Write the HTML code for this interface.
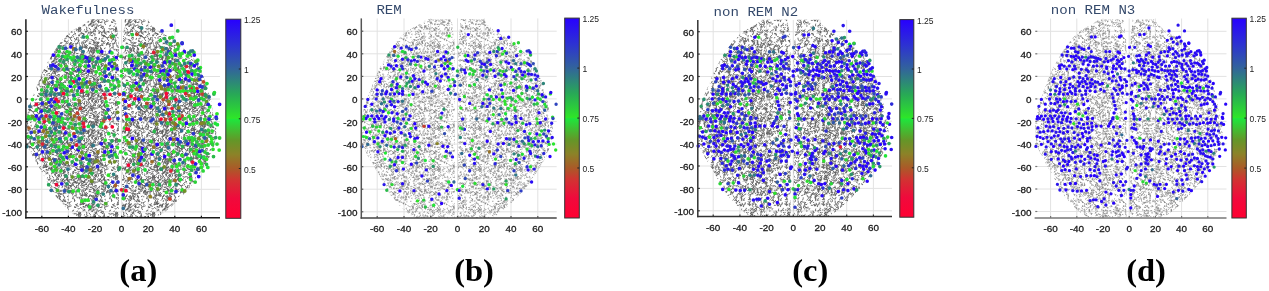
<!DOCTYPE html><html><head><meta charset="utf-8"><style>html,body{margin:0;padding:0;background:#fff;width:1269px;height:291px;overflow:hidden}svg{display:block;will-change:transform;filter:blur(0.35px)}</style></head><body>
<svg width="1269" height="291" viewBox="0 0 1269 291">
<defs>
<linearGradient id="cba" x1="0" y1="0" x2="0" y2="1"><stop offset="0" stop-color="#2800ff"/><stop offset="0.13" stop-color="#2d32d2"/><stop offset="0.25" stop-color="#32649b"/><stop offset="0.38" stop-color="#28aa55"/><stop offset="0.498" stop-color="#2ee628"/><stop offset="0.502" stop-color="#1ee63c"/><stop offset="0.61" stop-color="#649628"/><stop offset="0.68" stop-color="#8c8228"/><stop offset="0.75" stop-color="#aa5a28"/><stop offset="0.81" stop-color="#d23232"/><stop offset="0.9" stop-color="#f00a3c"/><stop offset="1" stop-color="#ff0032"/></linearGradient>
<linearGradient id="cbb" x1="0" y1="0" x2="0" y2="1"><stop offset="0" stop-color="#2800ff"/><stop offset="0.13" stop-color="#2d32d2"/><stop offset="0.25" stop-color="#32649b"/><stop offset="0.38" stop-color="#28aa55"/><stop offset="0.498" stop-color="#2ee628"/><stop offset="0.502" stop-color="#1ee63c"/><stop offset="0.61" stop-color="#649628"/><stop offset="0.68" stop-color="#8c8228"/><stop offset="0.75" stop-color="#aa5a28"/><stop offset="0.81" stop-color="#d23232"/><stop offset="0.9" stop-color="#f00a3c"/><stop offset="1" stop-color="#ff0032"/></linearGradient>
<linearGradient id="cbc" x1="0" y1="0" x2="0" y2="1"><stop offset="0" stop-color="#2800ff"/><stop offset="0.13" stop-color="#2d32d2"/><stop offset="0.25" stop-color="#32649b"/><stop offset="0.38" stop-color="#28aa55"/><stop offset="0.498" stop-color="#2ee628"/><stop offset="0.502" stop-color="#1ee63c"/><stop offset="0.61" stop-color="#649628"/><stop offset="0.68" stop-color="#8c8228"/><stop offset="0.75" stop-color="#aa5a28"/><stop offset="0.81" stop-color="#d23232"/><stop offset="0.9" stop-color="#f00a3c"/><stop offset="1" stop-color="#ff0032"/></linearGradient>
<linearGradient id="cbd" x1="0" y1="0" x2="0" y2="1"><stop offset="0" stop-color="#2800ff"/><stop offset="0.13" stop-color="#2d32d2"/><stop offset="0.25" stop-color="#32649b"/><stop offset="0.38" stop-color="#28aa55"/><stop offset="0.498" stop-color="#2ee628"/><stop offset="0.502" stop-color="#1ee63c"/><stop offset="0.61" stop-color="#649628"/><stop offset="0.68" stop-color="#8c8228"/><stop offset="0.75" stop-color="#aa5a28"/><stop offset="0.81" stop-color="#d23232"/><stop offset="0.9" stop-color="#f00a3c"/><stop offset="1" stop-color="#ff0032"/></linearGradient>
<pattern id="gpa" patternUnits="userSpaceOnUse" width="37" height="37"><path d="M7.2 29.8q-0.3 1.0 -1.6 1.7M20.6 1.5q0.6 -1.5 1.8 -1.5M16.2 24.9q-0.0 -1.1 0.6 -1.2M15.2 6.9q0.5 -1.3 0.9 -1.0M27.7 4.0q1.6 0.6 1.7 0.7M27.5 16.8q-0.2 0.1 1.4 -0.2M18.7 7.3q0.4 -0.2 1.7 0.9M36.2 36.1q0.7 0.4 0.6 0.8M36.2 -0.9q0.7 0.4 0.6 0.8M-0.8 36.1q0.7 0.4 0.6 0.8M-0.8 -0.9q0.7 0.4 0.6 0.8M27.6 1.8q1.7 -1.3 1.9 -1.0M19.6 31.0q1.1 0.4 2.0 0.6M20.3 15.1q0.4 -0.3 0.3 -1.7M22.3 10.4q0.5 -1.4 2.0 -1.7M10.9 18.6q-0.9 0.1 -2.6 -0.1M7.8 17.9q-0.2 -1.0 1.4 -1.3M1.5 19.9q0.2 0.1 2.1 -1.1M10.0 34.0q-0.7 0.2 -1.5 1.6M10.0 -3.0q-0.7 0.2 -1.5 1.6M18.6 32.1q-1.0 1.1 -1.7 0.7M7.1 17.5q0.0 -1.5 0.5 -2.3M32.6 6.9q0.1 -1.1 2.1 -1.3M7.1 9.3q-0.9 -1.4 -1.6 -1.5M2.2 10.1q-0.9 0.7 -0.5 1.1M16.1 24.0q-0.4 -1.0 0.6 -1.1M29.5 31.3q0.2 -0.3 0.7 1.1M14.4 20.8q-0.9 0.6 -2.5 -0.3M14.5 22.4q0.6 -0.5 -0.1 -2.5M10.5 14.2q-0.4 -0.3 -1.9 -0.4M34.9 36.3q0.8 -1.0 1.7 -1.8M34.9 -0.7q0.8 -1.0 1.7 -1.8M-2.1 36.3q0.8 -1.0 1.7 -1.8M-2.1 -0.7q0.8 -1.0 1.7 -1.8M7.9 7.7q0.1 -0.1 1.2 -0.6M25.0 2.8q0.7 -0.5 0.5 -1.5M37.0 6.3q-0.1 0.9 -1.7 0.8M-0.0 6.3q-0.1 0.9 -1.7 0.8M16.9 33.9q1.5 -0.7 1.2 -2.1M24.1 9.3q1.2 -0.1 2.5 -0.4M9.9 21.6q-1.1 -0.8 -1.3 -0.1M14.6 20.0q-1.1 0.1 -1.0 1.9M10.2 5.7q-0.8 0.9 -0.6 0.9M9.6 21.3q0.9 1.3 0.3 1.3M8.7 19.2q0.8 -2.0 1.1 -2.2M23.6 8.8q-1.8 -0.3 -2.5 -0.5M20.1 22.6q-1.3 0.2 -2.3 -0.6M15.4 11.6q0.4 -1.6 0.5 -1.8M7.3 10.3q1.4 0.7 1.5 0.5M28.9 6.8q0.6 0.4 2.2 -0.8M20.9 27.7q0.7 -0.1 0.8 1.0M4.4 28.0q0.5 0.0 2.3 -0.2M22.7 1.1q-0.6 -0.5 -1.7 -0.5M4.0 0.2q-0.2 0.9 0.1 1.2M6.3 33.7q-0.3 0.5 -0.9 2.2M18.5 3.1q0.5 0.1 1.5 0.5M33.5 2.2q-0.0 -0.0 1.3 1.6M26.8 27.3q1.2 -0.6 0.9 -1.4M8.0 19.3q-1.9 1.0 -2.3 0.3M1.1 2.1q0.4 0.3 -0.9 -0.9M7.7 1.2q-1.2 -0.3 -1.7 -1.8M29.2 31.8q-0.6 0.0 -1.6 0.6M23.0 11.8q-0.3 1.8 -0.2 2.3M32.9 6.2q-0.4 0.5 -0.5 1.9M31.8 36.8q-1.3 -0.3 -2.4 -0.3M31.8 -0.2q-1.3 -0.3 -2.4 -0.3M20.5 24.1q-0.4 0.4 -1.5 1.5M33.8 1.7q-0.3 -0.4 -1.6 -1.3M1.3 28.6q-0.8 -0.4 -1.4 0.1M27.9 3.0q-0.4 0.5 0.4 1.5M19.4 15.6q0.7 -1.1 0.4 -2.3M22.0 7.3q-0.2 -0.9 0.8 -0.9M25.7 15.1q0.0 -0.4 1.6 -1.6M31.3 33.3q-0.3 -0.1 -0.6 -2.0M15.1 16.5q-0.2 -1.3 0.6 -1.2M6.4 31.7q0.1 -0.5 -0.5 -1.3M1.7 33.5q-0.8 -0.9 -2.1 -0.7M12.3 9.2q0.7 1.3 0.6 2.2M9.1 4.6q-0.4 1.0 -1.3 0.7M36.0 8.6q0.2 1.6 -0.6 1.7M-1.0 8.6q0.2 1.6 -0.6 1.7M20.9 35.3q0.6 -1.7 0.2 -1.8M20.9 -1.7q0.6 -1.7 0.2 -1.8M2.8 26.5q0.6 -1.0 0.9 -0.7M27.9 35.2q1.8 0.9 2.5 0.5M27.9 -1.8q1.8 0.9 2.5 0.5M12.7 29.7q0.3 -1.7 0.0 -2.5M25.6 32.7q-0.2 -1.7 -1.0 -2.0M34.9 28.7q1.3 0.3 2.1 0.6M-2.1 28.7q1.3 0.3 2.1 0.6M19.2 32.8q0.8 -0.1 0.9 1.3M3.5 12.9q0.3 -1.2 -0.8 -1.0M22.6 5.5q0.4 1.0 2.5 0.2M9.1 33.7q1.3 0.1 1.3 0.6M19.4 31.9q0.3 -1.4 0.9 -1.8M6.5 22.5q1.6 0.6 1.8 1.5M5.9 9.2q0.5 0.1 1.6 1.6M24.8 21.5q-0.9 -0.1 -1.3 0.0M30.0 31.6q-0.7 -0.4 -0.1 -1.5M30.6 35.9q0.8 -0.3 1.0 0.9M30.6 -1.1q0.8 -0.3 1.0 0.9M30.5 21.2q0.4 1.2 1.8 0.6M18.7 26.5q-0.8 0.3 -1.1 0.1M0.1 31.5q-0.1 -0.0 -1.4 1.4M32.3 32.9q-0.7 0.6 -1.9 0.3M7.4 6.3q1.1 -0.1 2.1 -0.8M29.8 35.3q-1.9 -0.6 -2.0 0.5M29.8 -1.7q-1.9 -0.6 -2.0 0.5M20.6 12.2q0.1 0.8 -1.4 1.1M36.2 7.9q0.2 0.7 -0.1 1.0M-0.8 7.9q0.2 0.7 -0.1 1.0M2.9 29.4q-1.0 0.3 -1.0 -0.8M18.4 13.2q0.3 -0.4 -0.2 -1.8M15.9 33.6q1.2 -0.7 1.6 -1.2M31.0 32.7q0.7 0.5 1.2 1.7M30.5 18.3q0.3 -0.5 -0.1 -1.1M14.1 19.7q-1.0 0.6 -1.2 0.6M5.3 7.0q-0.6 0.0 -0.2 -1.3M7.5 19.1q0.4 0.3 1.5 -0.4M21.3 11.4q-1.3 0.6 -0.9 1.0M19.9 19.4q-1.2 1.2 -1.9 1.1M31.2 10.8q-0.6 -0.2 -0.8 0.9M21.6 24.0q0.8 -0.6 1.9 0.6M0.0 21.5q0.6 1.0 1.9 0.8M10.1 24.9q-0.1 1.2 -1.1 1.1M10.9 36.7q1.1 -0.1 1.8 -0.3M10.9 -0.3q1.1 -0.1 1.8 -0.3M22.7 11.2q-0.5 -0.1 -1.4 -0.5M22.3 26.0q1.0 -0.5 2.1 -0.1M19.4 10.7q-1.3 1.1 -1.6 1.0M29.0 8.0q-0.4 -0.5 -2.5 0.5M19.0 23.6q0.1 0.8 1.1 2.2M21.5 21.0q-1.2 0.6 -1.3 0.6M0.1 15.9q0.9 -0.7 0.2 -2.0M10.8 24.9q-0.5 1.3 0.1 1.2M17.9 35.7q-1.7 -1.3 -2.2 -0.8M17.9 -1.3q-1.7 -1.3 -2.2 -0.8M6.3 20.0q0.8 -0.9 0.4 -2.5M27.5 12.8q0.7 -0.2 -0.4 -1.0M0.2 22.1q1.0 -0.6 1.6 0.5M25.8 19.0q0.8 -0.3 1.5 -0.1M12.6 4.0q1.6 0.1 1.7 -0.3M2.4 7.2q1.2 -0.0 1.5 -1.0M11.4 20.5q-0.1 -0.8 1.0 -1.2M33.5 6.6q1.3 0.8 2.2 1.2M4.7 4.4q-0.8 1.3 -1.2 1.4M4.4 3.3q0.6 1.3 -0.1 1.5M16.0 13.3q0.6 1.1 1.7 1.8M14.3 0.5q0.3 0.2 0.7 1.4M4.9 34.3q-0.6 0.1 -0.3 1.5M4.9 -2.7q-0.6 0.1 -0.3 1.5M6.0 27.0q1.2 0.4 0.7 1.7M2.4 20.0q0.2 1.0 0.5 1.2M22.7 20.6q0.1 -1.6 1.4 -2.0M20.6 18.6q0.4 0.4 -0.5 1.0M17.7 18.8q0.2 1.1 2.1 0.6M25.9 16.5q-1.6 -1.2 -2.1 -0.7M17.8 36.4q-0.1 0.1 0.8 -1.3M17.8 -0.6q-0.1 0.1 0.8 -1.3M0.7 34.1q-0.0 0.3 0.8 1.0M0.7 -2.9q-0.0 0.3 0.8 1.0M2.6 1.8q0.5 -0.5 0.2 -2.2M1.0 15.8q-0.8 1.3 -0.6 1.0M18.3 18.1q0.2 -2.1 -0.2 -2.5M18.2 20.4q-1.3 -0.0 -1.0 1.2M31.4 15.0q-1.1 -0.4 -0.4 -0.9M22.0 9.2q-1.2 0.6 -1.1 0.3M35.4 26.1q1.6 0.0 1.4 -1.0M-1.6 26.1q1.6 0.0 1.4 -1.0M7.6 32.6q1.1 0.0 0.4 1.4M15.6 33.0q1.3 -1.4 0.9 -1.8M17.0 23.2q-1.1 0.3 -1.7 1.9M8.0 14.4q-0.9 -1.3 -0.6 -1.8M11.8 20.7q-0.7 0.7 0.1 1.0M11.2 8.2q-0.3 -1.6 -1.5 -1.8M12.1 31.2q1.1 -0.5 1.8 -0.4M30.7 35.4q-0.3 -0.7 -1.9 0.2M30.7 -1.6q-0.3 -0.7 -1.9 0.2M18.4 21.4q-0.7 1.7 -1.1 1.8M2.5 6.7q0.4 -0.9 -0.9 -0.4M14.0 2.7q-1.0 -1.5 -1.8 -1.3M27.6 12.4q-0.3 -0.9 -1.4 -2.1M20.9 11.6q-0.8 1.0 -1.1 0.2M27.7 34.7q0.1 -1.9 0.2 -2.3M27.7 -2.3q0.1 -1.9 0.2 -2.3M2.5 30.4q1.2 -1.3 1.7 -1.0M14.6 11.9q-0.3 1.1 -0.3 1.8M4.3 31.9q0.0 -1.8 0.1 -2.2M14.5 32.3q0.2 0.9 -0.8 2.2M1.3 3.9q-0.6 0.8 -1.3 0.4M33.0 31.7q0.7 0.7 2.0 -0.3M28.0 21.1q-0.4 0.4 -0.3 1.6M7.2 13.0q-0.7 0.2 -2.2 -0.6M15.2 24.4q0.2 1.6 -0.7 1.6M3.9 2.5q0.2 -0.3 1.4 0.6M26.8 14.5q-0.3 1.2 0.3 1.0M2.9 2.7q-0.9 -0.0 -1.9 -0.5M35.0 0.4q-1.5 0.6 -2.3 -0.1M-2.0 0.4q-1.5 0.6 -2.3 -0.1M32.4 17.9q1.0 -0.1 1.8 -1.4M18.9 19.2q0.7 1.0 0.2 2.1M9.4 19.7q1.5 -1.4 1.5 -1.7M20.0 13.0q-0.5 -1.5 -0.8 -2.3M4.8 27.2q-0.1 1.0 0.7 1.8M12.3 3.4q-0.0 1.6 -0.9 2.0M11.8 32.4q0.6 -0.9 1.2 -1.3M16.3 10.2q-1.6 1.1 -1.8 1.4M27.0 16.9q0.8 -0.8 1.1 -1.9M26.8 22.6q-1.7 -0.5 -2.3 -0.7M15.0 6.0q0.5 -0.2 2.1 0.9M24.6 20.5q0.3 0.5 -0.2 2.4M25.0 19.3q0.5 0.2 -0.4 1.8M25.4 33.5q-0.0 -0.8 -0.9 -0.6M27.0 32.0q-1.5 -0.6 -1.6 -1.0M0.3 16.4q0.0 -0.0 0.1 -1.5M9.0 33.6q-1.1 0.1 -2.0 -0.9M4.9 13.0q1.0 1.2 1.2 1.4M21.0 2.4q0.8 0.9 1.1 0.5M9.6 15.7q0.6 1.5 -0.5 1.4M36.3 11.6q-0.2 1.8 -0.5 2.2M-0.7 11.6q-0.2 1.8 -0.5 2.2M3.7 23.8q0.1 0.4 1.6 -0.1M33.8 5.4q0.5 1.6 -0.4 1.5M23.7 14.9q-1.1 -0.2 -1.7 -1.8M27.7 4.0q-1.2 0.3 -1.1 0.2M19.8 29.2q1.5 -0.2 1.8 1.2M30.5 30.7q0.3 -0.9 -0.3 -2.2M19.7 15.8q-0.6 -1.1 -1.3 -1.1M24.2 6.6q-0.1 -1.1 -0.9 -1.0M30.5 20.4q-1.2 -1.1 -2.2 -1.0M14.5 13.6q-0.4 1.0 -1.4 1.8M29.1 26.3q-0.6 -0.2 -1.5 1.1M21.7 27.7q1.2 0.3 0.8 -0.7M17.0 2.4q0.9 0.2 2.3 1.2M34.0 31.8q-0.1 0.8 1.1 0.6M6.3 29.9q0.1 -0.8 -0.4 -1.6M33.7 6.4q-0.4 0.1 0.1 1.3M28.8 26.1q0.8 0.7 0.5 1.9M24.5 26.1q1.1 -0.8 2.3 -1.2M29.1 5.5q1.3 -1.1 2.0 -1.6M9.5 19.1q-0.4 -1.1 -1.0 -1.9M9.6 34.5q-0.2 -1.4 -0.7 -1.3M9.6 -2.5q-0.2 -1.4 -0.7 -1.3M11.1 31.4q1.0 0.1 1.2 0.4M22.1 14.0q0.4 -1.7 1.2 -2.3M36.3 13.7q-1.3 -0.8 -1.1 -0.6M-0.7 13.7q-1.3 -0.8 -1.1 -0.6M22.3 11.1q-0.1 0.5 1.2 0.3M8.5 8.5q1.1 0.1 0.5 1.1M8.9 11.0q0.8 -0.8 1.2 -1.2M9.9 3.6q0.7 -0.3 1.3 0.4M13.8 21.2q0.0 -0.5 0.9 -2.3M16.9 24.9q0.2 -0.8 0.5 -1.4M14.6 19.9q0.1 -1.0 0.9 -1.2M17.9 25.4q0.3 -0.9 1.0 -0.4M9.9 1.5q-0.5 -1.2 0.9 -2.1M10.6 25.4q-0.0 0.2 -0.5 -1.3M15.1 28.1q0.5 1.2 1.6 1.9M22.4 27.5q-0.2 0.3 0.7 1.8M28.2 16.7q-0.7 -0.8 -0.2 -1.2M11.9 11.2q0.3 -0.8 0.0 -2.5M4.9 29.9q-0.1 -0.3 -0.2 -1.4M11.1 29.3q0.4 -0.3 -0.9 0.8M4.5 30.6q1.2 -0.9 0.9 -1.9M11.9 22.0q-0.1 0.6 -1.9 -0.0M21.4 7.2q-1.1 -0.5 -0.3 -1.9M17.0 19.2q1.1 0.1 1.0 -0.4M30.6 22.3q-0.2 1.5 0.8 2.4M1.2 10.7q-1.1 -0.1 -2.1 0.4M27.3 15.2q-0.4 0.5 -1.8 1.5M11.2 8.7q0.4 -0.0 2.1 1.4M2.2 10.2q0.1 -1.5 -0.4 -2.5M21.0 5.2q-0.1 -0.1 -1.6 -0.3M34.2 21.0q-1.4 0.8 -1.9 0.1M-2.8 21.0q-1.4 0.8 -1.9 0.1M27.2 27.5q1.2 0.2 1.8 1.4M31.9 17.6q0.3 1.2 1.1 2.0M2.8 20.6q0.5 -0.3 1.6 0.6M22.7 27.0q-0.6 0.9 -1.0 1.5" fill="none" stroke="#5c5c5c" stroke-width="0.92" stroke-linecap="round"/></pattern><pattern id="gqa" patternUnits="userSpaceOnUse" width="37" height="37"><path d="M20.0 4.9q-0.0 0.2 1.3 0.2M16.9 34.6q1.7 -0.0 2.3 -0.7M16.9 -2.4q1.7 -0.0 2.3 -0.7M6.3 21.6q-0.8 0.2 -1.8 0.1M17.8 26.5q0.6 0.9 0.1 1.4M7.1 29.8q-1.6 0.3 -2.4 -0.4M36.0 25.2q0.2 -1.5 0.9 -2.2M-1.0 25.2q0.2 -1.5 0.9 -2.2M25.5 13.9q-0.2 0.9 -0.6 1.5M33.4 35.4q-0.2 -1.5 -1.2 -1.9M33.4 -1.6q-0.2 -1.5 -1.2 -1.9M31.6 32.0q0.4 -0.3 1.3 -0.4M26.0 16.1q1.1 0.4 0.8 -0.8M11.6 5.5q0.2 -0.4 0.9 -2.4M28.5 23.3q0.3 0.9 -0.8 0.6M36.3 7.8q1.1 -1.2 1.7 -1.8M-0.7 7.8q1.1 -1.2 1.7 -1.8M8.9 35.5q0.1 0.6 0.2 1.9M8.9 -1.5q0.1 0.6 0.2 1.9M6.4 0.0q0.2 -1.9 0.2 -1.9M34.1 8.3q0.0 0.9 0.7 1.5M-2.9 8.3q0.0 0.9 0.7 1.5M20.0 5.7q0.3 -1.2 -0.2 -1.8M26.7 10.7q0.5 1.5 0.8 1.8M22.6 5.2q-0.4 -0.1 0.7 -1.8M7.1 21.8q0.6 0.4 2.0 1.3M35.9 18.5q1.7 -1.0 1.9 -0.7M-1.1 18.5q1.7 -1.0 1.9 -0.7M32.7 12.1q-0.3 -1.3 0.1 -1.1M1.2 30.8q0.0 0.3 1.3 -0.1M12.1 34.6q0.2 0.5 0.3 1.8M12.1 -2.4q0.2 0.5 0.3 1.8M22.9 3.7q0.5 -0.5 1.4 0.5M35.6 34.7q1.0 0.8 0.2 2.3M35.6 -2.3q1.0 0.8 0.2 2.3M-1.4 34.7q1.0 0.8 0.2 2.3M-1.4 -2.3q1.0 0.8 0.2 2.3M31.0 5.6q0.1 -1.2 0.5 -2.3M15.6 20.0q0.7 1.0 -0.2 1.3M36.7 33.0q-0.7 -1.3 0.3 -1.6M-0.3 33.0q-0.7 -1.3 0.3 -1.6M18.0 19.4q0.2 0.6 0.7 0.9M27.8 21.1q-0.2 0.6 -0.8 0.8M26.1 23.5q0.2 -0.8 0.3 -1.2M8.8 10.0q-0.2 0.9 -0.6 0.8M28.9 1.0q-1.3 -0.5 -1.9 -0.3M5.7 32.5q1.1 -0.8 1.5 -0.7M27.6 24.8q-0.1 0.2 -0.7 -1.4M5.9 21.2q-1.2 0.4 -2.3 0.2M19.4 15.0q-0.1 0.6 -0.0 1.5M21.6 26.2q-0.8 0.0 -0.8 1.5M34.3 6.9q-0.1 -0.6 0.6 -2.1M-2.7 6.9q-0.1 -0.6 0.6 -2.1M16.8 12.7q-0.2 1.5 0.3 2.5M34.3 1.4q-1.4 -1.7 -1.8 -1.8M-2.7 1.4q-1.4 -1.7 -1.8 -1.8M25.8 13.3q1.0 -0.5 1.3 -2.0M14.8 21.6q-1.0 1.1 -2.3 1.1M12.5 10.7q-0.2 -0.4 -2.2 -0.2M33.5 5.6q0.5 0.8 -0.3 1.5M19.6 14.9q0.1 0.3 0.9 0.7M34.2 15.7q0.5 -1.0 1.6 -2.0M-2.8 15.7q0.5 -1.0 1.6 -2.0M16.4 2.7q0.6 -0.7 0.7 -1.0M34.6 18.0q0.7 0.2 1.8 -0.1M-2.4 18.0q0.7 0.2 1.8 -0.1M34.3 1.7q-0.0 -0.8 -1.1 -1.0M-2.7 1.7q-0.0 -0.8 -1.1 -1.0M7.0 11.7q-0.4 0.8 -0.7 1.0M15.4 35.6q0.2 -0.2 1.0 0.8M15.4 -1.4q0.2 -0.2 1.0 0.8M13.6 1.1q1.1 -0.0 0.9 -0.8M17.2 10.6q-0.0 1.6 0.1 2.4M24.8 3.2q-1.1 -0.7 -0.3 -1.1M26.2 25.9q-0.1 -0.9 0.8 -2.4M31.7 0.3q0.5 -0.4 2.3 -0.8M8.0 27.3q1.0 -0.7 0.3 -1.1M11.0 32.6q0.7 0.4 -0.2 1.0M8.0 33.3q1.6 -0.6 1.5 0.1M9.3 20.0q-0.4 1.7 -0.2 2.6M33.2 8.9q0.5 0.2 1.5 0.4M18.5 13.2q-1.0 1.0 -1.0 1.7M0.7 29.7q0.8 -0.1 0.5 1.4M4.1 16.5q-1.4 0.6 -1.8 -0.0M19.2 17.1q0.0 -0.2 -0.2 -1.2M27.0 30.2q-1.0 0.7 -1.3 1.9M23.4 7.7q0.2 -0.8 1.0 -1.5M9.3 0.1q0.1 -0.4 -1.2 0.6M27.8 16.8q1.7 -0.3 1.7 1.1M35.1 35.4q0.5 0.2 0.1 1.0M35.1 -1.6q0.5 0.2 0.1 1.0M-1.9 35.4q0.5 0.2 0.1 1.0M-1.9 -1.6q0.5 0.2 0.1 1.0M10.8 33.7q0.2 -1.1 -0.4 -1.5M24.2 11.4q0.4 -1.2 -0.9 -2.3M15.2 36.7q-0.8 0.5 -0.9 -0.5M15.2 -0.3q-0.8 0.5 -0.9 -0.5M7.6 15.9q1.1 -0.5 0.6 -1.0M8.6 9.6q-1.3 0.8 -1.4 1.4M25.2 32.2q0.2 -0.7 1.5 -0.8M14.4 22.1q0.2 1.6 0.7 2.4M6.8 10.9q-0.1 0.3 -0.9 0.8M24.1 34.0q-0.5 0.3 -2.3 0.1M24.1 -3.0q-0.5 0.3 -2.3 0.1M29.8 3.7q0.3 -0.3 2.0 -1.6M29.8 30.4q-0.5 0.2 0.6 1.9M3.8 34.9q-1.9 0.5 -2.5 -0.3M3.8 -2.1q-1.9 0.5 -2.5 -0.3M4.2 37.0q0.9 -1.4 1.4 -1.8M4.2 -0.0q0.9 -1.4 1.4 -1.8M15.7 25.4q-0.5 1.0 -1.5 0.6M35.3 30.4q1.4 0.6 1.9 1.7M-1.7 30.4q1.4 0.6 1.9 1.7M4.2 32.1q-1.2 -0.3 -0.9 1.0M5.1 26.3q0.2 -1.5 -0.7 -1.4M21.4 12.8q0.9 0.6 0.9 1.7M24.9 12.3q0.5 0.5 1.4 1.7M31.3 1.7q-0.5 1.5 -0.4 1.4M26.9 17.5q0.5 -0.2 1.7 -0.2M29.7 2.5q0.2 -0.4 0.2 -2.4M22.0 11.7q-0.5 -1.2 0.1 -1.9M31.3 18.3q0.4 -1.3 0.3 -2.1M12.4 7.5q0.8 1.3 1.3 1.4M16.2 31.4q0.7 -0.5 1.0 -0.6M18.4 24.6q0.4 0.6 0.9 0.7M10.3 8.7q-0.0 1.3 1.6 1.5M16.0 17.3q0.5 1.8 1.2 1.9M35.5 24.3q0.8 0.2 1.1 -1.0M-1.5 24.3q0.8 0.2 1.1 -1.0M13.8 25.9q1.6 1.1 1.4 1.6M17.2 11.8q0.1 -0.8 0.5 -1.1M10.3 22.0q-1.5 0.2 -1.4 2.0M8.1 11.9q-0.6 0.3 -0.9 0.4M9.7 3.0q-0.4 -1.2 -2.4 -0.9M7.1 34.3q0.6 0.9 0.4 2.2M7.1 -2.7q0.6 0.9 0.4 2.2M36.9 0.5q-0.6 0.8 -1.3 -0.1M-0.1 0.5q-0.6 0.8 -1.3 -0.1M32.7 3.6q-0.7 -0.6 -0.7 -1.2M18.3 0.6q1.2 0.5 1.5 1.3M16.8 14.7q-0.3 -0.2 -1.2 -0.1M24.6 5.9q0.2 -0.8 -1.3 -0.6M14.9 30.2q0.1 -1.1 -1.3 -2.1M15.8 10.6q0.9 0.6 2.1 0.2M10.8 27.3q-0.5 0.9 -0.4 2.2M23.5 30.9q-0.1 -0.2 0.2 1.3M17.2 4.6q-0.8 0.1 -1.9 0.1M24.2 28.6q0.5 -0.3 0.4 -1.2M25.4 32.4q0.6 1.4 1.8 1.8M30.9 29.4q-0.0 1.6 -1.4 2.1M28.7 29.0q-1.0 0.8 -1.6 -0.0M28.3 24.1q-0.9 -0.0 -1.8 0.4M33.7 27.6q0.4 -1.5 0.1 -1.8M36.5 16.5q-1.0 -0.1 -1.1 -1.2M-0.5 16.5q-1.0 -0.1 -1.1 -1.2M28.8 8.7q-1.4 -0.9 -1.2 -1.8M19.7 35.2q-1.1 -1.8 -1.2 -2.2M19.7 -1.8q-1.1 -1.8 -1.2 -2.2M18.7 36.4q-1.0 0.1 -1.6 0.2M18.7 -0.6q-1.0 0.1 -1.6 0.2M23.8 22.7q0.2 0.8 -0.1 1.0M6.2 4.5q-0.9 -0.9 -0.8 -1.0M2.8 34.8q-1.1 -0.2 -2.5 -0.1M2.8 -2.2q-1.1 -0.2 -2.5 -0.1M2.5 5.2q1.0 0.5 0.9 0.9M18.5 27.5q0.3 0.8 0.8 1.3M2.8 20.7q0.2 0.6 -0.9 -0.6M7.7 17.3q-0.5 0.5 -2.0 1.3M20.9 10.4q1.2 0.9 1.9 0.9M11.8 36.0q-1.2 0.2 -1.8 1.4M11.8 -1.0q-1.2 0.2 -1.8 1.4M0.3 24.1q-0.0 -0.3 -1.1 -1.2M20.1 4.5q-0.0 1.8 -0.1 2.6M8.9 19.2q0.0 0.4 0.4 1.3M8.4 28.7q-1.0 1.3 -1.6 1.1M18.1 34.6q-1.6 0.0 -2.1 -0.5M18.1 -2.4q-1.6 0.0 -2.1 -0.5M10.8 34.4q-2.0 0.2 -2.4 -0.6M10.8 -2.6q-2.0 0.2 -2.4 -0.6M3.6 25.3q-1.1 -1.1 -2.2 -0.6M20.1 18.6q1.4 0.8 1.2 1.7M27.7 27.3q0.4 1.6 0.0 2.3M3.1 33.6q0.6 0.5 -0.4 1.6M31.4 26.4q-0.7 -0.5 -0.4 -1.8M10.2 30.7q-0.3 0.1 -1.0 -1.4M36.8 34.1q0.9 -0.1 2.0 -0.7M36.8 -2.9q0.9 -0.1 2.0 -0.7M-0.2 34.1q0.9 -0.1 2.0 -0.7M-0.2 -2.9q0.9 -0.1 2.0 -0.7" fill="none" stroke="#5c5c5c" stroke-width="0.92" stroke-linecap="round"/></pattern><pattern id="gpb" patternUnits="userSpaceOnUse" width="41" height="41"><path d="M14.6 34.1q-0.2 0.6 -0.3 0.5M27.8 2.7q-1.2 0.9 -0.7 0.0M28.9 14.8q-0.8 -0.9 0.2 -1.4M12.5 1.9q-0.0 -0.1 -0.0 -1.5M22.2 16.5q-1.0 -0.3 -1.3 -0.6M5.1 22.2q-0.9 0.2 -0.3 -0.9M31.6 33.9q0.4 0.1 0.9 1.3M12.1 3.2q1.0 -0.3 0.5 -1.4M21.7 15.3q-0.9 -0.2 -0.3 -0.4M13.4 40.6q0.1 -1.1 -0.2 -0.5M13.4 -0.4q0.1 -1.1 -0.2 -0.5M39.3 28.5q-0.8 -0.0 0.2 -0.9M-1.7 28.5q-0.8 -0.0 0.2 -0.9M28.0 13.8q-0.1 1.0 0.4 1.4M36.4 27.3q1.4 1.2 1.0 1.0M27.8 4.0q-0.1 1.0 1.1 0.7M9.1 18.7q0.4 0.2 0.2 1.2M19.9 19.7q-0.6 -1.4 -0.9 -1.2M37.7 29.2q-0.5 1.4 0.6 1.1M10.5 30.5q-0.3 1.3 -0.7 0.9M19.5 33.7q0.1 -0.7 -0.9 -0.0M7.3 12.9q-1.1 -0.9 -1.1 -0.1M19.1 2.8q-0.2 -0.9 -1.5 -0.4M25.5 13.7q-0.0 -0.9 0.3 -1.1M6.2 26.0q0.9 0.3 0.1 1.2M27.2 28.9q-1.6 -0.3 -1.6 -0.3M6.3 33.9q-0.1 -1.5 -0.4 -1.3M2.9 17.3q-0.3 0.7 0.6 -0.2M18.7 27.2q0.3 -0.0 -0.5 -1.4M14.6 40.7q-0.2 -1.0 0.7 -0.7M14.6 -0.3q-0.2 -1.0 0.7 -0.7M6.1 12.7q0.0 0.8 0.4 0.9M29.1 4.4q0.8 0.9 1.1 0.5M25.3 34.7q1.4 -0.5 1.2 0.8M10.1 38.5q-0.6 -0.0 0.4 1.1M10.1 -2.5q-0.6 -0.0 0.4 1.1M12.5 36.2q1.0 0.4 0.3 1.0M4.5 39.5q-1.1 -0.8 -0.6 0.1M4.5 -1.5q-1.1 -0.8 -0.6 0.1M21.6 4.3q-0.2 0.8 -1.0 0.5M6.9 16.6q-0.3 0.1 -0.5 0.5M34.7 21.1q0.6 0.8 0.4 1.4M38.0 31.8q-1.0 0.0 -0.7 1.3M24.8 29.9q-0.0 -0.7 -0.7 -1.3M39.1 30.4q-0.7 0.2 -0.4 -0.9M-1.9 30.4q-0.7 0.2 -0.4 -0.9M24.6 29.6q0.9 -0.1 1.1 0.3M21.6 35.5q-1.0 0.1 -1.1 -0.9M1.8 34.0q-0.5 1.0 0.1 0.9M39.4 32.7q-0.2 0.6 0.6 0.7M-1.6 32.7q-0.2 0.6 0.6 0.7M10.0 26.2q0.3 1.1 0.3 1.3M20.1 0.3q0.4 0.5 -0.1 0.8M13.3 14.9q0.6 0.7 -0.5 0.3M34.9 4.3q0.2 0.2 -0.1 0.6M21.2 22.5q-0.4 -0.3 0.6 0.1M33.2 33.3q-0.0 0.1 0.6 0.1M8.0 33.1q0.1 -0.2 0.4 -0.8M5.8 5.7q0.9 -0.4 1.2 0.4M37.4 4.4q-0.8 -0.4 0.0 -1.4M1.9 0.6q0.1 0.3 0.8 1.2M19.1 21.8q-0.5 -0.3 0.2 -1.2M1.3 10.6q-0.3 -0.6 -1.2 -0.0M4.3 15.0q1.1 -0.3 1.3 0.5M30.6 4.9q-1.2 -0.1 -0.8 0.0M20.0 36.5q-0.7 1.0 -0.1 0.9M22.3 11.3q0.9 -0.4 0.7 -1.0M7.9 31.3q-0.6 -0.4 0.2 0.6M3.4 13.2q-1.3 0.6 -1.5 0.2M33.4 3.8q-0.4 0.5 0.5 0.5M9.7 18.7q1.3 1.1 1.3 0.5M22.7 10.0q1.2 0.5 1.4 0.0M9.0 29.8q-0.2 -0.1 -0.7 0.0M6.4 37.3q-1.0 -0.3 -0.8 -0.2M12.5 10.4q0.3 0.9 0.8 0.2M14.8 11.0q0.6 0.4 0.9 0.0M12.2 20.2q1.2 1.0 1.3 0.3M26.2 20.6q-1.6 0.3 -1.4 0.8M39.3 21.5q-0.3 -0.8 1.0 -0.4M-1.7 21.5q-0.3 -0.8 1.0 -0.4M8.0 24.9q0.4 0.2 1.2 0.6M8.5 39.7q-1.3 0.0 -1.4 0.1M8.5 -1.3q-1.3 0.0 -1.4 0.1M29.0 33.7q-0.6 -1.2 -0.1 -1.4M7.3 12.2q-0.1 0.8 1.3 -0.1M15.8 11.0q-1.0 -1.5 -0.2 -1.5M17.9 7.6q0.0 -0.4 -0.8 0.2M20.9 36.4q0.5 -0.0 0.8 -1.2M25.8 14.7q0.6 0.6 -0.3 1.2M31.0 33.2q-0.4 -0.4 -0.3 -0.4M16.0 29.1q1.4 0.1 1.4 -0.8M21.0 27.8q0.3 0.6 0.9 0.1M38.4 5.4q0.6 0.5 1.2 0.8M-2.6 5.4q0.6 0.5 1.2 0.8M28.0 6.5q-0.6 -0.2 -0.6 -1.1M17.5 5.0q0.5 0.1 0.4 -0.5M12.5 18.9q-0.8 0.4 0.1 1.0M34.3 33.8q-0.5 0.7 -0.0 0.7M6.0 37.4q0.2 1.2 0.2 0.7M13.6 29.6q1.4 -0.7 1.2 -0.8M14.2 12.0q0.7 0.5 0.5 0.7M21.9 7.1q0.0 0.8 1.1 0.1M30.8 22.4q1.6 1.3 1.3 0.8M39.9 20.3q-0.8 -0.3 -1.1 0.1M-1.1 20.3q-0.8 -0.3 -1.1 0.1M19.6 38.5q-0.8 0.5 -1.1 -0.2M19.6 -2.5q-0.8 0.5 -1.1 -0.2M5.7 39.9q-0.1 0.9 1.0 0.7M5.7 -1.1q-0.1 0.9 1.0 0.7M7.4 0.9q0.8 -0.9 0.7 -0.5M37.2 33.6q-0.3 1.4 -0.2 1.5M17.5 21.9q-0.0 -0.8 0.6 -0.5M31.0 36.8q-0.3 0.6 0.1 0.5M34.9 16.9q0.2 0.6 1.0 0.3M25.2 23.1q-0.9 0.3 -0.2 1.6M27.6 3.6q0.1 -0.0 1.2 0.7M11.0 26.7q1.0 -0.1 0.5 1.2M31.7 24.4q1.1 0.4 0.7 -0.3M13.0 9.2q-1.0 -0.6 -0.6 -0.2M2.8 7.3q-0.5 0.3 -0.2 -0.6M29.4 25.2q-0.5 0.3 0.6 -1.1M33.0 7.4q0.8 -0.7 0.8 -0.2M29.8 28.8q-0.6 0.7 -1.3 0.8M13.6 37.1q1.3 0.3 0.9 -0.3M15.7 26.2q-0.4 -0.1 -1.3 -0.4M10.0 24.7q-0.9 -0.5 -0.7 -0.9M19.4 5.8q-0.5 0.7 -0.3 0.5M17.8 15.3q-0.5 -1.2 -0.4 -1.0M19.4 27.7q-0.7 0.7 -0.2 1.1M34.4 12.5q-1.2 -0.7 -0.6 -1.2M37.3 13.5q-0.5 -0.1 0.7 -0.2M13.0 38.7q-0.6 -1.1 -0.6 -0.5M13.0 -2.3q-0.6 -1.1 -0.6 -0.5M22.4 40.7q-0.3 1.0 -1.4 0.5M22.4 -0.3q-0.3 1.0 -1.4 0.5M24.2 40.5q-0.6 -0.2 -0.3 -1.0M24.2 -0.5q-0.6 -0.2 -0.3 -1.0M22.4 13.8q-1.0 -0.8 -1.0 -0.6M27.3 20.2q-1.1 0.5 -1.6 0.0M32.3 32.2q0.9 0.6 0.6 0.2M35.1 28.3q-0.2 0.9 -0.3 1.5M18.9 18.9q-0.7 0.8 -0.1 1.1M11.4 39.9q-0.3 -0.1 0.8 0.4M11.4 -1.1q-0.3 -0.1 0.8 0.4M37.3 18.0q-1.3 -0.7 -1.0 -0.4M16.9 28.2q-0.9 0.2 -1.1 -0.7M20.8 2.8q-0.9 0.9 -0.7 0.7M2.3 28.4q0.1 -0.4 1.1 -0.4M32.7 22.4q0.9 -0.5 0.7 -0.9M26.2 22.0q-0.6 0.5 -0.6 -0.3M26.6 15.3q-0.2 0.7 -1.2 -0.3M6.5 5.2q-0.3 0.4 -0.7 1.3M14.9 1.6q-0.2 -0.3 0.6 0.5M23.8 36.8q-0.8 0.9 -0.5 0.6M5.3 15.7q0.5 -0.3 -0.6 0.3M38.9 21.1q0.2 -0.9 0.2 -1.2M-2.1 21.1q0.2 -0.9 0.2 -1.2M5.1 4.2q0.6 -0.6 1.4 -0.6M1.1 4.6q-0.7 0.7 -0.1 0.6M40.6 1.7q1.0 0.5 1.1 0.3M-0.4 1.7q1.0 0.5 1.1 0.3M12.7 36.3q0.1 0.2 0.1 0.8M23.9 15.1q-0.8 -0.8 -0.7 -0.3M15.8 26.1q0.1 0.6 -1.0 0.7M12.2 29.0q0.6 0.3 -0.6 -1.1M31.0 23.5q-0.4 0.8 -0.8 0.4M33.3 5.4q0.2 0.9 -1.1 0.9M11.1 25.0q0.5 0.6 0.1 1.0M9.6 11.0q0.8 -0.3 -0.1 1.0M0.7 24.4q-0.6 -0.4 0.5 0.3M21.9 6.3q-0.7 -1.0 -0.6 -0.6M23.1 16.8q0.1 -0.4 0.3 0.5M21.6 31.2q1.6 0.0 1.6 0.3M36.1 16.3q-0.2 1.0 -0.5 0.4M16.0 15.2q-0.1 -0.2 0.0 0.6M14.4 15.8q0.2 0.7 -0.7 -0.3M18.3 11.6q-0.1 0.6 -1.4 0.3M13.5 33.3q1.1 0.8 0.9 -0.2M14.5 0.3q0.4 -1.3 -0.6 -1.3M23.5 1.7q-0.0 0.9 -1.3 0.3M15.1 2.9q-0.2 -0.9 0.6 -0.5M3.1 8.3q-0.0 -1.1 0.6 -1.4M2.8 2.7q-0.8 -0.7 -1.0 -0.9M25.2 12.9q0.3 1.1 -0.0 0.7M38.2 24.6q0.1 0.1 -0.1 -1.0M-2.8 24.6q0.1 0.1 -0.1 -1.0M11.5 13.0q-0.5 -0.4 0.1 -1.0M10.3 11.1q0.7 0.1 0.1 -1.3M30.2 30.7q-0.9 0.5 -0.1 1.2M29.2 36.1q-0.4 0.6 -0.8 0.3M33.7 11.0q-0.6 0.7 -1.1 0.8M36.6 20.0q-0.2 -0.3 0.4 -1.0M32.7 21.6q-0.0 -0.7 0.2 -1.5M5.1 29.2q0.0 -1.3 -0.2 -1.0M14.0 39.2q0.2 -0.9 0.4 -1.1M14.0 -1.8q0.2 -0.9 0.4 -1.1M24.4 2.7q0.5 -1.1 0.4 -1.1M21.4 15.7q-1.1 -0.2 -0.3 1.2M8.1 24.2q0.3 0.2 1.5 -0.3M1.7 24.5q0.9 0.9 0.7 0.6M40.1 32.9q-0.8 0.9 -0.2 1.2M-0.9 32.9q-0.8 0.9 -0.2 1.2M33.1 34.0q-0.1 -0.2 -0.7 -0.5M23.4 36.8q0.2 -0.2 0.5 0.3M3.1 1.6q0.5 0.3 0.8 -0.8M23.0 5.5q-0.1 -0.0 -0.6 -0.0M14.0 7.7q0.9 -1.4 0.4 -1.5M1.6 31.2q0.5 -0.1 -0.6 0.8M39.9 14.1q0.9 -1.3 1.0 -1.1M-1.1 14.1q0.9 -1.3 1.0 -1.1M37.3 17.2q-1.0 -0.2 -1.1 0.8M22.8 6.3q0.1 -0.3 -0.2 0.9M18.3 4.2q1.2 -0.3 0.7 -0.2M39.1 19.4q0.4 0.5 -0.2 1.5M-1.9 19.4q0.4 0.5 -0.2 1.5M4.2 21.5q-0.5 -1.2 -0.3 -1.0M4.8 34.8q-0.1 0.4 0.8 -0.0M33.1 10.3q1.3 -0.9 1.3 -0.4M12.1 19.3q0.3 -0.3 0.2 0.9M31.7 23.1q1.5 0.3 1.4 -0.2M36.3 27.7q0.2 0.5 -0.8 -0.2M34.4 25.9q0.5 -0.1 0.5 -0.9M2.8 5.0q-0.4 -0.8 0.5 -1.1M19.9 5.1q-0.2 0.3 -0.6 -0.5M7.6 2.9q-0.0 -0.6 0.4 -1.1M28.3 0.9q1.3 -0.6 0.8 0.4M14.2 23.0q-0.0 1.1 0.5 0.6M25.1 13.3q-0.1 0.6 0.7 -0.4M32.0 20.4q0.2 -0.6 -0.8 -0.7M16.5 14.8q0.1 0.1 0.5 -0.2M18.5 24.7q0.9 0.8 0.5 0.1M11.6 38.1q-0.8 -0.1 0.1 -1.4M11.6 -2.9q-0.8 -0.1 0.1 -1.4M39.1 8.8q-0.7 -0.1 -0.6 0.0M-1.9 8.8q-0.7 -0.1 -0.6 0.0M8.6 7.9q0.0 -0.1 1.6 0.0M19.1 17.1q-0.6 0.5 -0.1 -0.8M11.3 0.5q-0.5 1.2 0.3 0.8M19.9 22.6q0.4 -1.2 1.4 -0.7M26.1 28.8q-0.1 -1.2 0.8 -0.9M3.5 13.4q1.3 0.0 0.8 -0.3M27.0 15.0q-0.5 -0.7 -0.0 -0.8M28.9 10.8q0.4 0.2 0.2 0.6M11.0 2.8q0.2 -0.7 -0.2 -0.5M39.2 23.5q0.1 -1.3 -1.2 -0.9M-1.8 23.5q0.1 -1.3 -1.2 -0.9M21.3 23.2q0.3 1.0 1.3 0.9M23.6 1.0q1.2 -0.7 0.9 0.0M36.3 40.7q1.1 -0.6 1.0 -0.3M36.3 -0.3q1.1 -0.6 1.0 -0.3M9.2 0.6q-0.6 0.2 0.0 -1.2M37.1 16.0q-0.5 -0.1 -0.4 1.0M5.1 27.0q1.0 1.6 0.2 1.4M2.3 3.8q-0.5 0.9 -1.2 0.6M18.8 8.5q-1.2 0.1 -0.9 -0.4M10.8 39.9q-0.3 -1.5 0.3 -1.4M10.8 -1.1q-0.3 -1.5 0.3 -1.4M3.4 2.2q0.6 0.8 -0.2 1.5M24.9 23.9q-0.8 -0.2 -0.3 1.0M28.6 24.2q-1.1 -0.5 -1.3 0.1M21.8 37.2q-0.9 0.5 -0.6 -0.6M17.5 29.3q0.6 -0.9 -0.4 -1.5M24.5 31.2q0.4 0.3 -0.6 -1.0M24.7 29.3q-0.8 -0.6 -0.3 0.5M29.3 12.1q-1.1 0.1 -0.6 -0.4M25.0 27.9q-0.2 -0.5 0.8 -0.6M38.7 15.2q0.3 0.2 -0.6 -0.4M-2.3 15.2q0.3 0.2 -0.6 -0.4M8.3 14.3q-0.9 0.3 -0.4 -0.5M17.3 16.0q0.8 -0.5 1.0 -1.0M12.1 37.2q-0.9 0.0 -0.3 0.8M26.0 6.6q0.5 -0.7 1.5 -0.4M8.5 39.5q0.2 0.5 0.4 0.4M8.5 -1.5q0.2 0.5 0.4 0.4M40.5 19.3q-0.4 0.1 -0.2 -0.7M-0.5 19.3q-0.4 0.1 -0.2 -0.7M18.9 29.2q1.6 0.7 1.5 -0.3M6.4 37.4q-0.3 -0.7 0.8 -0.2M9.3 34.8q1.2 1.0 0.9 0.8M29.1 2.8q0.7 -0.8 0.5 -0.0M4.1 15.9q-0.5 0.1 0.4 1.3M26.9 4.1q-0.4 0.4 -1.3 0.5M20.6 23.7q0.8 0.1 0.5 -1.0M28.0 36.2q-0.2 -1.4 0.5 -1.1M31.2 0.4q0.1 0.4 -1.3 -0.1M4.1 40.0q0.6 1.0 0.1 1.2M4.1 -1.0q0.6 1.0 0.1 1.2M5.4 7.6q-0.5 0.1 -0.3 -1.0M28.2 7.8q0.6 -0.6 0.7 -0.5M27.4 36.0q-1.2 -0.2 -0.7 0.5M24.1 13.8q0.4 -0.0 -0.4 -0.3M15.2 18.6q0.2 -0.0 0.4 -0.8M23.0 0.9q-0.8 -0.3 -0.6 0.9M37.2 35.8q0.4 -0.4 0.9 -0.2M38.2 6.8q0.0 0.9 0.8 0.6M-2.8 6.8q0.0 0.9 0.8 0.6M26.0 18.8q0.8 -0.7 0.9 -0.1M8.7 14.3q0.4 -0.5 0.9 0.1M1.5 22.2q-0.8 -0.3 -1.0 0.5M0.5 28.0q1.3 -0.8 1.2 -0.1M5.9 24.8q0.1 0.7 -1.3 -0.0M28.5 20.9q1.1 -0.1 1.4 0.1M27.1 39.8q-0.3 1.4 0.4 1.3M27.1 -1.2q-0.3 1.4 0.4 1.3M12.9 2.6q-0.3 -0.9 -0.8 -1.3M32.5 38.0q-0.6 -0.2 -0.4 0.5M34.2 33.3q-0.6 -1.1 -0.1 -1.0M23.3 14.0q-0.1 -0.4 1.2 -0.4M9.3 2.9q-0.6 -0.9 0.1 -1.0M33.7 24.2q0.1 -0.2 0.7 1.1M36.8 36.2q-0.3 -0.5 -1.1 -0.3M2.0 7.8q-0.0 0.0 0.4 -0.4M27.6 17.4q-0.7 -0.1 -0.3 0.9M14.0 15.8q-0.0 -0.9 0.3 -0.9M17.0 10.5q-0.0 1.1 0.6 1.0M6.6 15.4q0.9 -0.6 1.1 -0.1M7.2 31.3q0.4 -0.3 0.4 0.6M28.1 5.9q0.5 -0.9 1.4 -0.7M12.5 5.0q0.3 0.6 -0.5 0.0M10.7 3.6q-0.5 -0.5 0.5 -0.4M20.5 4.6q-0.1 0.1 -0.6 0.5M1.8 39.6q-0.1 -0.1 0.3 0.4M1.8 -1.4q-0.1 -0.1 0.3 0.4M36.0 7.5q0.2 -0.7 1.3 0.4M14.8 20.0q-0.9 0.2 -0.8 -0.8M30.0 3.1q0.9 0.2 0.5 0.4M4.8 24.7q0.3 -0.6 1.2 -0.7M5.8 14.2q-0.4 -1.0 -0.7 -0.2M28.2 18.9q0.3 0.6 1.0 -0.4M37.6 38.0q-0.3 -0.5 0.3 -0.4M37.6 -3.0q-0.3 -0.5 0.3 -0.4M18.4 15.1q-0.7 -0.0 -0.3 0.5M15.0 26.3q0.3 1.4 -0.0 1.6M40.0 6.4q-0.1 -1.4 1.0 -1.2M-1.0 6.4q-0.1 -1.4 1.0 -1.2M0.5 15.3q-1.0 0.8 -0.8 0.8M35.0 19.1q-0.1 -0.2 0.3 0.4M25.0 14.3q0.3 0.2 -0.5 0.4M30.9 38.1q-1.0 -0.6 -0.9 -0.4M30.9 -2.9q-1.0 -0.6 -0.9 -0.4M36.5 34.2q-0.7 0.1 -0.7 -0.4M13.2 20.5q0.8 -0.7 1.3 0.4M23.9 19.8q-1.0 0.8 -0.9 0.4M15.5 4.3q-0.9 0.3 -0.6 -0.9M26.5 39.3q-0.4 -0.8 -0.7 -1.0M26.5 -1.7q-0.4 -0.8 -0.7 -1.0M39.2 25.4q-0.1 0.5 -0.3 -0.4M-1.8 25.4q-0.1 0.5 -0.3 -0.4M7.1 11.0q-0.3 0.4 -1.0 1.2M29.4 6.4q-0.3 -0.2 1.0 0.4M37.6 30.3q-0.3 -0.3 -1.1 0.9M23.8 8.6q-0.5 0.4 0.4 0.7M40.0 17.2q0.4 -0.6 -0.8 -0.4M-1.0 17.2q0.4 -0.6 -0.8 -0.4M39.7 1.2q-0.3 0.5 -0.8 -0.5M-1.3 1.2q-0.3 0.5 -0.8 -0.5M9.6 36.4q-0.6 -0.6 -0.9 0.4M7.1 27.5q-0.1 -0.7 -0.8 -0.4M23.4 28.7q-0.6 -0.1 -0.9 -1.0M29.0 36.5q1.0 1.3 0.6 0.8M5.7 32.3q0.2 0.1 0.4 -1.0M32.9 14.2q-0.1 0.8 -0.4 0.4M30.2 12.2q-0.1 -0.3 1.2 -0.8M13.6 36.1q0.7 0.3 0.9 -0.2M3.4 19.4q-0.4 -0.3 0.8 0.5M26.8 24.5q-0.5 -0.6 0.7 -0.0M40.7 5.0q-0.6 -0.0 -0.4 -0.5M-0.3 5.0q-0.6 -0.0 -0.4 -0.5M3.0 3.1q-0.0 -0.3 -0.1 -1.3M4.9 9.6q0.6 0.5 0.0 0.6M24.2 5.8q0.7 -0.7 -0.3 -1.2M4.5 29.0q0.2 -0.8 0.7 -1.4M16.3 26.3q-1.2 0.3 -0.6 -0.5M22.2 19.0q1.2 -0.7 0.9 -0.8M0.0 30.3q-0.4 1.0 -1.0 0.6M10.0 31.9q1.1 -1.0 1.2 -0.8M3.4 27.5q-0.0 0.9 0.1 0.6M0.8 29.1q-1.4 1.0 -1.2 0.9M36.0 35.2q-0.6 0.3 0.5 0.3M21.5 12.2q-0.7 0.1 -0.4 -1.2M37.5 12.3q-0.2 0.1 -0.8 0.8M34.5 22.0q-0.4 1.0 -1.1 0.8M14.2 27.7q-0.4 -0.6 0.7 -1.1M37.3 23.4q-0.3 0.0 -0.8 1.0M7.9 13.0q-0.0 0.3 -0.2 -1.0M34.0 25.4q0.1 0.5 -1.3 -0.8M33.5 21.6q-0.4 0.2 0.7 0.5M2.4 27.6q0.8 0.0 1.1 -0.5M35.4 9.4q-0.2 -0.5 -0.6 -0.1M29.7 0.1q0.2 -0.2 -0.2 -0.9M34.4 40.0q-0.2 -1.2 -0.3 -1.5M34.4 -1.0q-0.2 -1.2 -0.3 -1.5M6.6 5.1q-0.6 0.0 0.5 -1.3M8.8 34.0q-1.0 0.1 -0.9 0.6M37.0 25.6q0.1 -0.8 0.6 -0.2M22.1 19.9q-1.3 -0.8 -0.9 -0.2M1.1 37.4q-1.0 0.4 -0.8 -0.2M9.8 8.0q0.7 -0.1 -0.3 0.8M36.3 32.4q-0.0 0.5 0.9 1.1M20.6 11.5q-0.6 -0.7 -0.5 -0.8M12.8 27.2q-0.4 0.7 -1.3 0.6M21.0 4.1q-0.0 0.2 0.4 0.7M34.2 39.6q1.1 0.5 1.1 -0.7M34.2 -1.4q1.1 0.5 1.1 -0.7M18.9 15.6q-0.0 0.0 0.0 0.8M19.5 32.0q-0.0 -0.5 0.1 -0.8M9.6 38.7q-0.3 0.3 0.5 -0.4M9.6 -2.3q-0.3 0.3 0.5 -0.4M16.6 14.6q1.1 0.6 0.7 0.3M19.2 14.2q0.0 1.2 0.6 1.0M28.8 17.5q-0.6 0.2 0.3 0.7M34.9 13.2q-1.0 0.8 -0.8 0.6M25.8 39.6q-0.4 -1.1 -0.5 -1.2M25.8 -1.4q-0.4 -1.1 -0.5 -1.2M14.3 11.9q-1.5 -0.3 -1.4 0.5M38.1 23.4q-0.2 1.1 -0.3 0.9M-2.9 23.4q-0.2 1.1 -0.3 0.9M4.7 10.7q-0.4 0.1 -0.7 0.6M39.7 7.4q-0.3 0.8 0.8 0.0M-1.3 7.4q-0.3 0.8 0.8 0.0M2.6 9.4q-0.4 -0.5 -1.2 -0.6M25.9 30.5q0.1 0.7 0.4 1.4M24.7 8.0q0.1 0.2 -1.5 0.2M15.4 37.4q0.2 -0.2 0.3 -0.7M20.5 18.2q-0.4 -0.9 0.8 -0.1M4.4 10.2q-0.9 0.2 -0.5 -0.6M27.6 36.4q0.2 -0.1 0.3 -0.8M37.1 28.6q-0.4 -0.7 -0.4 -1.2M10.6 31.7q0.3 -0.6 -0.8 -1.3M29.6 19.9q-0.1 -0.0 0.8 0.0M8.8 20.0q-0.5 -0.1 -1.1 -0.5M30.5 11.0q-0.1 0.4 0.6 -0.5M24.3 8.1q-0.0 -0.3 0.1 -0.8M36.4 39.9q0.7 0.2 0.8 0.4M36.4 -1.1q0.7 0.2 0.8 0.4M38.2 29.7q0.7 0.5 0.1 1.2M-2.8 29.7q0.7 0.5 0.1 1.2M8.9 2.5q0.6 0.5 0.4 -0.4M24.8 34.2q0.1 0.5 1.4 -0.5M25.2 33.3q0.2 -0.5 1.2 -0.1M30.9 8.1q0.2 0.8 -1.0 1.2M32.5 19.2q-0.9 0.4 -0.7 -0.4M28.0 26.4q-0.3 0.8 1.0 -0.1M24.2 30.1q0.6 0.6 0.0 0.6M11.5 19.1q-0.4 0.2 -1.3 0.5M7.5 4.0q0.9 0.1 0.6 -0.4M5.2 40.5q-0.8 0.2 -1.1 -0.8M5.2 -0.5q-0.8 0.2 -1.1 -0.8M30.1 37.8q1.3 -0.7 0.8 0.0M11.1 33.5q1.2 0.6 0.7 1.0M6.8 1.2q0.4 -0.4 -0.9 0.9M25.4 12.5q0.2 -0.1 0.9 -0.0M35.7 13.4q-0.3 0.7 -0.3 0.6" fill="none" stroke="#787878" stroke-width="0.7" stroke-linecap="round"/></pattern><pattern id="gqb" patternUnits="userSpaceOnUse" width="41" height="41"><path d="M2.2 29.2q0.5 -0.4 1.1 0.8M11.9 17.7q-0.3 -0.4 1.2 -0.8M37.0 30.9q-0.0 -0.4 -0.5 0.7M27.8 40.5q-0.7 0.0 -0.4 -0.8M27.8 -0.5q-0.7 0.0 -0.4 -0.8M17.3 4.6q-0.4 1.0 -0.3 1.4M9.4 39.2q-0.4 1.0 0.2 0.5M9.4 -1.8q-0.4 1.0 0.2 0.5M15.3 24.9q-0.5 -0.3 -0.9 0.1M40.8 35.6q0.9 -1.2 0.8 -0.8M-0.2 35.6q0.9 -1.2 0.8 -0.8M25.7 0.5q-0.7 -0.6 -0.5 0.4M9.2 4.4q-0.1 -0.1 -0.8 -1.1M4.6 32.5q-0.7 -1.1 -0.7 -0.6M24.1 30.0q-1.1 1.4 -1.0 1.1M36.3 17.4q-0.1 0.5 -0.8 0.9M14.1 8.5q-0.6 -0.2 -0.8 0.1M9.3 14.4q-0.9 -0.2 -0.8 1.2M9.0 22.5q0.1 0.3 0.6 0.6M21.9 16.3q-1.2 0.8 -1.6 -0.0M30.7 19.8q-0.1 0.5 -0.5 -0.5M26.8 20.7q-0.9 0.7 -0.6 0.2M0.2 31.5q0.3 0.3 -0.3 0.7M18.6 10.3q0.2 0.3 -0.6 -0.3M20.6 3.9q-0.9 0.4 -1.1 0.2M34.9 28.2q-0.8 -0.4 -0.8 0.1M0.7 8.6q0.5 1.1 1.3 0.6M28.6 31.7q0.4 -0.5 0.8 0.1M18.2 7.4q-0.1 -0.4 -0.8 0.4M3.7 29.7q0.0 -0.4 1.1 0.4M36.0 19.0q-0.1 0.5 -0.6 0.1M3.6 35.0q-0.7 0.2 0.3 1.5M6.9 7.3q-0.4 0.5 -0.5 -0.4M4.0 31.2q-0.5 0.6 -0.6 -0.5M34.0 23.0q0.1 -0.1 -0.6 0.0M34.9 11.9q-1.3 -0.7 -0.9 -1.1M2.8 22.9q0.2 1.0 1.4 0.7M3.7 36.3q0.3 0.7 -0.9 0.3M35.3 12.4q0.2 1.5 0.5 1.3M4.5 1.5q-0.5 -1.3 -0.7 -0.9M4.6 19.1q-0.4 0.9 -0.8 0.1M30.2 5.5q-1.3 -0.5 -0.8 -0.0M29.0 32.4q-0.6 0.3 -0.4 0.4M22.7 22.9q-0.6 0.1 -0.6 0.1M9.6 26.4q1.3 -0.4 1.5 0.1M2.9 12.9q-0.1 -0.4 1.2 0.3M11.2 11.4q0.4 0.8 0.6 0.2M16.9 39.9q0.1 -0.4 -0.4 0.4M16.9 -1.1q0.1 -0.4 -0.4 0.4M30.4 6.8q0.3 -0.2 -1.2 0.3M14.2 15.2q-0.2 0.8 0.4 0.8M7.2 40.5q-0.8 -1.5 -0.2 -1.4M7.2 -0.5q-0.8 -1.5 -0.2 -1.4M23.9 21.9q0.5 0.3 0.0 -0.9M33.3 22.3q0.3 0.6 -0.3 0.8M28.4 3.8q-0.3 0.5 0.3 -0.6M36.3 12.2q-0.8 1.0 -0.2 0.9M20.4 28.6q1.2 -0.5 1.0 -1.1M31.6 37.4q-0.1 0.4 0.6 0.7M3.8 34.7q0.4 -0.1 -0.2 -0.7M17.4 1.4q0.1 0.8 -0.4 0.5M35.2 17.9q1.0 0.2 0.7 -0.8M32.0 18.1q-0.5 0.3 -0.4 0.7M37.2 6.4q-0.7 0.6 -0.3 0.5M13.5 31.8q-0.4 -0.2 -0.5 -0.9M6.0 11.2q-0.7 0.2 0.1 0.8M39.9 9.7q-1.1 0.6 -0.4 -0.3M-1.1 9.7q-1.1 0.6 -0.4 -0.3M7.4 24.0q0.1 -1.0 -0.2 -1.1M24.3 10.8q1.1 -0.6 0.7 -1.0M7.5 7.4q0.2 0.7 -1.3 0.3M19.0 15.2q-0.4 -1.2 0.5 -0.6M4.0 32.7q-0.1 -0.1 -0.2 1.2M35.8 0.7q0.6 -0.6 -0.0 -1.4M35.6 3.7q-0.2 0.6 0.0 0.6M39.8 24.0q0.3 0.6 -0.7 1.2M-1.2 24.0q0.3 0.6 -0.7 1.2M9.6 1.4q0.3 -0.3 -0.2 0.5M23.3 10.9q0.6 0.3 0.5 0.6M12.0 30.5q1.4 -0.3 1.1 1.1M2.5 36.0q0.1 -0.8 0.9 0.0M34.0 32.7q0.8 1.2 0.0 0.7M11.0 20.9q-1.0 0.1 -1.5 -0.1M5.7 20.8q0.1 -0.8 0.5 -0.3M37.0 38.4q-0.7 -0.7 -1.4 -0.3M37.0 -2.6q-0.7 -0.7 -1.4 -0.3M30.4 31.4q-0.2 -0.6 0.5 -0.6M6.5 2.2q1.1 -0.5 1.0 -1.0M31.6 36.9q-0.0 -0.5 0.7 -0.3M32.6 15.1q1.0 -0.0 0.6 -0.3M15.3 19.6q0.8 -1.2 1.2 -0.9M29.7 26.4q-0.5 0.6 0.7 -0.4M23.3 3.1q-0.3 0.3 -1.2 -0.8M0.9 11.8q0.3 -1.2 0.9 -0.7M7.7 4.0q0.1 0.4 0.2 -0.6M31.5 38.3q0.1 0.8 0.7 0.2M31.5 -2.7q0.1 0.8 0.7 0.2M25.5 29.0q0.2 -0.5 -0.6 0.4M29.7 34.8q-0.2 -0.6 -1.2 -1.0M9.2 28.8q0.2 0.7 0.3 0.8M14.5 4.6q0.8 -0.3 1.4 0.7M25.4 6.4q-0.6 -0.9 0.4 -1.0M24.5 34.7q0.4 1.6 0.0 1.6M28.7 6.1q0.4 0.4 0.5 1.3M36.0 20.4q0.9 1.3 0.0 1.5M24.1 3.4q-0.2 0.1 0.4 0.8M8.1 15.8q-0.7 -0.3 -0.7 -0.7M15.6 22.7q0.1 -1.0 -0.9 -1.0M24.7 3.7q0.0 -0.1 -0.2 1.5M11.8 0.6q0.8 -0.6 0.6 0.2M14.3 29.5q-0.2 -0.6 0.7 0.0M39.8 29.1q-1.0 -0.7 -0.6 -0.5M-1.2 29.1q-1.0 -0.7 -0.6 -0.5M40.4 18.6q-0.3 -0.1 -1.0 0.3M-0.6 18.6q-0.3 -0.1 -1.0 0.3M36.3 14.8q-0.1 0.1 1.2 -0.8M8.3 24.2q-0.6 -0.0 0.2 -1.0M28.5 5.9q0.5 -0.3 0.5 -0.5M22.6 22.9q-0.5 -0.1 -0.4 -0.9M0.2 26.3q0.8 -0.4 1.2 0.3M39.3 6.8q0.9 0.5 0.4 0.8M-1.7 6.8q0.9 0.5 0.4 0.8" fill="none" stroke="#787878" stroke-width="0.7" stroke-linecap="round"/></pattern><pattern id="gpc" patternUnits="userSpaceOnUse" width="37" height="37"><path d="M14.9 7.4q0.8 0.2 0.6 1.3M14.2 25.3q-1.2 -0.4 -2.4 -0.6M22.7 8.0q0.5 -0.1 1.3 -0.9M5.6 24.4q1.3 -0.6 0.9 -1.2M28.7 17.4q-1.5 -0.1 -1.2 0.8M36.6 19.8q-1.0 1.1 -2.4 0.6M-0.4 19.8q-1.0 1.1 -2.4 0.6M13.2 8.0q1.1 -0.1 1.1 -0.6M36.4 34.9q-1.1 -0.5 -0.6 -0.9M36.4 -2.1q-1.1 -0.5 -0.6 -0.9M-0.6 34.9q-1.1 -0.5 -0.6 -0.9M-0.6 -2.1q-1.1 -0.5 -0.6 -0.9M30.3 3.0q-0.8 -0.6 -1.0 0.5M12.2 19.4q-0.5 0.6 0.7 2.2M9.5 15.0q0.4 -0.0 0.1 -1.6M4.8 32.0q-0.7 -0.8 -1.8 -1.3M3.6 5.3q-0.3 0.0 0.6 1.1M20.8 28.5q-0.3 -0.5 0.7 -2.2M6.9 2.7q-1.0 0.4 -0.5 1.9M14.8 30.4q-0.9 -0.2 -1.3 1.0M32.5 34.2q-0.2 -1.1 -0.3 -1.6M32.5 -2.8q-0.2 -1.1 -0.3 -1.6M24.2 24.2q-0.0 0.6 -0.9 2.2M29.9 24.9q0.5 -0.0 0.0 1.5M16.2 35.7q0.7 1.6 -0.1 1.8M16.2 -1.3q0.7 1.6 -0.1 1.8M29.2 19.7q1.3 -0.5 1.3 -0.6M24.4 22.6q-0.0 1.9 -0.4 2.0M24.7 16.3q-1.2 1.1 -1.8 1.7M25.7 35.7q-0.2 1.2 0.7 1.9M25.7 -1.3q-0.2 1.2 0.7 1.9M24.3 27.5q1.1 -0.8 0.9 -1.0M14.8 4.2q-0.8 0.2 -1.0 -0.2M27.7 6.2q-0.3 -0.4 0.4 -1.7M27.3 17.3q-0.7 0.3 -2.0 -0.4M28.5 7.4q0.2 0.2 1.2 0.2M35.6 15.4q0.2 0.9 -1.3 1.4M-1.4 15.4q0.2 0.9 -1.3 1.4M10.9 28.0q1.0 -0.6 2.3 -0.1M17.1 4.8q1.2 1.0 1.2 1.3M15.5 35.3q-0.1 0.8 0.6 1.3M15.5 -1.7q-0.1 0.8 0.6 1.3M32.9 14.2q0.5 -0.4 1.2 -2.2M32.9 17.6q-0.2 0.4 0.5 1.0M0.6 12.2q-0.3 0.2 -1.5 0.1M19.7 23.4q-1.3 -0.3 -1.4 -0.8M1.8 1.3q0.1 -0.0 -0.8 1.1M16.2 25.7q-1.7 -0.0 -2.0 1.1M10.2 13.5q-0.5 0.1 -1.2 -0.5M24.1 30.2q1.3 1.1 1.8 1.0M5.6 3.2q-0.5 -0.3 0.1 -2.0M26.5 22.8q-0.2 -1.8 0.1 -2.0M12.7 23.1q-0.5 0.6 0.5 1.2M35.8 27.0q1.1 -0.7 1.6 0.1M-1.2 27.0q1.1 -0.7 1.6 0.1M29.4 8.7q-0.4 -0.4 -2.1 0.8M30.2 32.4q0.4 -1.3 1.2 -1.9M1.7 14.7q0.6 1.3 -0.4 1.2M30.0 10.9q-0.2 0.3 1.2 1.2M22.4 11.7q0.2 -0.2 -0.8 1.3M30.1 22.6q-1.9 0.3 -2.0 -0.6M10.7 14.8q-1.7 -0.1 -2.4 -0.2M36.7 7.9q-0.3 -0.6 -0.8 -1.0M-0.3 7.9q-0.3 -0.6 -0.8 -1.0M20.9 1.1q-0.2 0.8 0.7 2.3M36.6 9.4q-1.6 -0.1 -1.5 -0.8M-0.4 9.4q-1.6 -0.1 -1.5 -0.8M18.6 34.7q0.7 -0.4 1.1 -0.2M18.6 -2.3q0.7 -0.4 1.1 -0.2M4.9 33.9q0.3 0.6 1.5 1.0M7.7 31.6q-0.1 -0.4 -1.2 0.5M27.3 9.2q0.7 -0.3 0.8 -1.2M18.7 32.2q-0.6 0.2 -1.3 -0.4M15.6 19.4q1.1 0.0 1.3 0.6M7.0 29.4q-0.3 -0.5 1.0 0.2M1.8 10.8q-0.6 1.4 -0.3 2.5M10.9 26.9q-0.1 0.2 1.2 1.0M9.6 16.7q0.0 0.0 1.0 -0.4M30.9 14.0q-0.7 0.7 -1.0 1.2M28.9 0.8q0.5 1.1 0.6 1.2M2.6 0.0q1.0 1.4 1.3 1.1M13.7 15.7q1.5 -1.2 1.6 -1.6M26.3 29.9q0.7 0.2 -0.2 1.4M12.1 3.8q0.2 -0.8 1.4 -1.4M16.5 0.6q-0.2 -0.1 -0.0 -1.1M10.4 28.3q0.7 0.2 1.7 -1.2M11.9 36.9q-0.1 -1.3 -1.5 -1.1M11.9 -0.1q-0.1 -1.3 -1.5 -1.1M10.6 28.7q1.0 0.5 2.3 1.0M36.9 3.1q1.2 0.8 1.9 0.2M-0.1 3.1q1.2 0.8 1.9 0.2M7.1 32.7q-1.4 -0.3 -1.1 -1.6M8.1 24.7q0.4 0.8 1.0 -0.0M10.6 31.0q1.3 -0.6 0.9 -1.9M3.9 31.2q-0.7 -1.2 0.0 -1.6M19.5 9.3q0.2 -0.7 1.2 -0.1M27.7 30.7q0.7 1.0 -0.0 1.6M8.0 36.9q-0.0 -0.7 0.2 -1.5M8.0 -0.1q-0.0 -0.7 0.2 -1.5M23.5 17.0q-0.2 0.6 0.9 1.2M22.7 22.3q1.4 0.5 1.7 0.8M12.5 29.1q-1.8 -0.1 -1.8 1.3M16.9 3.1q0.9 0.8 0.8 2.3M4.2 27.1q-0.1 -0.4 -0.3 -1.2M3.3 4.1q0.8 -0.1 2.3 0.4M1.6 24.0q-0.3 0.7 -0.0 1.9M1.6 12.0q1.8 -0.0 2.1 -1.3M30.0 23.2q-0.0 -0.5 -1.7 -1.3M20.6 27.0q-0.3 -0.6 1.0 -1.5M12.7 4.7q1.7 0.4 1.8 0.5M30.9 6.4q-0.3 1.5 -1.2 2.2M10.9 24.7q-1.0 -0.0 -0.7 1.1M3.4 14.5q0.4 -0.4 1.3 -1.4M34.1 9.6q0.9 -1.4 2.2 -1.3M-2.9 9.6q0.9 -1.4 2.2 -1.3M25.2 34.0q-1.0 -0.1 -1.0 1.1M25.2 -3.0q-1.0 -0.1 -1.0 1.1M24.6 10.7q0.1 -0.0 1.5 -0.7M36.3 4.8q1.5 0.6 2.0 -0.4M-0.7 4.8q1.5 0.6 2.0 -0.4M20.3 19.8q0.6 0.2 1.0 1.3M16.1 14.2q1.1 -1.2 0.8 -1.3M24.1 18.5q0.5 0.4 -0.7 2.1M30.0 2.6q0.1 1.8 -1.6 2.0M13.1 27.4q1.1 0.3 1.1 -0.2M34.5 16.7q-0.7 -0.5 -1.4 -1.7M-2.5 16.7q-0.7 -0.5 -1.4 -1.7M8.0 1.7q0.1 2.0 0.5 2.5M35.9 33.9q-0.5 0.3 -1.4 -0.4M-1.1 33.9q-0.5 0.3 -1.4 -0.4M26.7 1.2q0.0 -0.0 1.0 0.4M13.7 28.1q-0.2 -0.0 0.1 -1.4M25.6 1.2q-0.5 0.5 -1.1 2.0M15.4 25.0q0.9 0.4 0.6 1.3M15.3 36.6q-0.2 -0.8 1.4 -0.4M15.3 -0.4q-0.2 -0.8 1.4 -0.4M36.1 26.0q0.8 1.6 0.3 2.4M-0.9 26.0q0.8 1.6 0.3 2.4M0.7 19.6q-0.1 0.5 0.2 1.4M32.7 13.9q0.2 0.1 0.6 1.1M31.1 23.3q0.0 -0.3 -0.1 -1.3M1.8 14.8q0.5 -1.1 -0.6 -1.1M4.4 25.4q1.2 -0.4 2.2 -0.2M8.0 2.4q-0.3 1.9 0.3 2.0M5.8 9.0q-1.3 0.1 -2.1 1.4M26.8 3.2q0.2 0.0 -1.3 0.2M18.7 35.4q-0.9 -0.4 -1.5 -2.1M18.7 -1.6q-0.9 -0.4 -1.5 -2.1M16.1 10.2q0.3 -0.1 1.9 -0.5M25.6 5.0q-1.4 0.4 -1.7 0.2M18.0 22.0q-0.5 -0.2 -1.9 -0.4M35.7 33.4q-0.6 -0.0 -1.1 0.3M-1.3 33.4q-0.6 -0.0 -1.1 0.3M32.9 11.6q1.3 -0.4 1.2 0.5M33.7 15.9q-0.4 -1.0 -2.1 -0.6M21.8 7.0q0.6 -0.6 2.1 -0.6M36.1 35.5q-0.4 -0.3 0.1 -1.1M36.1 -1.5q-0.4 -0.3 0.1 -1.1M-0.9 35.5q-0.4 -0.3 0.1 -1.1M-0.9 -1.5q-0.4 -0.3 0.1 -1.1M7.6 19.1q0.8 0.6 1.7 0.1M12.8 33.3q-0.1 -0.1 0.0 1.0M35.3 30.4q1.3 0.5 1.2 -0.5M-1.7 30.4q1.3 0.5 1.2 -0.5M10.4 30.2q-0.1 0.2 -0.9 1.0M11.2 23.8q-1.2 -0.3 -0.6 -0.8M3.3 4.0q1.5 0.3 2.3 -1.0M25.5 34.3q0.6 -0.3 1.6 0.0M25.5 -2.7q0.6 -0.3 1.6 0.0M10.0 11.8q0.7 -1.5 -0.1 -2.5M22.3 8.5q-0.4 0.4 -0.9 2.3M17.8 29.2q-0.4 -0.9 -0.5 -1.1M8.2 9.1q1.0 -1.0 1.0 -1.6M31.2 0.3q-0.8 1.0 -0.7 1.1M6.6 32.5q-1.9 -1.4 -2.1 -1.1M1.2 36.5q-0.9 -0.2 -1.1 0.2M1.2 -0.5q-0.9 -0.2 -1.1 0.2M9.6 11.7q-0.1 0.0 0.1 1.4M22.1 29.9q0.8 0.6 0.9 1.8M14.2 5.2q-0.5 -1.4 -1.9 -1.7M15.8 18.9q0.4 1.2 -0.5 2.5M8.4 27.8q-0.4 0.7 -2.1 -0.2M29.0 7.6q-1.6 0.5 -2.0 -0.7M10.1 31.4q-0.3 -0.7 1.1 0.1M2.8 2.9q0.3 -0.6 -0.4 -2.4M28.8 6.4q-1.0 -0.2 -0.8 0.7M17.1 34.2q-0.4 0.5 -1.3 1.7M17.1 -2.8q-0.4 0.5 -1.3 1.7M1.6 8.0q-0.1 1.1 0.6 1.7M22.7 4.1q0.0 -1.5 1.1 -1.3M17.8 4.4q-0.6 -0.8 0.0 -1.3M2.9 33.7q-0.1 0.2 0.7 -0.9M28.4 19.8q-0.2 -0.5 -0.8 -1.5M27.5 36.0q-0.1 0.8 -1.2 -0.1M27.5 -1.0q-0.1 0.8 -1.2 -0.1M19.9 34.6q0.5 -0.9 0.0 -2.2M19.9 -2.4q0.5 -0.9 0.0 -2.2M4.0 5.0q0.1 -1.2 1.4 -1.5M32.4 4.6q-1.3 -1.4 -1.9 -1.1M14.3 24.8q-0.1 -1.2 1.4 -1.4M18.8 9.3q0.9 0.2 0.8 0.9M31.5 35.4q-1.1 0.5 -1.2 1.7M31.5 -1.6q-1.1 0.5 -1.2 1.7M8.2 18.8q1.3 0.0 1.8 1.4M10.3 9.5q0.6 -0.2 2.3 -0.8M27.8 19.3q-1.1 1.9 -0.4 2.3M27.9 23.0q-0.3 0.6 -0.2 1.1M21.2 6.7q-1.3 0.5 -0.9 0.9M17.8 22.4q-0.1 0.2 -1.9 0.8M21.6 19.2q-1.2 0.2 -1.0 0.1M21.7 13.6q-0.0 0.7 -0.7 1.0M4.4 6.0q0.1 1.3 0.1 1.5M21.0 29.2q0.0 1.4 -0.6 1.5M33.8 26.7q-0.3 0.3 0.9 1.7M16.2 23.1q-0.2 0.1 0.4 1.6M32.9 30.6q0.7 0.2 0.3 -1.2M2.6 9.1q-0.1 1.1 -0.3 1.3M21.7 33.2q-1.0 -0.2 -1.7 -1.3M5.2 17.2q-0.2 0.0 -0.0 1.6M19.0 7.9q-1.0 0.6 -1.8 -0.2M19.7 25.0q1.4 -0.5 1.6 -0.7M0.7 8.3q-0.6 1.3 0.0 2.0M11.6 24.1q1.2 -0.4 1.7 -1.1M21.2 17.7q-0.1 -0.3 0.0 -1.7M27.6 0.4q-0.7 0.0 -0.6 1.4M17.5 17.0q-0.1 -0.1 -1.2 -1.1M34.5 1.0q0.6 -1.1 1.1 -2.3M-2.5 1.0q0.6 -1.1 1.1 -2.3M33.6 11.7q1.0 -0.4 0.7 -1.6M17.5 5.8q-0.5 0.4 -0.5 2.0M10.0 17.7q-1.8 -0.3 -1.9 -1.0M3.2 19.6q0.2 0.4 0.4 2.1M18.5 16.7q0.6 -0.3 -0.6 -2.4M2.2 19.5q-1.3 1.5 -1.8 1.4M5.0 5.3q0.5 0.6 -0.1 1.6M21.0 31.6q1.0 0.9 1.5 1.0M1.9 13.7q-1.2 0.1 -0.7 -1.0M4.9 19.0q0.2 1.2 -0.9 1.4M26.6 31.2q-0.0 -0.7 1.5 -1.6M6.1 33.4q0.2 -1.3 0.2 -2.3M12.1 34.7q-0.3 -0.1 0.9 -0.8M12.1 -2.3q-0.3 -0.1 0.9 -0.8M10.6 19.7q-1.3 -0.6 -1.3 -1.1M33.4 17.1q1.2 0.8 0.7 1.0M12.1 18.8q0.1 0.0 1.3 -1.1M21.8 18.2q0.5 0.5 0.8 1.9M37.0 17.9q-1.3 -1.5 -1.3 -1.4M-0.0 17.9q-1.3 -1.5 -1.3 -1.4M32.4 12.7q-0.5 0.7 -1.3 0.4M14.2 16.5q-0.0 1.4 0.6 1.9M32.1 0.0q-1.1 -0.9 -1.3 -0.8M11.3 3.4q0.1 1.2 0.7 0.8M12.6 31.3q1.3 0.5 0.9 1.9M21.6 26.9q0.4 -0.4 1.0 0.0M13.7 19.8q0.7 -1.1 0.2 -1.4M24.7 32.9q0.1 0.0 2.0 1.6M22.5 22.4q0.3 -0.4 1.8 -1.0M35.8 30.4q-0.3 -0.5 -0.3 -1.4M-1.2 30.4q-0.3 -0.5 -0.3 -1.4M4.6 14.9q-0.3 -0.2 -1.5 0.5M18.2 35.0q-0.3 -0.2 -1.5 -1.1M18.2 -2.0q-0.3 -0.2 -1.5 -1.1M20.4 13.8q-1.2 -0.3 -2.2 -1.2M9.8 19.3q-0.8 0.1 -0.5 1.4M3.6 1.9q0.4 -0.4 2.0 -0.6M31.1 4.5q0.2 0.4 0.5 1.0M2.0 20.8q-0.7 -1.4 -1.8 -1.1M2.2 18.2q0.4 1.1 0.2 1.5M12.3 30.5q-0.2 1.1 0.9 0.8M20.5 24.3q1.6 0.0 1.9 0.1M26.4 12.8q0.1 0.3 -0.7 2.2M12.5 4.3q-0.1 1.5 0.5 1.5M32.9 23.1q0.3 -0.0 -0.7 1.4M14.9 3.5q-0.6 -1.3 -1.3 -1.2M13.1 6.8q0.0 -0.9 1.6 -0.7" fill="none" stroke="#606060" stroke-width="0.9" stroke-linecap="round"/></pattern><pattern id="gqc" patternUnits="userSpaceOnUse" width="37" height="37"><path d="M12.7 14.5q-1.1 1.4 -0.4 2.1M12.9 8.8q-1.2 -0.5 -2.0 -1.0M29.1 25.8q-0.7 0.2 -1.4 0.1M31.5 11.6q-0.9 1.3 -1.6 1.5M14.1 7.0q0.8 0.2 0.6 -1.4M23.8 20.3q0.6 -0.2 0.0 -1.9M15.8 21.2q0.9 1.3 1.5 1.1M28.3 0.5q0.5 0.3 0.1 -1.3M28.2 21.2q0.4 -0.2 2.2 0.9M31.8 22.5q-0.1 -0.9 -0.3 -1.4M17.9 16.4q0.5 0.1 1.1 -1.3M35.5 8.0q0.5 0.8 -0.6 0.9M-1.5 8.0q0.5 0.8 -0.6 0.9M21.2 15.6q-0.8 0.3 -0.6 2.4M4.5 4.9q-0.9 0.4 -0.7 1.3M16.3 19.2q1.2 0.7 2.1 0.5M1.4 13.3q-0.3 -0.1 0.5 -1.4M7.1 36.8q0.7 0.1 1.3 -0.8M7.1 -0.2q0.7 0.1 1.3 -0.8M5.3 32.7q-0.1 -0.6 -1.5 -1.2M25.1 35.6q1.6 -0.9 1.9 -1.0M25.1 -1.4q1.6 -0.9 1.9 -1.0M34.2 5.2q1.2 0.1 2.6 0.1M-2.8 5.2q1.2 0.1 2.6 0.1M3.7 11.9q-0.0 -0.8 1.5 -0.0M5.1 4.9q-0.7 -0.2 -1.6 -0.4M13.5 17.3q-0.9 0.8 -1.5 2.0M19.2 28.6q-0.1 1.2 -0.0 2.2M24.1 7.7q0.2 -0.9 1.3 -2.0M7.3 31.8q-0.2 -0.8 0.3 -1.7M19.1 12.6q-2.1 0.9 -2.6 0.1M33.3 7.3q-1.7 -0.6 -1.7 0.5M2.6 26.8q0.3 -0.9 -0.1 -2.5M27.8 23.1q0.8 -0.2 2.4 0.2M24.5 13.4q0.6 0.7 -0.5 1.1M31.6 24.9q0.3 -0.2 1.5 -1.9M30.3 10.8q-1.5 -0.5 -1.4 -0.3M10.6 11.1q-0.0 1.1 -0.1 1.2M16.2 12.9q0.2 -0.1 1.3 0.5M6.2 0.1q-0.4 0.3 -1.2 1.6M30.0 4.9q0.6 -0.4 0.8 -2.1M0.9 2.3q-0.8 -1.2 -0.6 -1.1M29.6 28.0q-0.1 1.5 1.5 2.0M22.9 8.7q-1.5 0.6 -2.5 -0.2M16.7 21.7q0.1 -0.3 -1.3 -0.2M30.2 4.8q1.5 0.1 1.9 -1.3M21.8 25.8q-0.4 -1.2 0.1 -2.3M14.7 20.6q-2.1 0.2 -2.6 -0.5M35.6 33.9q1.0 -0.1 1.6 1.2M-1.4 33.9q1.0 -0.1 1.6 1.2M36.2 1.2q0.3 0.2 -1.0 0.6M-0.8 1.2q0.3 0.2 -1.0 0.6M9.0 13.5q1.3 0.3 1.8 0.6M24.1 33.1q-0.3 0.5 -0.1 2.1M6.1 29.9q1.2 -0.7 1.8 -1.7M30.6 17.7q-0.3 0.9 -0.5 2.2M17.2 5.8q0.3 1.3 1.5 2.1M14.6 17.3q-1.5 0.3 -2.0 -0.7M25.7 29.6q1.5 -0.0 1.8 0.7M25.6 11.4q0.3 0.3 -1.0 0.5M35.0 21.6q0.8 1.4 0.7 1.4M-2.0 21.6q0.8 1.4 0.7 1.4M19.8 23.7q0.4 1.3 1.5 1.6M21.0 10.4q0.4 0.6 1.5 -0.1M21.7 24.2q-1.1 1.1 -0.4 1.0M18.1 20.3q0.9 -0.1 1.9 -0.6M12.8 0.2q-1.3 0.6 -1.0 1.4M21.2 2.4q-1.6 -0.3 -2.3 0.6M10.2 17.6q-0.9 -0.0 -1.5 -1.4M10.2 29.6q-0.6 1.6 -0.1 1.9M19.2 35.1q0.8 0.5 -0.2 1.0M19.2 -1.9q0.8 0.5 -0.2 1.0M13.2 34.4q0.1 -1.0 0.1 -2.1M13.2 -2.6q0.1 -1.0 0.1 -2.1M9.9 3.1q0.0 0.8 -1.1 1.1M15.7 17.8q-0.3 -0.7 0.4 -1.8M20.2 13.7q0.4 -0.9 1.2 -0.1M31.2 7.8q-1.5 0.1 -2.0 0.4M10.1 10.3q-0.4 0.5 -1.1 1.5M34.2 10.5q0.7 -1.4 1.6 -1.7M-2.8 10.5q0.7 -1.4 1.6 -1.7M4.6 28.3q1.1 -0.3 0.9 -0.6M11.0 5.3q-1.0 -0.1 -1.1 -0.3M22.0 35.4q0.8 0.3 1.8 -1.0M22.0 -1.6q0.8 0.3 1.8 -1.0M14.5 29.9q-1.2 -1.4 -1.2 -1.1M29.9 32.6q0.7 0.8 0.5 1.6M16.2 2.6q-1.8 -1.2 -1.8 -1.3M2.7 7.8q1.1 0.5 1.3 1.3M31.0 18.4q-0.6 1.4 0.1 2.1M26.1 17.4q-1.1 -1.0 -0.9 -1.4M36.5 17.1q0.6 -0.1 1.6 0.8M-0.5 17.1q0.6 -0.1 1.6 0.8M26.5 36.2q-0.0 -1.8 -1.4 -1.7M26.5 -0.8q-0.0 -1.8 -1.4 -1.7M17.5 9.2q0.5 0.7 0.5 2.3M21.3 5.2q0.2 0.8 -0.0 1.7M24.3 7.9q0.4 -0.1 -0.8 -1.4M26.3 22.7q1.2 1.0 1.5 0.2M15.6 32.3q-0.0 1.1 1.2 1.9M25.6 8.0q-1.0 0.5 -0.3 1.5M20.7 16.1q-0.5 -0.6 -2.1 -1.4M10.2 24.0q-0.9 0.0 -1.8 -1.3M11.0 33.5q1.3 0.7 1.6 1.9M13.1 3.0q-0.0 -1.2 0.7 -2.5M7.3 23.3q1.3 0.0 2.2 1.1M1.9 9.9q0.4 0.5 -0.3 2.6M27.6 22.7q0.2 -0.9 0.3 -1.5M12.1 7.1q-0.2 -0.1 -1.1 -0.5M14.0 22.0q-0.4 -0.0 -1.3 -1.0M11.2 31.6q0.7 -0.4 1.2 -0.3M20.2 9.9q0.7 0.2 0.9 0.9M9.0 12.1q0.2 -1.9 -0.6 -2.1M19.4 24.0q-1.0 0.6 -0.9 1.4M21.2 5.1q-0.2 -0.4 -1.2 -0.7M11.9 24.4q-1.2 0.3 -1.4 1.0M19.3 28.0q1.5 -0.5 1.5 -0.6M18.2 13.9q-1.7 0.0 -1.6 -0.4M0.7 22.4q0.6 -0.0 0.9 -1.5M4.0 16.2q-1.4 -0.6 -1.4 0.1M33.0 22.6q0.1 1.0 -0.9 2.1M11.6 27.5q0.5 -0.1 1.5 1.7M1.1 16.8q-0.9 -1.5 -0.4 -2.4M9.2 18.4q-1.3 0.7 -1.5 1.2M34.5 12.6q0.7 -0.1 2.1 0.2M-2.5 12.6q0.7 -0.1 2.1 0.2M21.6 9.5q-0.4 0.4 -0.5 1.2M11.6 17.3q1.5 0.5 1.9 -0.1M14.9 1.2q0.1 0.5 -0.9 -0.5M32.7 32.3q-0.5 -0.3 -0.1 -2.1M1.4 26.0q0.5 -0.6 -0.2 -1.5M12.2 35.0q0.4 0.9 1.3 1.6M12.2 -2.0q0.4 0.9 1.3 1.6M32.0 21.2q0.2 0.2 1.7 -0.6M27.5 21.2q0.8 -1.3 2.3 -1.0M22.2 23.0q0.5 -0.8 0.2 -1.3M16.3 12.9q-0.5 0.1 -0.1 -1.1M2.8 28.8q1.0 -0.4 1.1 -0.3M7.4 5.5q1.8 -0.5 1.9 0.8M32.6 32.4q-1.7 -0.8 -2.2 -0.1M15.2 3.9q0.4 0.4 1.0 1.0M26.5 0.2q-0.6 -0.0 -1.1 -0.4M5.2 3.2q-0.1 0.4 -0.3 2.0M14.8 28.1q0.8 -1.4 1.7 -1.4M35.3 27.0q1.8 0.6 2.2 0.6M-1.7 27.0q1.8 0.6 2.2 0.6M36.8 14.8q0.0 -0.2 0.2 1.2M-0.2 14.8q0.0 -0.2 0.2 1.2M5.3 17.1q-0.9 0.5 -1.1 -0.7M33.3 0.1q0.1 0.8 -0.3 1.8M11.2 23.1q1.1 0.4 1.6 1.1M33.5 12.8q0.8 -0.4 0.7 0.7" fill="none" stroke="#606060" stroke-width="0.9" stroke-linecap="round"/></pattern><pattern id="gpd" patternUnits="userSpaceOnUse" width="41" height="41"><path d="M6.0 18.7q0.5 -0.8 0.2 -1.3M32.8 21.8q-0.4 1.0 0.9 0.5M38.8 13.7q-0.8 0.0 -0.5 1.3M-2.2 13.7q-0.8 0.0 -0.5 1.3M7.7 14.2q-1.1 0.3 -1.1 -1.1M22.8 36.9q0.4 -1.0 0.3 -0.6M0.2 16.2q-0.5 0.1 0.2 -1.1M37.5 9.7q0.2 -0.5 -1.1 0.4M22.7 39.7q-0.0 -0.4 -1.0 -0.8M22.7 -1.3q-0.0 -0.4 -1.0 -0.8M11.9 24.2q0.2 -0.3 -0.9 -0.2M19.8 31.2q0.6 -1.1 0.6 -1.4M34.7 37.3q-0.1 -0.7 -0.3 -1.3M23.9 6.0q-0.9 -0.2 -0.6 -1.3M29.0 5.0q0.0 -0.2 1.1 0.4M25.5 26.7q-0.3 -1.4 -0.0 -1.1M4.7 7.9q-1.2 -0.3 -1.3 -0.2M38.4 16.4q0.2 -0.6 -0.3 -1.1M-2.6 16.4q0.2 -0.6 -0.3 -1.1M22.3 28.7q1.0 -0.2 0.7 1.2M8.1 10.2q0.5 -0.5 0.5 0.4M2.7 38.8q-0.5 0.0 -0.9 0.6M2.7 -2.2q-0.5 0.0 -0.9 0.6M18.6 8.0q-1.0 -0.7 -0.7 -0.4M16.9 38.1q-0.8 -0.9 -1.3 -0.9M16.9 -2.9q-0.8 -0.9 -1.3 -0.9M29.1 7.8q0.1 -0.4 0.9 -0.0M12.5 38.4q0.1 -0.9 1.1 -0.1M12.5 -2.6q0.1 -0.9 1.1 -0.1M3.3 12.2q0.3 0.1 -0.7 -0.9M14.5 27.6q-1.2 1.1 -1.2 0.4M0.9 25.3q-1.1 1.3 -0.8 1.1M0.1 30.1q-0.7 -0.7 -0.3 -1.0M18.3 8.7q0.5 0.2 0.8 1.2M25.6 26.0q0.5 -0.3 0.8 0.9M12.3 35.4q-0.5 -0.3 -0.7 -0.4M29.0 35.3q0.1 -0.7 0.5 0.3M6.3 4.4q-0.2 0.4 1.0 0.6M39.6 5.8q-0.6 0.2 0.1 -1.1M-1.4 5.8q-0.6 0.2 0.1 -1.1M30.2 15.6q0.8 0.4 0.5 -0.4M4.8 37.5q-0.2 -0.3 0.3 -1.5M32.0 14.3q0.3 0.1 0.5 0.1M5.1 25.9q0.5 -0.4 1.0 0.3M1.9 37.0q-0.5 -0.4 0.7 -0.9M39.5 31.4q0.0 -0.7 -0.2 -0.5M-1.5 31.4q0.0 -0.7 -0.2 -0.5M40.4 0.4q-0.6 0.4 0.3 1.4M-0.6 0.4q-0.6 0.4 0.3 1.4M12.6 36.1q-0.8 -1.5 -0.5 -1.4M14.1 31.4q-0.2 -1.3 -1.1 -1.0M12.9 8.4q-0.2 1.1 -0.1 1.2M0.7 37.3q1.0 -0.3 0.7 1.1M22.2 40.0q0.4 -0.2 1.0 0.0M22.2 -1.0q0.4 -0.2 1.0 0.0M8.0 7.4q-0.4 1.1 -0.1 0.7M38.9 10.7q1.0 -0.5 0.8 0.1M-2.1 10.7q1.0 -0.5 0.8 0.1M27.1 3.8q0.0 0.0 -0.4 0.5M31.7 21.2q0.4 -0.7 -0.4 0.3M20.5 40.5q0.9 -0.9 0.2 -0.9M20.5 -0.5q0.9 -0.9 0.2 -0.9M23.8 23.6q-0.3 -0.7 -0.1 -0.8M37.7 30.3q-0.1 0.1 -0.7 1.1M20.5 4.0q-0.7 0.5 0.1 0.6M34.0 34.2q-0.1 1.1 0.3 1.5M24.4 19.5q0.1 -0.7 -0.5 -1.4M35.3 30.6q-0.7 -0.3 -1.1 1.1M39.5 38.6q-0.3 -0.9 -1.3 -0.3M39.5 -2.4q-0.3 -0.9 -1.3 -0.3M-1.5 38.6q-0.3 -0.9 -1.3 -0.3M-1.5 -2.4q-0.3 -0.9 -1.3 -0.3M32.6 25.7q0.1 0.4 1.0 -0.2M22.7 35.8q1.3 -0.4 1.2 0.3M3.7 20.1q-0.3 -0.8 -0.7 -1.0M29.1 40.5q0.4 -0.6 -0.9 -0.0M29.1 -0.5q0.4 -0.6 -0.9 -0.0M23.1 34.4q0.5 -0.7 0.3 -1.3M39.6 0.1q-0.0 -0.2 -0.9 0.5M-1.4 0.1q-0.0 -0.2 -0.9 0.5M8.1 18.4q0.3 -0.5 -0.7 -0.8M8.4 26.3q-0.4 -0.5 -0.4 0.3M26.2 37.0q-0.7 -0.2 -0.2 -1.5M31.3 9.8q-0.7 0.1 -0.7 0.1M15.9 16.0q-0.8 -0.5 -0.3 -1.2M31.9 1.3q-0.1 -0.5 -0.0 -0.5M0.8 3.1q-0.2 -1.0 -0.4 -0.7M25.2 38.3q0.8 -0.7 0.0 -0.9M25.2 -2.7q0.8 -0.7 0.0 -0.9M11.4 17.3q0.1 0.0 0.9 -0.1M26.1 31.1q-0.3 -0.7 -0.3 -1.2M40.2 20.3q-0.8 -0.6 0.1 -0.9M-0.8 20.3q-0.8 -0.6 0.1 -0.9M21.4 16.4q-0.7 0.7 0.2 0.7M21.6 33.5q1.0 0.2 0.9 -1.0M37.5 33.6q1.2 0.4 0.7 -0.5M33.3 34.8q0.0 0.2 -0.0 -1.1M11.8 26.4q-0.3 -0.5 0.7 -0.3M18.1 20.8q-0.6 0.3 0.1 0.8M5.8 14.5q0.5 0.0 0.6 1.1M41.0 11.7q0.5 -0.1 0.7 -0.5M-0.0 11.7q0.5 -0.1 0.7 -0.5M23.7 13.9q0.3 -0.6 0.3 -1.1M11.6 16.7q0.8 -0.2 -0.1 -1.3M40.7 13.5q-0.3 0.9 -0.3 1.6M-0.3 13.5q-0.3 0.9 -0.3 1.6M35.6 5.1q-0.2 -0.4 0.7 0.7M29.2 22.6q-0.9 -0.0 -1.2 0.3M13.7 26.4q-0.5 0.3 -1.1 0.3M1.9 32.0q0.7 -0.0 0.5 -0.3M30.4 0.7q0.6 -0.6 1.1 0.2M31.8 4.0q0.9 0.2 1.1 -0.9M12.0 25.1q0.1 -0.7 1.3 0.2M31.2 2.5q-0.4 -0.5 -1.0 -1.2M31.2 30.5q0.6 0.4 -0.6 0.0M19.6 27.4q-0.8 0.2 -0.0 0.8M23.2 4.2q-0.7 1.0 0.4 0.9M6.6 37.2q-1.2 0.1 -0.8 -0.4M2.4 13.7q1.1 0.1 1.4 -0.0M25.4 30.5q0.9 0.6 0.4 -0.4M23.9 13.6q-0.4 0.5 0.8 0.3M24.4 30.0q0.7 0.1 0.6 -0.6M22.9 2.6q0.3 0.2 0.7 -0.8M4.8 1.4q-0.3 -0.5 -0.7 -1.1M31.6 33.8q-0.4 -1.1 -0.8 -1.0M32.8 2.0q0.0 1.2 0.6 1.0M12.3 20.2q0.0 1.1 0.5 1.3M30.2 18.4q-0.2 1.1 1.2 1.0M6.5 17.6q-0.3 0.5 -0.9 0.3M27.8 2.7q0.6 0.3 -0.5 0.5M40.6 8.6q-0.5 -1.0 -0.4 -1.0M-0.4 8.6q-0.5 -1.0 -0.4 -1.0M24.8 36.5q0.3 -0.4 -1.1 0.0M14.5 36.2q0.5 0.1 0.5 0.3M37.2 23.4q-0.2 0.8 -0.2 1.2M8.1 2.6q-0.0 -1.1 1.2 -0.8M34.0 29.1q-0.1 0.8 -1.4 0.5M37.5 33.2q-0.1 0.7 1.2 0.0M33.8 24.9q-0.9 0.6 -1.2 0.5M39.4 1.6q-1.1 0.2 -1.1 0.9M-1.6 1.6q-1.1 0.2 -1.1 0.9M33.5 23.4q-0.3 0.5 -0.1 0.9M40.7 10.2q-0.3 0.9 -0.7 1.3M-0.3 10.2q-0.3 0.9 -0.7 1.3M35.6 4.1q-0.4 -0.5 0.3 0.6M9.7 37.6q0.5 0.1 1.0 -0.7M39.2 11.6q-0.3 -0.3 -0.1 -0.6M-1.8 11.6q-0.3 -0.3 -0.1 -0.6M25.7 8.5q-0.5 0.7 -0.6 0.4M9.8 13.5q0.4 -0.5 -0.6 -0.4M12.4 13.1q-0.6 -0.0 -1.0 0.3M8.0 2.7q0.9 -0.6 0.9 -1.1M39.5 5.3q0.8 0.3 1.4 0.5M-1.5 5.3q0.8 0.3 1.4 0.5M21.2 29.4q-0.3 -0.0 -0.7 -1.1M27.2 34.1q-0.1 -0.0 0.1 -0.6M29.3 18.2q-1.1 -0.8 -1.2 -0.8M12.4 6.1q0.4 -0.3 -0.9 -0.7M9.7 4.3q-0.9 -0.3 -0.5 -0.4M33.3 12.0q0.8 0.8 -0.1 0.6M21.6 3.1q0.9 0.1 1.1 -0.4M22.8 16.8q-0.4 -0.2 0.1 -0.6M18.8 20.6q-0.9 -1.0 -0.6 -0.2M27.3 26.3q0.0 0.6 0.7 0.1M30.5 7.6q-0.0 -0.4 -1.1 0.3M8.4 31.5q-0.6 -0.5 -0.3 -0.8M1.4 25.6q0.8 0.3 0.2 -0.7M2.2 31.1q-0.4 -0.6 0.2 -1.1M39.0 24.8q0.9 0.4 1.4 -0.3M-2.0 24.8q0.9 0.4 1.4 -0.3M19.3 5.7q-0.7 -0.9 -0.7 -0.2M21.5 31.7q1.1 0.5 1.3 -0.0M9.5 25.2q0.3 0.1 1.0 -0.6M36.1 17.4q0.5 -0.1 0.1 0.9M8.7 39.4q0.8 0.4 0.6 0.2M8.7 -1.6q0.8 0.4 0.6 0.2M36.1 38.1q-0.1 0.9 0.5 1.2M36.1 -2.9q-0.1 0.9 0.5 1.2M2.2 31.4q0.1 0.9 0.3 1.2M16.6 1.0q0.8 -0.4 -0.3 0.7M31.6 5.5q-0.2 -0.3 -0.6 1.1M11.6 12.2q-0.4 -1.3 -0.7 -0.8M18.0 18.9q-0.3 0.2 0.7 0.9M5.2 14.7q0.7 1.1 1.0 0.6M12.6 4.7q-1.0 1.2 -1.1 0.7M10.5 26.3q0.9 0.4 0.9 0.7M11.6 23.3q0.8 0.1 0.8 -0.0M40.5 11.2q0.9 -1.0 0.3 -0.4M-0.5 11.2q0.9 -1.0 0.3 -0.4M13.5 9.3q-0.7 0.9 -0.3 1.4M24.6 2.4q0.1 -1.3 0.1 -1.6M12.4 23.6q0.3 -0.8 1.3 -0.3M30.0 20.2q-0.6 1.1 -0.6 1.3M31.4 32.3q0.7 0.1 0.0 1.0M3.7 2.3q0.0 0.4 -0.7 -0.8M23.7 17.5q-0.3 -0.8 0.9 -0.8M24.9 9.1q1.0 0.8 0.6 -0.0M15.8 14.9q0.5 0.1 -0.7 -0.4M21.1 10.9q-0.1 0.1 -1.0 -0.6M30.0 3.5q0.1 -0.4 -0.9 0.1M13.0 11.5q0.4 1.6 -0.6 1.4M14.3 18.2q0.5 -0.0 1.1 0.4M35.9 41.0q0.1 -0.0 -0.6 -1.2M35.9 -0.0q0.1 -0.0 -0.6 -1.2M23.5 38.8q0.2 0.2 0.5 1.1M23.5 -2.2q0.2 0.2 0.5 1.1M28.4 1.9q-0.1 0.3 1.1 -0.8M14.2 29.8q1.1 0.0 1.3 0.4M15.6 20.7q0.6 0.7 1.2 1.0M23.3 6.9q0.7 -0.9 -0.5 -1.5M18.5 40.6q0.5 0.1 0.3 -1.2M18.5 -0.4q0.5 0.1 0.3 -1.2M12.8 14.2q-0.0 -0.6 -0.4 0.6M25.3 11.9q0.3 -0.4 -0.6 0.4M1.7 33.1q1.3 -0.5 0.8 0.2M22.0 29.1q-0.0 -1.0 -1.0 -0.4M13.1 7.3q0.2 0.0 1.5 -0.1M30.1 22.2q-0.8 -1.4 -0.0 -1.3M9.1 8.8q0.2 0.2 0.6 0.5M6.7 22.8q0.6 0.0 -0.6 -0.6M38.8 20.0q0.8 -0.9 0.1 -1.2M-2.2 20.0q0.8 -0.9 0.1 -1.2M16.6 37.7q-0.4 -0.3 -0.0 1.0M39.2 0.3q0.1 0.7 -1.0 -0.4M-1.8 0.3q0.1 0.7 -1.0 -0.4M29.4 20.4q0.5 -0.5 0.6 -0.4M38.0 2.6q0.5 -0.8 -0.7 -0.5M-3.0 2.6q0.5 -0.8 -0.7 -0.5M29.8 0.3q0.3 1.0 0.0 0.9M18.6 5.6q0.5 0.1 -0.3 0.5M18.9 29.4q-0.5 -0.2 -0.7 -0.8M1.7 29.7q-0.9 1.2 -0.1 0.8M18.0 1.4q1.3 -0.7 1.4 -0.1M9.0 30.7q-0.2 0.1 -1.2 -0.5M36.8 35.7q-0.2 -0.2 -0.4 -0.5M17.9 38.6q-0.0 0.4 -1.4 -0.3M17.9 -2.4q-0.0 0.4 -1.4 -0.3M3.3 25.3q-1.1 -0.4 -0.8 1.0M28.4 26.8q0.1 0.5 -0.4 -0.5M35.3 22.2q0.4 1.1 -0.9 1.2M18.7 4.1q-1.1 0.1 -1.1 0.7M13.8 32.0q-0.6 1.3 -0.4 1.0M8.3 34.3q0.3 -0.3 -1.0 0.8M8.6 8.0q-0.2 0.7 0.4 1.3M5.2 21.0q-0.4 -0.1 -0.4 1.2M19.8 10.1q0.7 0.5 1.0 0.1M29.8 1.4q0.3 0.5 -0.7 0.5M9.6 23.2q0.5 -0.4 0.5 -1.1M40.6 36.3q-0.1 0.1 -1.4 0.6M-0.4 36.3q-0.1 0.1 -1.4 0.6M18.0 1.3q-0.2 0.4 0.3 -0.6M37.8 8.2q-0.0 -0.2 -0.8 -0.2M26.6 28.5q-0.5 -0.4 0.9 -0.1M0.7 2.6q0.5 -0.6 0.8 0.2M17.6 32.2q-0.0 0.6 -0.9 -0.3M37.5 16.8q-0.3 -1.2 -0.0 -1.3M28.0 1.7q0.8 -0.0 1.6 0.3M20.1 8.2q0.7 1.1 0.5 0.8M1.8 14.5q0.8 -0.7 0.1 -1.1M27.6 35.5q-1.1 -0.7 -0.6 -0.0M24.2 38.9q-0.6 0.0 0.4 0.9M24.2 -2.1q-0.6 0.0 0.4 0.9M10.4 0.5q-0.5 0.1 -0.5 -1.3M37.5 35.0q0.2 -0.6 -0.6 -0.6M40.4 37.1q-0.8 0.4 -0.2 1.4M-0.6 37.1q-0.8 0.4 -0.2 1.4M15.2 36.4q0.3 -0.6 -0.2 -1.2M11.7 5.9q-0.1 -1.0 0.1 -0.9M40.3 7.9q-0.0 -0.3 0.9 0.1M-0.7 7.9q-0.0 -0.3 0.9 0.1M2.6 34.5q-0.4 -0.6 -1.3 0.4M34.2 11.9q-0.2 -1.3 0.3 -0.9M3.8 5.6q-1.5 0.6 -1.4 -0.2M13.7 35.8q-0.7 1.0 -0.3 0.6M33.6 2.1q-0.6 0.2 -1.2 0.2M25.5 4.9q-0.6 -0.1 0.4 0.3M18.9 7.5q-0.3 -0.0 -0.7 -0.9M41.0 5.6q0.7 -0.3 0.8 -0.3M-0.0 5.6q0.7 -0.3 0.8 -0.3M38.2 38.3q0.2 0.0 0.3 0.5M38.2 -2.7q0.2 0.0 0.3 0.5M-2.8 38.3q0.2 0.0 0.3 0.5M-2.8 -2.7q0.2 0.0 0.3 0.5M29.1 28.1q0.6 -1.4 0.6 -1.1M20.2 30.0q-0.2 0.3 -0.7 -1.1M27.4 39.0q1.0 -0.9 0.4 -0.4M27.4 -2.0q1.0 -0.9 0.4 -0.4M26.3 36.7q0.0 1.2 -0.2 1.2M32.5 8.7q-0.3 1.2 0.9 1.1M0.3 21.6q-0.0 -0.3 0.2 -0.6M13.4 23.7q-0.4 0.7 0.2 0.5M35.7 10.8q0.7 1.0 0.9 0.3M14.5 18.8q0.8 0.5 0.1 -0.6M34.8 16.2q0.6 -1.0 0.1 -1.2M35.3 30.2q-0.9 0.9 -1.3 0.4M33.6 26.2q-0.2 -0.2 -0.9 -0.5M16.3 9.8q-0.6 -1.1 -1.1 -0.3M1.4 36.8q1.0 0.2 0.8 -0.3M5.5 17.0q0.6 0.6 0.8 0.4M35.3 24.8q0.6 0.5 0.9 -0.3M10.9 40.7q0.5 0.9 0.9 0.8M10.9 -0.3q0.5 0.9 0.9 0.8M17.6 13.0q0.5 0.6 -0.5 -0.0M31.1 19.6q-0.3 1.2 0.9 1.3M26.0 14.4q-0.4 0.4 1.0 -0.7M38.7 27.4q-0.3 -0.1 0.0 0.8M-2.3 27.4q-0.3 -0.1 0.0 0.8M16.6 3.7q-0.9 -1.0 -1.0 -1.0M37.9 5.6q-1.2 0.6 -0.9 0.5M25.3 32.1q0.1 1.1 -0.4 1.4M20.4 26.7q0.4 -0.4 -0.9 0.1M10.9 6.6q1.2 -0.4 0.8 0.2M34.7 25.0q-0.1 0.2 -0.5 0.7M40.8 25.7q1.0 -0.7 0.7 0.1M-0.2 25.7q1.0 -0.7 0.7 0.1M5.2 17.0q0.2 0.3 0.8 -0.4M27.2 31.8q0.4 -0.1 -0.3 0.7M30.0 33.4q-0.7 0.7 -0.5 1.0M3.5 14.2q-0.4 -0.2 -1.0 -0.7M24.4 1.3q0.7 -0.0 0.6 -1.5M39.3 8.2q-1.0 0.5 -0.3 1.5M-1.7 8.2q-1.0 0.5 -0.3 1.5M11.1 18.0q0.3 0.7 -0.6 0.8M29.7 36.5q-0.2 0.2 -0.5 -0.3M0.9 11.1q-0.1 -0.7 0.7 -0.8M20.9 36.2q-0.0 -0.5 1.0 0.3M1.2 21.1q-1.3 -0.2 -1.1 0.9M9.4 19.7q0.0 1.0 -0.9 0.7M25.2 29.5q1.0 -0.3 0.4 -1.1M39.2 19.8q-0.1 0.5 0.1 1.5M-1.8 19.8q-0.1 0.5 0.1 1.5M22.2 26.3q-0.8 0.7 -1.3 0.1M9.1 8.2q-0.0 -0.3 0.8 -0.3M0.3 6.8q-0.1 0.8 -0.2 1.5M2.0 19.2q-1.2 0.4 -1.0 -0.6M28.1 33.6q-0.6 0.1 0.1 1.4M21.4 0.3q0.4 -0.1 0.1 -0.7M38.6 10.6q-0.3 0.8 1.1 -0.1M-2.4 10.6q-0.3 0.8 1.1 -0.1M24.1 37.1q-0.6 0.4 -1.1 -0.7M32.3 22.6q-0.8 0.5 -0.6 -0.5M12.7 9.2q0.4 0.6 -0.2 0.8M26.7 37.8q-0.5 -0.3 -1.1 -0.4M35.7 19.8q0.4 -0.5 0.0 -1.5M23.7 5.5q0.3 1.0 -0.7 1.4M13.9 28.3q1.2 1.2 0.9 0.8M34.6 9.4q0.4 0.5 -0.8 0.1M40.4 13.6q-0.6 -0.2 -1.3 0.5M-0.6 13.6q-0.6 -0.2 -1.3 0.5M4.1 1.5q0.1 0.2 0.7 0.0M40.8 2.2q0.7 0.4 0.5 0.1M-0.2 2.2q0.7 0.4 0.5 0.1M15.6 21.3q1.0 -0.8 0.5 -0.5M31.5 37.2q0.1 0.9 0.8 0.3M5.5 37.7q0.2 -0.4 -0.6 -0.1M1.3 28.2q0.1 0.9 -1.5 0.5M1.6 16.3q0.5 -0.2 1.0 -0.6M37.8 38.3q-0.5 1.4 -1.2 1.0M37.8 -2.7q-0.5 1.4 -1.2 1.0M23.1 38.9q0.1 -0.8 -0.0 -1.6M23.1 -2.1q0.1 -0.8 -0.0 -1.6M24.0 7.9q0.2 -0.7 0.6 -0.0M34.1 15.9q0.1 0.8 -0.8 0.2M39.0 31.9q-0.1 -0.0 0.5 1.4M-2.0 31.9q-0.1 -0.0 0.5 1.4M9.2 3.2q-0.5 0.3 -0.2 0.7M9.2 3.7q-0.7 -0.0 0.0 -1.2M8.4 36.6q0.7 -1.2 1.0 -0.7M10.0 6.5q0.2 0.3 -0.2 -1.0M0.1 26.9q0.2 0.8 -1.1 0.7M31.0 9.7q0.5 0.2 0.1 1.0M31.2 35.8q-0.2 -0.0 1.3 -0.7M23.2 31.5q0.5 -0.5 -0.5 -0.5M37.7 8.5q-1.0 -0.5 -0.2 -1.3M9.4 8.2q-0.1 0.2 -0.8 0.7M27.7 39.4q-0.7 0.3 -0.7 -0.9M27.7 -1.6q-0.7 0.3 -0.7 -0.9M30.0 4.7q0.7 0.1 0.7 -1.1M0.5 30.5q-1.3 -0.7 -0.8 -0.2M8.5 7.5q0.6 -0.1 -0.4 1.1M15.4 14.8q-0.6 -0.5 -0.6 -0.6M15.6 20.7q0.7 0.1 1.0 -0.0M20.5 2.6q-0.6 -0.8 -0.5 -0.5M25.8 21.3q0.2 -0.4 -0.2 -1.5M20.6 40.0q0.3 1.2 -0.6 0.7M20.6 -1.0q0.3 1.2 -0.6 0.7M13.1 37.7q-0.3 0.6 -0.7 -0.6M10.8 20.3q-0.8 -0.3 -1.0 -1.0M30.3 28.6q-0.4 -0.8 0.3 -0.9M7.0 24.4q-0.2 0.7 0.6 0.1M27.7 16.2q0.4 -0.7 0.9 -0.6M14.0 10.1q0.1 -0.6 -0.1 -0.6M16.6 0.9q0.1 -1.0 0.2 -0.5M35.1 27.8q-0.2 0.4 -0.5 0.5M36.2 21.0q-1.1 0.1 -1.0 -0.9M27.3 27.9q-0.9 1.3 -0.4 1.4M37.5 11.4q0.6 0.5 0.1 -0.5M10.8 3.7q0.0 -1.3 -0.4 -1.5M29.1 40.8q-0.1 0.7 0.7 1.2M29.1 -0.2q-0.1 0.7 0.7 1.2M11.2 16.6q-0.3 0.7 -1.0 1.1M10.4 19.8q-0.1 -0.3 0.2 -1.6M28.9 14.6q1.1 -0.6 1.0 0.4M21.1 16.3q-0.9 -0.1 -1.0 -0.8M11.2 26.3q-0.3 -0.5 0.8 -0.3M30.9 9.7q-0.1 0.1 -1.2 0.9M24.0 33.0q1.0 -0.5 0.6 -0.8M37.6 33.2q0.1 0.8 -1.3 0.8M22.6 12.0q0.8 0.4 0.7 0.4M4.8 14.7q0.5 -0.3 1.2 -0.9M32.6 1.5q-0.0 0.3 -0.6 -0.1M20.0 26.8q0.4 0.2 1.5 0.1M15.0 5.6q0.9 -0.5 1.4 -0.4M9.1 22.7q0.1 0.7 -1.4 0.1M33.3 26.9q0.4 -1.4 0.4 -1.3M10.1 31.8q0.6 -0.4 0.8 -0.2M11.6 19.9q0.2 0.3 -0.3 -0.4M11.1 4.8q-1.2 -0.3 -0.7 -1.1M6.1 19.4q0.3 -0.5 -1.0 0.4M5.5 11.6q-0.0 1.5 0.2 1.5M38.8 8.2q-0.5 0.6 -0.2 0.6M-2.2 8.2q-0.5 0.6 -0.2 0.6M11.3 10.2q0.5 0.0 -0.5 -1.3M14.0 32.5q-0.7 -0.2 -0.7 0.6M33.2 32.3q-0.6 0.2 -0.9 -1.2M39.6 25.0q-1.0 0.6 -1.2 1.1M-1.4 25.0q-1.0 0.6 -1.2 1.1M27.1 26.7q-0.5 0.1 -1.4 0.5M27.1 29.0q0.2 -0.2 -0.4 0.9M26.0 8.0q0.6 -0.2 -0.2 1.0M6.9 38.4q-0.3 -1.1 0.4 -1.1M6.9 -2.6q-0.3 -1.1 0.4 -1.1M8.9 4.8q-0.8 -0.5 -0.3 0.5M27.0 14.4q0.6 1.1 -0.3 1.5M21.7 11.5q-0.3 -0.6 0.7 0.0M19.2 29.9q-0.2 -0.2 0.8 -0.4M15.5 22.9q-0.8 -1.0 -0.5 -0.4M5.0 22.6q-1.0 -1.2 -0.3 -1.3M8.6 39.7q-0.6 0.7 -1.2 0.4M8.6 -1.3q-0.6 0.7 -1.2 0.4M19.1 10.9q1.1 -0.5 1.0 0.3M37.0 39.1q-0.1 0.7 0.5 0.1M37.0 -1.9q-0.1 0.7 0.5 0.1M36.5 22.5q-0.1 -0.4 -0.1 0.9M36.4 23.7q-0.4 -0.3 0.6 -0.0M12.7 3.4q1.0 -0.0 1.1 0.7M20.3 34.3q-0.2 1.0 -0.6 1.1M9.5 40.9q0.7 0.5 -0.0 0.5M9.5 -0.1q0.7 0.5 -0.0 0.5M31.1 13.0q0.7 1.2 0.8 0.9M10.0 5.3q-0.6 0.8 0.4 0.3M5.8 15.7q0.2 -0.5 0.8 -1.0M38.3 6.2q-1.1 0.4 -0.9 -0.7M-2.7 6.2q-1.1 0.4 -0.9 -0.7M18.1 22.0q0.2 0.1 0.9 -0.9M10.1 13.1q1.1 0.7 1.3 -0.1M15.0 32.1q-0.4 -0.8 -0.6 0.1M26.1 40.6q0.1 -0.1 0.6 0.4M26.1 -0.4q0.1 -0.1 0.6 0.4M33.5 14.8q0.7 -0.3 0.8 -0.0M22.5 28.4q-1.1 0.5 -0.5 -0.1M6.2 23.2q-0.7 -0.0 -0.5 0.8M36.5 28.3q0.6 -0.4 1.2 -0.7M22.0 14.1q-0.2 0.8 0.5 0.8M30.7 19.1q-0.2 -0.5 -0.5 0.0M7.3 7.2q0.4 -1.0 -1.0 -0.7M39.9 33.8q0.0 0.2 -0.5 0.7M-1.1 33.8q0.0 0.2 -0.5 0.7M17.8 29.6q0.1 1.3 -0.5 1.1" fill="none" stroke="#787878" stroke-width="0.7" stroke-linecap="round"/></pattern><pattern id="gqd" patternUnits="userSpaceOnUse" width="41" height="41"><path d="M1.9 8.3q0.6 -0.7 -0.2 -0.6M0.5 18.0q-0.3 0.2 0.3 0.4M7.9 35.0q-0.5 -0.1 -0.4 1.2M17.8 28.1q-1.3 -0.6 -1.2 0.1M5.3 20.2q0.9 -1.1 0.6 -0.7M9.2 27.6q-0.5 -0.6 0.3 -1.3M9.7 30.7q-0.0 0.6 -1.1 -0.6M19.1 40.8q-0.9 1.1 -0.4 1.4M19.1 -0.2q-0.9 1.1 -0.4 1.4M36.8 22.8q0.1 0.9 -0.9 1.1M14.1 21.1q0.2 0.3 1.1 0.0M0.8 18.4q1.2 0.8 0.6 0.6M26.4 14.9q0.3 1.0 0.4 0.3M30.2 8.7q-0.4 -0.0 0.7 -0.1M18.4 2.8q0.2 -1.0 0.7 -0.4M0.6 38.9q-0.2 -0.8 1.2 -0.3M0.6 -2.1q-0.2 -0.8 1.2 -0.3M5.6 0.5q-0.7 -0.9 0.3 -1.0M18.8 21.3q0.2 -0.8 -0.6 -0.1M18.1 29.9q1.1 0.5 0.4 0.3M7.9 27.1q-0.3 -0.3 1.1 0.8M9.1 25.7q0.8 -0.4 0.5 -0.6M18.8 27.7q-0.2 0.0 0.1 1.3M26.3 21.0q1.2 0.1 1.5 0.4M32.6 31.4q0.3 -0.1 0.6 0.1M27.7 6.6q1.2 -0.5 0.6 0.7M39.1 24.3q-0.3 0.1 -0.4 0.5M-1.9 24.3q-0.3 0.1 -0.4 0.5M2.3 16.5q1.1 -0.6 1.4 -0.7M35.4 1.7q-0.8 -0.9 -0.3 -1.2M17.0 32.5q0.3 -0.2 -0.6 -0.4M32.0 14.6q-0.8 0.8 -0.5 0.7M26.9 16.1q0.3 -1.0 -1.0 -0.8M3.9 36.3q0.7 0.6 1.2 -0.5M36.3 3.8q-0.6 -0.1 -0.5 -1.3M37.4 20.3q0.1 0.5 -1.0 0.6M40.5 20.1q0.2 0.4 -0.3 0.6M-0.5 20.1q0.2 0.4 -0.3 0.6M24.8 40.8q0.6 -0.9 0.8 -1.0M24.8 -0.2q0.6 -0.9 0.8 -1.0M20.9 13.3q-0.7 0.7 -1.6 0.2M24.8 17.9q0.2 -0.6 0.9 -0.9M27.5 36.2q0.5 -0.3 0.5 0.3M6.3 36.5q0.5 -0.3 -0.6 -0.4M1.0 1.3q0.7 1.1 0.8 1.2M27.1 30.0q-0.3 0.8 -0.4 0.8M14.9 30.6q0.2 -0.2 0.2 1.0M3.8 26.1q1.0 0.7 0.5 0.9M26.9 25.0q-0.5 -0.2 -0.0 0.7M7.9 21.0q-0.5 -0.9 -1.2 -0.5M16.3 14.9q-0.1 1.0 0.9 1.2M7.5 19.9q0.5 1.3 0.3 1.5M40.8 12.5q-0.1 0.9 -1.0 0.4M-0.2 12.5q-0.1 0.9 -1.0 0.4M21.8 16.5q0.3 -0.9 0.5 -0.5M24.6 17.6q1.5 0.1 1.3 0.2M1.2 39.0q-1.1 0.7 -0.6 1.0M1.2 -2.0q-1.1 0.7 -0.6 1.0M32.9 11.9q-1.3 0.5 -1.1 1.1M0.8 15.6q0.3 -0.1 0.2 -0.6M33.9 32.8q0.6 -0.2 -0.2 -1.2M10.6 1.2q0.6 -1.1 -0.5 -0.9M12.5 27.7q-0.4 0.1 -0.7 0.6M35.4 39.7q-0.9 0.3 -0.2 0.8M35.4 -1.3q-0.9 0.3 -0.2 0.8M40.9 16.7q-0.2 0.9 0.2 0.6M-0.1 16.7q-0.2 0.9 0.2 0.6M28.7 33.8q0.6 0.5 0.5 -0.6M33.8 32.0q0.1 -0.2 0.2 0.8M28.7 33.6q-0.2 0.7 -0.5 0.1M4.0 28.1q0.5 0.1 -0.5 0.4M35.2 3.2q0.5 -0.4 0.3 0.8M29.2 4.1q0.3 0.7 0.6 0.1M40.9 5.4q-0.1 0.3 -0.9 0.8M-0.1 5.4q-0.1 0.3 -0.9 0.8M8.4 4.8q0.8 1.3 0.6 1.4M3.0 16.3q-0.4 -0.4 -0.7 -1.3M24.6 28.9q1.3 -0.1 1.2 -0.1M26.4 30.8q0.5 -0.0 0.5 0.4M3.6 14.6q-0.7 0.1 -0.8 0.5M15.4 9.1q0.1 0.3 -0.9 0.5M16.3 19.1q-0.4 0.6 -0.1 1.0M18.1 35.1q1.4 0.9 1.3 0.9M1.2 29.1q-0.6 0.8 -0.4 1.3M32.5 15.8q0.2 -0.2 -0.1 0.6M12.0 26.9q0.2 -0.4 0.4 -0.7M38.6 0.3q-0.9 0.7 -0.9 0.6M-2.4 0.3q-0.9 0.7 -0.9 0.6M31.7 21.1q-0.9 0.9 -0.6 0.7M10.6 39.2q-0.1 0.5 0.8 1.0M10.6 -1.8q-0.1 0.5 0.8 1.0M29.8 40.7q-0.3 -0.0 0.7 0.4M29.8 -0.3q-0.3 -0.0 0.7 0.4M23.7 31.6q0.4 0.1 1.0 -1.0M39.7 39.8q0.1 -0.5 -0.6 0.2M39.7 -1.2q0.1 -0.5 -0.6 0.2M-1.3 39.8q0.1 -0.5 -0.6 0.2M-1.3 -1.2q0.1 -0.5 -0.6 0.2M5.4 10.0q-1.4 0.1 -1.4 0.1M30.8 30.2q-1.0 -0.3 -0.6 0.7M19.5 15.6q0.4 -0.6 1.2 -0.7M14.7 32.9q-0.4 -0.6 -0.3 -0.6M18.9 31.9q-0.8 -0.3 -0.9 0.0M24.7 24.8q0.3 0.4 -0.4 -0.6M16.4 2.3q0.1 0.0 1.0 -0.7M15.0 2.7q-0.9 -1.4 -0.3 -1.1M15.5 11.6q-1.6 -0.3 -1.5 0.4M3.5 2.8q-0.6 -0.2 -1.2 -0.9M25.3 3.9q0.1 -0.3 -0.4 0.8M11.9 33.1q-0.2 -0.1 0.2 -0.8M31.5 24.5q0.5 0.5 0.2 1.3M31.3 30.1q0.5 -0.0 1.2 0.9M23.7 3.8q0.3 -0.8 -0.7 0.1M34.0 38.5q-0.4 0.2 -1.3 -0.4M34.0 -2.5q-0.4 0.2 -1.3 -0.4M8.7 23.7q-0.9 -0.4 -1.2 -0.2M38.5 21.6q1.1 -0.2 0.7 -1.4M-2.5 21.6q1.1 -0.2 0.7 -1.4M18.5 8.4q-0.3 0.4 0.1 0.8M8.0 28.8q-0.6 -0.5 -0.1 0.7M36.0 21.2q0.3 0.0 1.4 -0.7M30.1 22.8q-0.2 0.9 1.2 1.0M16.3 15.4q0.2 1.1 1.3 0.4M36.7 29.5q-0.3 0.6 -1.3 0.5M36.2 28.2q-0.8 -0.0 -0.5 -0.6M33.0 28.8q1.0 -1.2 1.0 -0.8M6.1 10.0q-0.4 -0.3 0.2 0.6M2.9 11.8q-1.1 -0.4 -0.8 -1.0" fill="none" stroke="#787878" stroke-width="0.7" stroke-linecap="round"/></pattern></defs>
<g stroke="#e2e2e2" stroke-width="1"><line x1="41.8" y1="19.3" x2="41.8" y2="217.7"/><line x1="68.4" y1="19.3" x2="68.4" y2="217.7"/><line x1="95" y1="19.3" x2="95" y2="217.7"/><line x1="121.6" y1="19.3" x2="121.6" y2="217.7"/><line x1="148.2" y1="19.3" x2="148.2" y2="217.7"/><line x1="174.8" y1="19.3" x2="174.8" y2="217.7"/><line x1="201.4" y1="19.3" x2="201.4" y2="217.7"/><line x1="25.9" y1="211.9" x2="220" y2="211.9"/><line x1="25.9" y1="189.3" x2="220" y2="189.3"/><line x1="25.9" y1="166.8" x2="220" y2="166.8"/><line x1="25.9" y1="144.2" x2="220" y2="144.2"/><line x1="25.9" y1="121.6" x2="220" y2="121.6"/><line x1="25.9" y1="99" x2="220" y2="99"/><line x1="25.9" y1="76.5" x2="220" y2="76.5"/><line x1="25.9" y1="53.9" x2="220" y2="53.9"/><line x1="25.9" y1="31.3" x2="220" y2="31.3"/></g>
<path d="M91.0 19.3L83.7 24.3L72.4 30.5L66.4 35.7L62.4 39.8L57.8 46.0L54.6 50.5L51.1 56.3L45.1 66.6L41.1 74.9L39.1 80.4L34.9 90.7L30.9 100.9L27.7 111.3L26.4 121.6L26.4 135.2L27.7 145.3L32.5 156.0L38.5 166.3L44.5 176.6L49.2 185.7L55.5 196.0L64.7 206.3L73.9 214.6L80.4 218.0L118.9 218.0L118.9 53.9L118.4 36.9L115.6 19.3ZM122.0 218.0L122.0 53.9L123.2 36.9L124.9 19.3L148.2 19.3L150.2 24.3L158.0 30.5L173.5 39.8L186.0 50.5L192.1 56.3L199.4 66.6L202.7 74.9L205.0 80.4L208.1 90.7L211.1 100.9L212.7 111.3L214.7 121.6L216.3 125.0L216.3 135.2L214.2 145.3L210.2 156.0L204.1 166.3L197.8 176.6L191.4 185.7L182.1 196.0L171.7 206.3L161.5 214.6L155.4 218.0Z" fill="url(#gpa)"/><path d="M84.3 41.4L78.6 45.3L69.7 50.1L65.1 54.2L62.0 57.3L58.3 62.2L55.8 65.7L53.1 70.2L48.5 78.3L45.4 84.7L43.8 89.0L40.5 97.1L37.4 105.1L34.9 113.2L33.8 121.2L33.8 131.7L34.9 139.7L38.6 148.0L43.3 156.0L48.0 164.1L51.7 171.2L56.6 179.2L63.7 187.2L70.9 193.7L76.0 196.4L106.0 196.4L106.0 68.3L105.6 55.1L103.5 41.4ZM135.0 197.5L135.0 69.5L136.0 56.3L137.3 42.6L155.5 42.6L157.0 46.5L163.1 51.3L175.2 58.5L184.9 66.9L189.7 71.4L195.4 79.5L198.0 85.9L199.8 90.2L202.2 98.2L204.5 106.2L205.8 114.3L207.3 122.3L208.6 125.0L208.6 132.9L206.9 140.8L203.8 149.2L199.0 157.2L194.2 165.2L189.2 172.4L181.9 180.4L173.8 188.4L165.8 194.9L161.1 197.5Z" fill="url(#gqa)"/><g fill="none" stroke-width="3.8" stroke-linecap="round"><path d="M194.3 71.5h0M141.5 52.9h0M64.3 69.8h0" stroke="#2dd932"/><path d="M53.9 119.5h0" stroke="#28af51"/><path d="M166.4 93.6h0" stroke="#f90436"/><path d="M89.7 207.0h0" stroke="#27db39"/><path d="M47.8 111.6h0M49.5 135.8h0M46.9 90.9h0M178.6 144.1h0" stroke="#2b946b"/><path d="M208.2 130.2h0M136.3 146.7h0M67.0 88.7h0M75.7 128.5h0" stroke="#2dd538"/><path d="M54.7 94.4h0M37.3 147.1h0" stroke="#2d8a75"/><path d="M169.9 181.2h0M177.3 90.5h0M104.0 155.3h0" stroke="#41be32"/><path d="M203.9 122.9h0" stroke="#718f28"/><path d="M72.2 161.8h0" stroke="#28ab55"/><path d="M138.5 159.2h0" stroke="#987328"/><path d="M113.6 174.3h0M177.3 60.7h0M157.7 108.2h0M141.6 28.0h0" stroke="#2e817e"/><path d="M108.4 81.0h0" stroke="#29b94a"/><path d="M169.9 199.0h0M202.1 94.0h0" stroke="#c3412e"/><path d="M200.4 67.6h0M176.8 166.5h0" stroke="#2ae62d"/><path d="M187.8 143.7h0M67.0 157.5h0" stroke="#2a13ee"/><path d="M204.8 151.9h0M201.3 98.3h0M154.6 64.6h0" stroke="#2ed337"/><path d="M87.0 87.0h0M107.1 146.3h0" stroke="#3ec133"/><path d="M69.1 104.3h0M103.2 194.1h0M186.4 75.0h0M84.4 84.0h0" stroke="#2d847b"/><path d="M82.7 158.3h0M219.6 104.3h0M64.3 152.7h0M150.3 67.1h0M104.9 151.9h0M108.4 68.9h0M198.7 176.6h0" stroke="#2908f8"/><path d="M202.1 150.6h0M111.4 61.5h0" stroke="#3054ad"/><path d="M144.1 61.5h0M82.7 86.6h0M74.8 64.1h0M207.4 153.6h0M210.9 125.1h0M201.3 146.7h0M60.9 87.9h0M213.9 94.0h0" stroke="#29b64c"/><path d="M141.1 45.2h0M132.3 34.7h0M49.5 122.1h0" stroke="#2bc93e"/><path d="M179.5 71.5h0M204.8 119.5h0M73.9 57.2h0M148.5 64.6h0M60.9 65.8h0M175.1 50.3h0M87.0 91.8h0" stroke="#2ee42a"/><path d="M118.9 85.7h0" stroke="#3ec233"/><path d="M44.7 146.7h0" stroke="#315ba4"/><path d="M183.8 60.7h0" stroke="#2dd931"/><path d="M75.7 164.3h0" stroke="#290bf6"/><path d="M157.2 144.5h0M116.2 57.7h0" stroke="#2906f9"/><path d="M179.5 101.3h0" stroke="#3157a9"/><path d="M149.5 185.5h0" stroke="#858628"/><path d="M206.5 141.0h0M80.0 156.6h0" stroke="#937928"/><path d="M79.2 119.1h0" stroke="#a66028"/><path d="M193.4 87.5h0M171.2 98.3h0M77.4 94.3h0" stroke="#22e13b"/><path d="M91.8 173.5h0" stroke="#29b150"/><path d="M160.7 71.1h0" stroke="#2906fa"/><path d="M59.1 117.2h0" stroke="#315ba5"/><path d="M123.3 195.0h0M96.2 199.3h0" stroke="#2c26dd"/><path d="M196.0 97.4h0M63.5 159.2h0M203.9 99.6h0M42.5 138.0h0" stroke="#2bcb3c"/><path d="M190.8 87.9h0M84.0 126.8h0M135.0 98.7h0" stroke="#f60638"/><path d="M109.7 60.2h0M58.2 121.2h0M190.0 174.3h0M144.6 99.2h0M215.2 123.4h0" stroke="#24df3a"/><path d="M190.8 179.5h0M154.6 69.8h0M179.5 53.8h0" stroke="#2dd832"/><path d="M202.1 141.4h0M113.6 59.4h0M85.3 66.3h0M148.1 99.2h0M36.4 109.9h0M124.1 92.6h0M189.9 54.6h0M58.2 55.5h0" stroke="#2ddb30"/><path d="M67.0 183.8h0M62.6 56.4h0M59.1 46.9h0M184.7 71.5h0" stroke="#2b9867"/><path d="M55.6 146.7h0" stroke="#2c8b74"/><path d="M30.8 118.6h0" stroke="#2cd733"/><path d="M195.2 182.1h0M63.5 146.7h0M153.7 103.5h0M153.3 90.0h0" stroke="#2cd039"/><path d="M192.5 144.1h0M119.3 140.6h0M177.7 49.1h0" stroke="#2bc442"/><path d="M103.2 60.2h0M67.0 59.4h0" stroke="#2a9e61"/><path d="M87.5 58.1h0M186.4 123.4h0M143.3 151.0h0" stroke="#2805fb"/><path d="M70.4 86.2h0" stroke="#2801fe"/><path d="M78.3 149.7h0M70.9 46.9h0M72.2 147.1h0" stroke="#2804fb"/><path d="M179.5 175.2h0M51.3 145.4h0M111.9 141.0h0M181.2 81.9h0M162.0 47.8h0M131.9 55.5h0" stroke="#29a35c"/><path d="M48.6 119.1h0" stroke="#758e28"/><path d="M174.2 97.9h0M188.2 62.8h0M129.3 72.8h0" stroke="#2a9a65"/><path d="M117.6 112.3h0" stroke="#709028"/><path d="M58.2 119.1h0" stroke="#2cd738"/><path d="M55.2 128.5h0" stroke="#326699"/><path d="M66.1 66.3h0" stroke="#43bc31"/><path d="M145.0 70.2h0M69.1 126.8h0" stroke="#2ac144"/><path d="M39.0 131.1h0" stroke="#290ef3"/><path d="M177.7 125.5h0M166.4 42.1h0M67.0 68.9h0M181.6 130.7h0" stroke="#316c93"/><path d="M40.8 99.2h0" stroke="#29af51"/><path d="M129.3 55.9h0M64.3 86.6h0M106.1 101.9h0" stroke="#23e03a"/><path d="M75.5 104.7h0" stroke="#29b84b"/><path d="M74.5 116.0h0M175.5 124.2h0" stroke="#a36328"/><path d="M80.9 132.8h0M93.1 126.4h0" stroke="#2f7c83"/><path d="M124.5 128.1h0M214.4 92.6h0M188.2 131.5h0M191.7 79.3h0" stroke="#29d939"/><path d="M182.1 116.0h0" stroke="#c73d2f"/><path d="M196.9 88.3h0M80.3 108.5h0" stroke="#ca3a30"/><path d="M193.4 133.7h0" stroke="#2d37cd"/><path d="M123.3 198.4h0M131.9 86.6h0M121.0 56.4h0" stroke="#2dd438"/><path d="M72.2 59.8h0M47.8 86.6h0M51.3 88.7h0M165.1 75.4h0" stroke="#2bc73f"/><path d="M152.9 119.1h0M151.1 120.8h0" stroke="#2f42c0"/><path d="M49.1 102.2h0M55.6 66.3h0M65.6 132.8h0" stroke="#2a16eb"/><path d="M56.5 151.4h0M59.5 127.2h0M104.5 81.0h0" stroke="#2e7f80"/><path d="M69.6 156.6h0M49.9 153.1h0M157.7 90.5h0" stroke="#57a52c"/><path d="M115.4 185.5h0" stroke="#a75e28"/><path d="M169.0 104.3h0M163.3 99.6h0" stroke="#b64e2b"/><path d="M99.7 86.2h0M168.6 51.6h0" stroke="#2f48b9"/><path d="M152.0 161.8h0" stroke="#9c6c28"/><path d="M163.8 70.7h0" stroke="#290ef2"/><path d="M28.1 119.1h0" stroke="#2a9d62"/><path d="M145.1 170.0h0M121.9 47.3h0" stroke="#22e23b"/><path d="M207.8 167.4h0M159.0 76.3h0" stroke="#27dc39"/><path d="M105.8 76.3h0" stroke="#290cf4"/><path d="M172.1 108.6h0" stroke="#e21d37"/><path d="M65.2 123.8h0M191.7 170.0h0" stroke="#28ac54"/><path d="M186.4 66.3h0" stroke="#dd2436"/><path d="M126.7 119.1h0M169.9 66.3h0M210.0 116.4h0M217.0 144.1h0M34.7 119.5h0M92.2 59.4h0M169.9 184.7h0" stroke="#2cd336"/><path d="M60.0 138.9h0M197.8 169.2h0" stroke="#3156ab"/><path d="M104.9 119.1h0" stroke="#ec103b"/><path d="M88.8 65.8h0M159.8 80.1h0M88.8 61.1h0" stroke="#2a14ed"/><path d="M105.2 98.1h0" stroke="#c63e2f"/><path d="M137.2 62.8h0M179.0 163.9h0M192.5 140.6h0M105.3 140.1h0" stroke="#2ddf2d"/><path d="M124.5 137.6h0M151.1 141.4h0M152.9 60.2h0M167.3 61.5h0M135.5 182.1h0M105.8 182.9h0M100.1 61.5h0M60.9 170.9h0M196.9 122.9h0M80.0 65.0h0" stroke="#2cd634"/><path d="M82.7 176.1h0" stroke="#28a758"/><path d="M110.0 94.3h0" stroke="#f50638"/><path d="M189.1 95.7h0M123.6 99.6h0" stroke="#a06828"/><path d="M164.2 166.9h0M46.0 103.9h0" stroke="#748e28"/><path d="M53.4 55.1h0" stroke="#2804fc"/><path d="M36.4 104.3h0" stroke="#ed0e3b"/><path d="M175.1 180.4h0" stroke="#9e6b28"/><path d="M50.4 94.0h0M46.9 141.4h0M51.3 68.5h0M83.1 51.6h0M159.4 159.2h0" stroke="#2f7689"/><path d="M196.9 141.9h0M210.0 136.3h0" stroke="#2ac243"/><path d="M198.7 138.4h0" stroke="#689428"/><path d="M133.7 74.1h0M78.7 60.2h0M114.5 86.2h0M180.8 75.0h0M203.5 135.0h0" stroke="#1fe53c"/><path d="M211.7 141.9h0M80.0 71.5h0" stroke="#28e62f"/><path d="M200.4 134.1h0" stroke="#30d237"/><path d="M48.7 184.7h0M191.7 70.7h0M133.7 164.3h0M51.3 91.8h0" stroke="#29a55a"/><path d="M176.4 69.8h0M157.2 114.7h0M169.9 37.8h0" stroke="#47b730"/><path d="M209.6 106.9h0" stroke="#20e63a"/><path d="M176.0 191.6h0M162.0 30.9h0" stroke="#2c28db"/><path d="M110.1 52.1h0M123.6 94.0h0" stroke="#2c24de"/><path d="M206.5 96.6h0" stroke="#5aa12b"/><path d="M73.1 119.5h0" stroke="#699428"/><path d="M34.2 138.9h0" stroke="#3158a8"/><path d="M145.5 57.2h0" stroke="#304fb2"/><path d="M96.2 62.0h0M80.0 58.1h0" stroke="#2c916e"/><path d="M103.2 121.6h0" stroke="#a85d28"/><path d="M161.1 119.1h0M63.5 128.1h0" stroke="#f70537"/><path d="M67.0 51.6h0M138.5 84.9h0M32.5 99.6h0M106.1 113.2h0" stroke="#2dd733"/><path d="M113.6 195.9h0M94.4 83.6h0" stroke="#2cd137"/><path d="M85.3 57.2h0M125.4 101.3h0M182.1 43.5h0M132.4 138.4h0" stroke="#2803fc"/><path d="M79.2 123.8h0M104.0 159.2h0" stroke="#2bcd3b"/><path d="M69.6 135.0h0M88.8 163.9h0M184.7 138.4h0M172.9 144.5h0M180.3 55.9h0" stroke="#2ccf39"/><path d="M124.5 85.3h0M86.1 61.5h0M201.3 157.0h0" stroke="#2d8877"/><path d="M161.1 51.6h0" stroke="#20e33b"/><path d="M73.5 48.6h0M139.8 156.6h0" stroke="#987228"/><path d="M67.0 101.3h0M53.0 170.9h0M111.9 52.9h0M78.4 190.7h0" stroke="#26dd3a"/><path d="M61.7 91.8h0" stroke="#4cb12f"/><path d="M77.9 75.8h0" stroke="#2abb48"/><path d="M112.3 89.6h0" stroke="#2de02c"/><path d="M162.0 144.1h0M97.9 51.6h0M180.4 179.5h0" stroke="#21e33b"/><path d="M70.9 73.2h0M54.7 133.3h0M62.2 149.7h0M212.6 144.5h0M198.7 145.0h0M189.9 124.7h0M41.7 90.0h0M219.6 138.0h0M121.5 71.1h0M208.2 110.4h0M175.1 67.6h0M184.7 160.5h0" stroke="#2cce3a"/><path d="M41.7 94.4h0M166.8 71.5h0" stroke="#28ad53"/><path d="M53.0 112.9h0M189.1 116.4h0M213.0 149.3h0M193.9 116.4h0M194.3 166.9h0M28.6 116.8h0M96.2 72.0h0" stroke="#2ddd2f"/><path d="M160.3 55.9h0M74.8 78.8h0M172.1 55.9h0M140.7 154.0h0M88.3 126.4h0M152.9 184.7h0" stroke="#21e23b"/><path d="M168.6 101.3h0" stroke="#838628"/><path d="M111.9 146.7h0" stroke="#290bf5"/><path d="M39.0 141.9h0M157.7 51.6h0M49.5 159.2h0" stroke="#7c8a28"/><path d="M104.2 94.3h0" stroke="#f1093b"/><path d="M86.2 176.1h0M82.7 56.8h0" stroke="#27dc3a"/><path d="M166.4 97.0h0" stroke="#ec0f3b"/><path d="M166.4 54.2h0M93.1 145.4h0M174.3 41.2h0" stroke="#2f7887"/><path d="M53.9 141.9h0M54.7 166.5h0M187.3 55.9h0M138.5 71.5h0" stroke="#2ee22b"/><path d="M56.5 170.0h0" stroke="#44bb31"/><path d="M79.3 100.9h0" stroke="#808828"/><path d="M56.5 184.7h0" stroke="#f2093b"/><path d="M51.3 190.3h0" stroke="#316b94"/><path d="M179.9 159.6h0M53.0 122.9h0" stroke="#2f44be"/><path d="M44.3 121.6h0" stroke="#ee0d3b"/><path d="M44.7 126.8h0M173.8 151.9h0M123.3 190.7h0M100.1 73.7h0" stroke="#2ee628"/><path d="M129.3 105.6h0" stroke="#dc2435"/><path d="M92.7 89.6h0" stroke="#3155ab"/><path d="M182.1 42.9h0M118.0 182.1h0M196.1 172.6h0" stroke="#2d35ce"/><path d="M73.1 69.4h0" stroke="#2bd838"/><path d="M42.1 103.5h0" stroke="#2c25dd"/><path d="M172.9 122.9h0" stroke="#6b9328"/><path d="M109.3 63.7h0" stroke="#2c25de"/><path d="M206.5 101.7h0" stroke="#5ba02b"/><path d="M107.9 56.8h0M117.1 79.7h0M86.2 170.9h0" stroke="#2e827d"/><path d="M183.0 162.6h0M168.6 147.6h0" stroke="#316a95"/><path d="M176.0 184.7h0M157.7 154.0h0M87.0 159.2h0" stroke="#2c8e71"/><path d="M88.3 71.1h0M138.9 99.2h0" stroke="#2802fe"/><path d="M41.2 127.2h0M132.9 175.2h0" stroke="#2d30d4"/><path d="M170.3 119.1h0" stroke="#e02037"/><path d="M113.2 80.1h0M194.7 105.2h0" stroke="#2ad939"/><path d="M114.1 135.0h0M196.9 154.0h0" stroke="#29b14f"/><path d="M192.5 64.6h0" stroke="#25dd3a"/><path d="M156.8 123.8h0" stroke="#768d28"/><path d="M201.3 76.3h0" stroke="#2d32d2"/><path d="M81.8 83.1h0" stroke="#5f9c2a"/><path d="M195.6 163.9h0" stroke="#2a17ea"/><path d="M62.6 101.7h0M197.8 60.2h0M60.4 155.7h0M78.4 176.1h0" stroke="#2cd038"/><path d="M109.7 144.1h0M51.3 132.0h0" stroke="#30748b"/><path d="M172.9 111.6h0M49.5 109.9h0" stroke="#2b936c"/><path d="M73.6 95.2h0M77.4 57.2h0M161.6 122.9h0M75.7 49.5h0" stroke="#316996"/><path d="M160.7 86.6h0" stroke="#8d8128"/><path d="M162.5 65.8h0M143.3 140.1h0" stroke="#2f4ab7"/><path d="M67.0 162.6h0" stroke="#6d9228"/><path d="M146.8 103.5h0" stroke="#bc482c"/><path d="M128.4 165.2h0M81.8 90.9h0M125.9 190.7h0" stroke="#f50739"/><path d="M141.1 79.7h0M114.7 93.3h0" stroke="#30758a"/><path d="M69.6 52.5h0M87.1 36.9h0M178.6 46.0h0M96.2 91.3h0M135.4 61.1h0M86.1 154.9h0" stroke="#2cd638"/><path d="M101.8 51.6h0M79.2 78.8h0M136.3 83.1h0" stroke="#2802fd"/><path d="M201.3 123.4h0" stroke="#878528"/><path d="M141.5 69.8h0M157.2 99.6h0" stroke="#2e40c2"/><path d="M136.7 89.2h0" stroke="#ab5928"/><path d="M126.7 129.0h0" stroke="#eb103a"/><path d="M212.2 131.1h0M184.7 118.6h0M59.1 51.6h0" stroke="#2dd833"/><path d="M165.5 119.5h0" stroke="#b84c2b"/><path d="M189.1 80.6h0" stroke="#2d31d3"/><path d="M202.1 87.0h0" stroke="#2e38cc"/><path d="M58.7 147.1h0M187.8 166.1h0M56.5 161.8h0M126.7 140.6h0M194.3 90.9h0M105.3 68.5h0M117.5 147.6h0M125.4 69.8h0" stroke="#2dde2e"/><path d="M134.6 68.9h0M112.8 182.1h0M125.8 114.2h0M200.0 86.2h0" stroke="#2c27dc"/><path d="M76.6 145.0h0M83.5 123.4h0" stroke="#e21c37"/><path d="M97.9 58.5h0M139.0 183.5h0" stroke="#2c2cd8"/><path d="M73.9 133.7h0M180.8 87.9h0" stroke="#c2422e"/><path d="M47.3 151.9h0M169.9 62.0h0" stroke="#2f43bf"/><path d="M153.7 52.5h0" stroke="#df2136"/><path d="M217.0 113.8h0M60.9 78.8h0M170.7 81.4h0M211.7 138.9h0M183.4 90.9h0" stroke="#2ee528"/><path d="M111.0 84.9h0M193.9 52.5h0M100.5 126.4h0" stroke="#2fd337"/><path d="M189.9 86.2h0M191.7 137.6h0" stroke="#28da39"/><path d="M165.5 90.0h0M193.4 151.4h0" stroke="#7b8a28"/><path d="M128.4 96.6h0" stroke="#4faf2e"/><path d="M199.5 151.4h0M168.6 84.4h0" stroke="#2a0ff1"/><path d="M113.6 68.5h0M85.3 200.2h0M183.9 169.2h0M186.9 91.3h0" stroke="#2cd138"/><path d="M47.8 99.2h0M200.8 103.9h0M206.5 159.2h0M196.5 150.1h0M73.1 156.6h0M56.1 104.8h0M175.1 119.1h0M201.3 163.9h0" stroke="#2ee529"/><path d="M188.2 72.0h0" stroke="#fb0234"/><path d="M167.3 80.1h0M51.3 106.1h0M51.3 99.6h0" stroke="#2c2ad9"/><path d="M204.8 138.0h0M195.6 145.8h0M198.7 68.9h0" stroke="#3159a7"/><path d="M84.4 118.6h0" stroke="#45b931"/><path d="M57.4 81.9h0M190.4 90.5h0M159.0 163.9h0" stroke="#2fd237"/><path d="M199.1 156.2h0M217.4 124.7h0M203.9 157.5h0" stroke="#1ee63c"/><path d="M70.4 114.2h0M52.1 139.3h0" stroke="#5f9c29"/><path d="M52.1 82.3h0" stroke="#2f49b8"/><path d="M114.5 161.8h0M105.8 65.8h0M194.7 80.1h0" stroke="#6e9128"/><path d="M121.5 189.8h0M185.6 93.6h0" stroke="#e11e37"/><path d="M97.9 151.9h0" stroke="#907c28"/><path d="M59.1 106.9h0" stroke="#43bc32"/><path d="M182.1 96.6h0M205.6 94.9h0M59.1 132.0h0M205.2 131.1h0" stroke="#2a9b64"/><path d="M50.4 116.8h0" stroke="#3051b0"/><path d="M140.7 119.1h0M50.8 65.8h0" stroke="#2d34cf"/><path d="M146.8 184.7h0" stroke="#304cb6"/><path d="M108.4 175.2h0" stroke="#2ee429"/><path d="M34.7 132.0h0M69.6 145.4h0M133.7 170.9h0M47.3 132.4h0" stroke="#778c28"/><path d="M133.7 59.4h0M167.7 123.4h0M171.6 129.4h0" stroke="#2bca3d"/><path d="M119.5 94.3h0" stroke="#da2735"/><path d="M118.0 118.6h0M31.2 132.4h0" stroke="#2e3ac9"/><path d="M179.5 79.3h0M197.8 91.3h0M216.1 117.2h0" stroke="#2907f9"/><path d="M135.4 148.8h0M204.8 145.8h0M190.8 98.3h0M136.7 70.7h0M183.0 124.2h0M138.1 169.2h0M179.5 63.7h0" stroke="#2dda31"/><path d="M184.7 63.7h0M109.3 156.6h0" stroke="#2e7d82"/><path d="M129.8 147.1h0M79.2 138.9h0M159.4 184.7h0M138.9 55.1h0M80.9 163.1h0" stroke="#29a05f"/><path d="M161.6 88.7h0" stroke="#7e8928"/><path d="M190.8 51.2h0M192.5 50.8h0M104.5 72.0h0" stroke="#2f7a85"/><path d="M176.0 99.6h0" stroke="#eb113a"/><path d="M117.1 68.9h0" stroke="#2a17eb"/><path d="M97.9 205.3h0" stroke="#2b9768"/><path d="M160.3 97.0h0M197.8 80.1h0" stroke="#6f9028"/><path d="M49.9 128.5h0" stroke="#28a956"/><path d="M136.9 34.3h0" stroke="#c1432e"/><path d="M111.5 36.9h0" stroke="#8f7e28"/><path d="M169.9 76.3h0M173.4 139.3h0" stroke="#9b6e28"/><path d="M67.0 91.3h0" stroke="#2e7e81"/><path d="M164.6 108.6h0M170.3 138.9h0M79.2 87.9h0M36.4 116.0h0M110.6 151.4h0" stroke="#290df3"/><path d="M118.9 81.9h0M171.6 190.7h0M97.9 192.4h0M151.2 189.0h0" stroke="#2cd436"/><path d="M78.3 69.8h0M216.5 118.6h0" stroke="#2f45bd"/><path d="M140.7 164.3h0" stroke="#e9143a"/><path d="M87.0 81.9h0M199.5 79.3h0" stroke="#2f41c1"/><path d="M141.5 157.5h0M54.7 101.7h0M175.5 55.1h0" stroke="#2a15ec"/><path d="M136.3 65.8h0" stroke="#2e837c"/><path d="M207.4 134.1h0" stroke="#48b530"/><path d="M129.3 119.5h0M67.0 111.6h0M70.4 57.7h0" stroke="#20e43b"/><path d="M89.2 155.7h0M151.1 106.5h0M164.6 62.4h0M132.4 119.5h0M194.3 55.1h0" stroke="#290af6"/><path d="M127.6 170.9h0M105.8 203.6h0" stroke="#4cb22f"/><path d="M56.5 112.9h0M109.7 118.6h0M42.5 159.6h0" stroke="#f40739"/><path d="M192.5 162.2h0" stroke="#ea123a"/><path d="M199.5 161.3h0M32.5 144.5h0M73.1 191.2h0M201.3 167.4h0" stroke="#2ee12c"/><path d="M109.7 74.1h0M75.2 124.7h0M93.6 201.9h0M77.4 132.0h0M105.2 117.9h0" stroke="#2c8d72"/><path d="M29.0 128.1h0" stroke="#a56028"/><path d="M67.8 55.9h0M56.1 85.3h0M196.0 70.7h0M172.1 90.9h0" stroke="#2cd535"/><path d="M112.3 77.6h0" stroke="#2909f7"/><path d="M128.9 143.7h0" stroke="#54a82c"/><path d="M125.0 108.2h0" stroke="#3159a8"/><path d="M162.9 49.5h0" stroke="#818828"/><path d="M54.7 160.0h0M84.0 130.2h0" stroke="#3050b1"/><path d="M87.0 166.9h0M61.7 113.8h0" stroke="#2e3fc4"/><path d="M208.2 122.9h0M162.5 74.1h0" stroke="#2bc83f"/><path d="M167.3 143.7h0M215.7 137.6h0M171.2 86.6h0" stroke="#29a25d"/><path d="M150.3 77.1h0" stroke="#2ccf3a"/><path d="M142.8 148.4h0M184.3 51.6h0" stroke="#2905fa"/><path d="M107.9 90.5h0" stroke="#30728d"/><path d="M172.1 166.5h0M127.6 83.6h0" stroke="#2ed437"/><path d="M168.6 154.4h0" stroke="#26dc3a"/><path d="M201.7 129.4h0M137.2 74.5h0" stroke="#2f7986"/><path d="M98.8 67.1h0" stroke="#2ab94a"/><path d="M71.3 139.7h0" stroke="#2f49b9"/><path d="M71.3 77.6h0M91.8 84.4h0" stroke="#29b050"/><path d="M197.8 104.3h0M190.8 166.9h0" stroke="#24e635"/><path d="M58.2 101.3h0" stroke="#e01f37"/><path d="M138.9 108.2h0M46.0 94.4h0" stroke="#316897"/><path d="M150.3 196.7h0" stroke="#8d8028"/><path d="M121.5 75.8h0M219.2 150.1h0M193.4 123.8h0" stroke="#29e62e"/><path d="M43.4 131.1h0" stroke="#9a7028"/><path d="M145.0 67.1h0" stroke="#2e3ec4"/><path d="M45.6 78.8h0" stroke="#55a82c"/><path d="M153.7 147.1h0" stroke="#927a28"/><path d="M206.9 83.6h0" stroke="#1fe43c"/><path d="M46.0 116.0h0" stroke="#e81439"/><path d="M74.5 99.0h0" stroke="#23e13b"/><path d="M144.1 74.5h0M171.3 25.2h0M52.1 77.6h0M169.9 70.7h0" stroke="#2a12ef"/><path d="M29.9 106.5h0M159.4 111.2h0M105.3 59.0h0" stroke="#306f90"/><path d="M111.9 155.7h0" stroke="#30718e"/><path d="M97.5 166.5h0M208.2 104.3h0" stroke="#2b23e0"/><path d="M138.5 163.5h0" stroke="#3dc233"/><path d="M81.8 152.7h0" stroke="#609b29"/><path d="M88.8 176.9h0" stroke="#6a9328"/><path d="M56.1 139.3h0M39.5 122.1h0" stroke="#2cd337"/><path d="M138.5 59.4h0M57.4 190.3h0M80.0 128.1h0" stroke="#46b831"/><path d="M182.1 189.8h0M179.0 116.4h0M74.8 86.6h0M182.1 53.4h0" stroke="#2ddc2f"/><path d="M152.9 99.2h0M144.1 160.0h0M60.0 60.7h0M81.8 138.0h0" stroke="#29a659"/><path d="M65.2 56.8h0" stroke="#27e630"/><path d="M128.4 142.7h0M126.7 124.7h0" stroke="#8c8228"/><path d="M139.8 160.5h0M190.8 63.3h0" stroke="#2d34d0"/><path d="M141.5 96.6h0" stroke="#b2522a"/><path d="M101.4 78.8h0M133.7 103.5h0" stroke="#2ac342"/><path d="M152.0 77.6h0M157.7 70.7h0M98.8 68.5h0M65.2 77.1h0" stroke="#2de12c"/><path d="M83.3 36.9h0M200.4 119.1h0" stroke="#2d857a"/><path d="M113.3 36.1h0M190.8 119.1h0" stroke="#29b34e"/><path d="M71.3 90.9h0" stroke="#4bb32f"/><path d="M78.3 84.0h0M80.5 48.2h0M114.5 153.1h0M162.9 114.7h0M123.3 208.3h0" stroke="#316e91"/><path d="M164.6 85.3h0" stroke="#2e3ec5"/><path d="M185.6 78.8h0" stroke="#2907f8"/><path d="M203.5 81.9h0" stroke="#bb492c"/><path d="M114.5 87.9h0" stroke="#2a9c63"/><path d="M169.4 113.8h0" stroke="#f3083a"/><path d="M69.6 81.9h0M143.3 84.0h0M213.5 156.6h0M145.9 106.9h0" stroke="#2aba49"/><path d="M38.2 137.6h0" stroke="#3fc133"/><path d="M168.1 74.5h0M111.9 66.3h0" stroke="#290ff2"/><path d="M202.6 112.9h0M166.4 192.4h0M194.3 153.6h0" stroke="#2ddf2e"/><path d="M42.5 151.9h0" stroke="#2a15ed"/><path d="M67.8 119.1h0" stroke="#2ac045"/><path d="M120.6 151.9h0M67.0 147.6h0M182.1 155.3h0" stroke="#2ce62a"/><path d="M73.5 81.9h0" stroke="#fb0335"/><path d="M79.2 148.0h0M119.7 167.8h0M172.5 63.3h0" stroke="#29b24f"/><path d="M164.6 38.6h0M60.9 141.4h0M131.1 71.5h0M63.0 48.2h0" stroke="#28aa55"/><path d="M77.4 113.2h0" stroke="#c53f2f"/><path d="M81.9 201.0h0M83.5 79.7h0" stroke="#2de629"/><path d="M67.0 94.4h0M160.3 40.4h0M151.1 94.9h0M108.4 152.3h0M28.1 136.7h0" stroke="#2cd237"/><path d="M177.7 76.7h0" stroke="#51ac2d"/><path d="M152.0 56.8h0M182.5 146.3h0" stroke="#29b44e"/><path d="M190.8 158.7h0M93.6 66.3h0M62.6 157.5h0" stroke="#28a857"/><path d="M175.5 86.6h0M168.6 89.6h0M133.7 155.3h0M81.8 61.5h0M101.8 123.8h0" stroke="#2ddc30"/><path d="M164.2 78.4h0" stroke="#58a32b"/><path d="M175.1 64.6h0M50.8 163.9h0" stroke="#4bb22f"/><path d="M70.9 123.4h0M60.4 161.8h0M125.8 153.6h0M170.3 43.9h0" stroke="#2ad839"/><path d="M108.8 133.7h0M177.7 170.9h0M172.5 37.3h0" stroke="#25de3a"/><path d="M180.3 141.9h0M186.0 154.4h0" stroke="#2f47bb"/><path d="M154.2 131.5h0M37.3 126.4h0M76.6 159.6h0" stroke="#29b74b"/><path d="M143.3 46.5h0" stroke="#907d28"/><path d="M186.0 141.4h0M209.1 97.0h0" stroke="#326798"/><path d="M42.5 144.1h0M170.8 170.9h0" stroke="#da2835"/><path d="M174.7 83.1h0" stroke="#2ab949"/><path d="M145.0 149.3h0" stroke="#29b44d"/><path d="M36.4 154.4h0" stroke="#2d2dd6"/><path d="M91.8 181.2h0M158.5 66.3h0" stroke="#6d9128"/><path d="M190.8 149.3h0" stroke="#2abc48"/><path d="M177.7 30.9h0M142.5 181.2h0M147.6 71.1h0" stroke="#2abd47"/><path d="M146.8 75.4h0" stroke="#52aa2d"/><path d="M79.3 117.9h0" stroke="#c4402f"/><path d="M79.2 141.4h0" stroke="#315aa6"/><path d="M128.4 129.4h0M112.3 126.8h0" stroke="#f80537"/><path d="M58.2 68.9h0M108.0 109.4h0" stroke="#2e3cc7"/><path d="M129.4 178.6h0" stroke="#9a6f28"/><path d="M196.9 63.7h0" stroke="#2e3dc5"/><path d="M59.1 164.8h0M26.8 146.7h0" stroke="#2f7b84"/><path d="M116.7 157.0h0" stroke="#2ac143"/><path d="M114.5 63.7h0M157.7 189.0h0" stroke="#619929"/><path d="M76.6 81.4h0M59.1 94.0h0M111.0 190.7h0" stroke="#316d92"/><path d="M39.0 119.1h0M131.9 61.5h0" stroke="#2a10f1"/><path d="M72.2 176.9h0" stroke="#659528"/><path d="M130.2 60.2h0M97.5 160.9h0" stroke="#828728"/><path d="M63.5 93.6h0M131.1 96.2h0M179.5 119.1h0M56.1 99.2h0" stroke="#fa0335"/><path d="M177.7 139.3h0M116.3 190.7h0" stroke="#2a11ef"/><path d="M108.4 186.4h0M186.0 100.0h0M165.9 48.6h0" stroke="#2f7788"/><path d="M68.8 191.6h0M31.2 137.6h0M66.1 176.1h0" stroke="#2a9966"/><path d="M32.5 116.4h0M44.3 81.9h0" stroke="#649628"/><path d="M61.7 84.4h0" stroke="#2bcc3c"/><path d="M156.8 62.0h0M125.8 62.8h0" stroke="#2d8976"/><path d="M128.4 70.2h0" stroke="#29b54d"/><path d="M140.7 89.2h0M131.9 90.5h0M206.5 164.3h0" stroke="#2abf45"/><path d="M184.7 191.0h0M174.7 128.5h0" stroke="#719028"/><path d="M126.7 116.4h0M105.8 127.2h0" stroke="#db2635"/><path d="M139.8 86.6h0M109.0 117.0h0M178.2 87.5h0" stroke="#2f46bc"/><path d="M44.7 110.4h0M183.8 98.7h0" stroke="#28ae52"/><path d="M198.7 100.0h0M65.6 48.2h0" stroke="#2f48ba"/><path d="M145.9 63.7h0" stroke="#56a52c"/><path d="M161.1 150.1h0M127.1 47.3h0M151.1 62.4h0M174.7 105.6h0" stroke="#2b926d"/><path d="M138.1 176.9h0M101.4 143.7h0M74.8 136.7h0M53.0 65.0h0M61.8 183.8h0" stroke="#2a11f0"/><path d="M209.1 119.1h0" stroke="#2c2cd7"/><path d="M177.7 154.0h0" stroke="#28ab54"/><path d="M155.0 96.6h0" stroke="#3054ac"/><path d="M72.6 128.1h0" stroke="#878428"/><path d="M70.4 109.1h0M201.3 90.9h0" stroke="#40bf32"/><path d="M198.7 75.0h0" stroke="#2e807f"/><path d="M173.4 115.5h0M107.1 105.6h0" stroke="#2de02d"/><path d="M179.0 110.4h0M64.4 191.0h0" stroke="#3052af"/><path d="M161.2 169.2h0M181.2 65.8h0M132.8 147.1h0M63.5 62.0h0M118.9 169.2h0" stroke="#2b9669"/><path d="M90.6 170.0h0M166.4 112.9h0M183.0 87.0h0" stroke="#868528"/><path d="M41.7 116.4h0" stroke="#2e3bc8"/><path d="M187.8 158.3h0" stroke="#2ce62b"/><path d="M75.7 61.1h0M188.6 52.9h0" stroke="#2c8f70"/><path d="M67.9 169.2h0M151.1 71.5h0M89.6 160.5h0" stroke="#30738c"/><path d="M54.7 116.4h0" stroke="#22e637"/><path d="M109.7 161.8h0M43.4 118.6h0" stroke="#798b28"/><path d="M196.0 61.5h0" stroke="#48b630"/><path d="M192.1 74.1h0M164.6 156.6h0M194.3 65.8h0" stroke="#2800ff"/><path d="M183.0 68.9h0" stroke="#29da39"/><path d="M88.0 200.2h0M180.3 91.3h0" stroke="#2be62b"/><path d="M131.9 65.4h0M152.0 154.0h0" stroke="#2803fd"/><path d="M179.9 122.5h0M83.5 146.7h0M193.4 99.2h0M188.6 76.3h0M61.7 122.1h0M115.4 154.9h0M170.3 53.4h0" stroke="#2ee32a"/><path d="M174.2 160.5h0" stroke="#2c2bd8"/><path d="M200.0 71.1h0M118.6 102.8h0" stroke="#2cd435"/><path d="M136.3 140.6h0M178.6 107.8h0" stroke="#7d8a28"/><path d="M186.0 87.9h0" stroke="#32659a"/><path d="M62.6 118.6h0" stroke="#22e636"/><path d="M141.5 76.3h0" stroke="#304eb3"/><path d="M133.7 85.7h0M194.7 138.9h0" stroke="#2bc83e"/><path d="M168.6 57.7h0" stroke="#47b830"/><path d="M208.2 145.0h0M203.1 170.9h0M53.0 150.6h0" stroke="#2bd738"/><path d="M106.2 88.7h0" stroke="#24e03a"/><path d="M45.6 136.3h0" stroke="#8a8328"/><path d="M177.7 43.9h0M138.5 154.4h0" stroke="#699328"/><path d="M89.6 82.3h0" stroke="#977328"/><path d="M77.4 90.9h0M140.7 63.3h0M205.6 88.3h0" stroke="#2a9f60"/><path d="M95.3 161.8h0" stroke="#6c9228"/><path d="M41.2 111.2h0M56.1 89.6h0M81.9 170.0h0" stroke="#2a10f0"/><path d="M67.0 151.4h0" stroke="#2d35cf"/><path d="M126.7 186.4h0" stroke="#3055ac"/><path d="M188.6 138.0h0" stroke="#2cd534"/><path d="M169.9 159.6h0" stroke="#56a62c"/><path d="M153.3 151.9h0M195.2 74.5h0M71.3 83.6h0M66.1 138.4h0" stroke="#23e03b"/><path d="M90.1 58.5h0M59.1 150.1h0" stroke="#2d8679"/></g>
<line x1="25.9" y1="19.3" x2="25.9" y2="218.4" stroke="#1a1a1a" stroke-width="1.5"/>
<line x1="25.2" y1="217.7" x2="220" y2="217.7" stroke="#1a1a1a" stroke-width="1.5"/>
<g stroke="#1a1a1a" stroke-width="1.2"><line x1="41.8" y1="217.7" x2="41.8" y2="215.7"/><line x1="68.4" y1="217.7" x2="68.4" y2="215.7"/><line x1="95" y1="217.7" x2="95" y2="215.7"/><line x1="121.6" y1="217.7" x2="121.6" y2="215.7"/><line x1="148.2" y1="217.7" x2="148.2" y2="215.7"/><line x1="174.8" y1="217.7" x2="174.8" y2="215.7"/><line x1="201.4" y1="217.7" x2="201.4" y2="215.7"/><line x1="25.9" y1="211.9" x2="27.9" y2="211.9"/><line x1="25.9" y1="189.3" x2="27.9" y2="189.3"/><line x1="25.9" y1="166.8" x2="27.9" y2="166.8"/><line x1="25.9" y1="144.2" x2="27.9" y2="144.2"/><line x1="25.9" y1="121.6" x2="27.9" y2="121.6"/><line x1="25.9" y1="99" x2="27.9" y2="99"/><line x1="25.9" y1="76.5" x2="27.9" y2="76.5"/><line x1="25.9" y1="53.9" x2="27.9" y2="53.9"/><line x1="25.9" y1="31.3" x2="27.9" y2="31.3"/></g>
<g font-family="Liberation Sans, sans-serif" font-size="9.9" fill="#1a1a1a" stroke="#1a1a1a" stroke-width="0.3"><text x="41.8" y="232" text-anchor="middle">-60</text><text x="68.4" y="232" text-anchor="middle">-40</text><text x="95" y="232" text-anchor="middle">-20</text><text x="121.6" y="232" text-anchor="middle">0</text><text x="148.2" y="232" text-anchor="middle">20</text><text x="174.8" y="232" text-anchor="middle">40</text><text x="201.4" y="232" text-anchor="middle">60</text><text x="22.1" y="216" text-anchor="end">-100</text><text x="22.1" y="193.4" text-anchor="end">-80</text><text x="22.1" y="170.9" text-anchor="end">-60</text><text x="22.1" y="148.3" text-anchor="end">-40</text><text x="22.1" y="125.7" text-anchor="end">-20</text><text x="22.1" y="103.1" text-anchor="end">0</text><text x="22.1" y="80.6" text-anchor="end">20</text><text x="22.1" y="58" text-anchor="end">40</text><text x="22.1" y="35.4" text-anchor="end">60</text></g>
<rect x="225.8" y="19.2" width="15" height="199.1" fill="url(#cba)" stroke="#333" stroke-width="1"/>
<g stroke="#222" stroke-width="1"><line x1="238.8" y1="69" x2="240.8" y2="69"/><line x1="238.8" y1="118.8" x2="240.8" y2="118.8"/><line x1="238.8" y1="168.5" x2="240.8" y2="168.5"/></g>
<g font-family="Liberation Sans, sans-serif" font-size="8.5" fill="#222"><text x="244" y="23.2">1.25</text><text x="244" y="73">1</text><text x="244" y="122.8">0.75</text><text x="244" y="172.5">0.5</text></g>
<text transform="translate(41.5,14) scale(1,0.88)" x="0" y="0" font-family="Liberation Mono, monospace" font-size="14.1" fill="#34496b">Wakefulness</text>
<text x="138.3" y="281" text-anchor="middle" font-family="Liberation Serif, serif" font-weight="bold" font-size="32.5" fill="#000">(a)</text>
<g stroke="#e2e2e2" stroke-width="1"><line x1="377.2" y1="18.4" x2="377.2" y2="217.9"/><line x1="404" y1="18.4" x2="404" y2="217.9"/><line x1="430.7" y1="18.4" x2="430.7" y2="217.9"/><line x1="457.5" y1="18.4" x2="457.5" y2="217.9"/><line x1="484.3" y1="18.4" x2="484.3" y2="217.9"/><line x1="511" y1="18.4" x2="511" y2="217.9"/><line x1="537.8" y1="18.4" x2="537.8" y2="217.9"/><line x1="361.3" y1="211.8" x2="556.7" y2="211.8"/><line x1="361.3" y1="189.2" x2="556.7" y2="189.2"/><line x1="361.3" y1="166.7" x2="556.7" y2="166.7"/><line x1="361.3" y1="144.1" x2="556.7" y2="144.1"/><line x1="361.3" y1="121.5" x2="556.7" y2="121.5"/><line x1="361.3" y1="98.9" x2="556.7" y2="98.9"/><line x1="361.3" y1="76.4" x2="556.7" y2="76.4"/><line x1="361.3" y1="53.8" x2="556.7" y2="53.8"/><line x1="361.3" y1="31.2" x2="556.7" y2="31.2"/></g>
<path d="M426.7 19.2L419.4 24.2L408.0 30.4L402.0 35.6L397.9 39.7L393.3 45.9L390.0 50.4L386.6 56.1L380.5 66.5L376.5 74.8L374.5 80.3L370.2 90.6L366.2 100.8L363.0 111.2L361.7 121.5L361.7 135.1L363.0 145.2L367.8 155.9L373.9 166.2L379.9 176.5L384.7 185.6L391.0 195.9L400.2 206.2L409.5 214.5L416.0 217.9L454.8 217.9L454.8 53.8L454.3 36.8L451.5 19.2ZM457.9 217.9L457.9 53.8L459.1 36.8L460.8 19.2L484.3 19.2L486.3 24.2L494.2 30.4L509.7 39.7L522.3 50.4L528.4 56.1L535.8 66.5L539.1 74.8L541.4 80.3L544.5 90.6L547.6 100.8L549.2 111.2L551.2 121.5L552.8 124.9L552.8 135.1L550.6 145.2L546.6 155.9L540.5 166.2L534.2 176.5L527.8 185.6L518.4 195.9L508.0 206.2L497.6 214.5L491.5 217.9Z" fill="url(#gpb)"/><path d="M419.9 41.3L414.2 45.2L405.3 50.0L400.6 54.1L397.5 57.2L393.8 62.1L391.3 65.6L388.6 70.1L383.9 78.2L380.8 84.6L379.2 88.9L375.9 97.0L372.7 105.0L370.2 113.1L369.2 121.1L369.2 131.6L370.2 139.6L374.0 147.9L378.7 155.9L383.4 164.0L387.2 171.1L392.1 179.1L399.3 187.1L406.5 193.6L411.6 196.3L441.8 196.3L441.8 68.2L441.4 55.0L439.2 41.3ZM471.0 197.4L471.0 69.4L472.0 56.2L473.3 42.5L491.6 42.5L493.1 46.4L499.3 51.2L511.4 58.4L521.2 66.8L526.0 71.3L531.8 79.4L534.4 85.8L536.2 90.1L538.6 98.1L541.0 106.1L542.2 114.2L543.8 122.2L545.0 124.9L545.0 132.8L543.4 140.7L540.2 149.1L535.4 157.1L530.5 165.1L525.5 172.3L518.2 180.3L510.1 188.3L502.0 194.8L497.2 197.4Z" fill="url(#gqb)"/><g fill="none" stroke-width="3.4" stroke-linecap="round"><path d="M405.1 52.4h0M457.8 47.2h0" stroke="#29b94a"/><path d="M460.4 128.0h0" stroke="#2de02d"/><path d="M395.9 161.7h0M447.7 52.8h0M492.9 123.7h0" stroke="#28a758"/><path d="M534.2 104.2h0" stroke="#29b050"/><path d="M435.9 61.4h0M482.9 184.6h0M534.2 169.1h0M521.0 71.4h0M414.8 138.8h0M384.1 184.6h0M487.2 71.4h0M367.8 116.3h0M529.8 151.3h0" stroke="#2a17ea"/><path d="M402.5 111.5h0" stroke="#3052af"/><path d="M462.6 119.0h0M487.2 106.4h0M493.8 70.6h0M464.4 129.3h0M394.6 131.9h0M398.1 101.6h0M437.2 78.7h0M402.5 147.5h0" stroke="#2a15ec"/><path d="M517.9 130.6h0" stroke="#29b14f"/><path d="M384.5 102.1h0M388.9 55.0h0" stroke="#2b9867"/><path d="M409.1 81.8h0M435.9 73.6h0" stroke="#2e807f"/><path d="M455.4 94.2h0" stroke="#2e3ec4"/><path d="M541.6 131.0h0M470.5 68.8h0M471.4 148.7h0M474.5 71.4h0M499.9 70.6h0" stroke="#2bc93e"/><path d="M383.2 99.1h0M410.4 64.0h0" stroke="#2f7986"/><path d="M528.9 140.5h0M377.9 137.9h0M508.7 37.2h0M489.0 60.1h0M474.5 163.4h0M518.8 146.2h0M498.2 30.8h0" stroke="#290df3"/><path d="M502.6 54.1h0M385.0 109.8h0" stroke="#2dde2e"/><path d="M396.4 78.7h0" stroke="#2cd237"/><path d="M506.1 70.6h0" stroke="#2b926d"/><path d="M404.7 126.7h0" stroke="#316996"/><path d="M391.5 139.2h0" stroke="#30d137"/><path d="M441.0 117.8h0" stroke="#2abb48"/><path d="M447.3 61.4h0" stroke="#8e7f28"/><path d="M380.1 110.3h0" stroke="#2e37cc"/><path d="M417.4 152.6h0M514.8 107.7h0M514.0 43.8h0M522.3 99.9h0" stroke="#2ddb30"/><path d="M371.8 104.2h0M516.2 159.5h0M398.1 157.4h0M444.2 68.8h0M506.5 138.8h0M417.4 137.9h0M385.0 135.7h0" stroke="#2802fd"/><path d="M506.5 119.0h0" stroke="#2e3fc4"/><path d="M500.8 156.5h0M381.5 94.3h0M382.3 90.8h0" stroke="#2f41c1"/><path d="M521.0 190.9h0" stroke="#2e3ec5"/><path d="M518.4 96.5h0M493.3 99.5h0" stroke="#2ddd2e"/><path d="M500.8 108.5h0" stroke="#30758a"/><path d="M552.6 117.1h0" stroke="#2ad838"/><path d="M387.6 139.2h0M363.9 116.7h0M391.1 146.6h0M464.4 96.5h0" stroke="#2cd336"/><path d="M507.4 98.2h0" stroke="#2bcb3d"/><path d="M527.1 63.2h0" stroke="#2e3fc3"/><path d="M409.2 95.1h0" stroke="#20e63a"/><path d="M414.0 190.6h0M445.5 74.0h0" stroke="#2a11ef"/><path d="M402.5 68.8h0" stroke="#2c29da"/><path d="M532.4 97.3h0M396.4 141.3h0" stroke="#21e23b"/><path d="M529.8 99.1h0" stroke="#316a95"/><path d="M532.0 145.7h0" stroke="#2ac044"/><path d="M406.9 139.6h0M411.3 128.4h0M503.9 123.3h0" stroke="#2dd733"/><path d="M385.4 153.1h0M539.9 134.9h0" stroke="#24e635"/><path d="M544.7 130.1h0M493.8 51.5h0" stroke="#2c8e71"/><path d="M544.7 110.3h0M483.7 71.0h0" stroke="#315aa6"/><path d="M498.2 47.7h0M478.9 148.3h0" stroke="#2b956a"/><path d="M527.1 98.2h0M510.5 97.8h0" stroke="#29b34e"/><path d="M401.2 132.7h0" stroke="#2801ff"/><path d="M498.6 74.0h0" stroke="#3053ad"/><path d="M504.3 74.4h0M535.0 144.9h0M391.1 66.2h0M459.2 198.3h0M385.0 122.0h0M453.0 68.8h0M524.1 158.2h0M396.4 87.8h0M537.7 76.2h0M466.1 60.1h0M382.3 141.3h0M531.5 74.4h0" stroke="#2a16eb"/><path d="M524.5 62.7h0M413.0 57.1h0" stroke="#2dd931"/><path d="M402.5 51.5h0" stroke="#24df3a"/><path d="M398.1 118.5h0M445.1 63.6h0" stroke="#2cd138"/><path d="M486.3 77.0h0M515.7 63.6h0" stroke="#2f7b84"/><path d="M522.7 123.3h0" stroke="#2ab94a"/><path d="M424.0 126.3h0" stroke="#c53f2f"/><path d="M392.9 81.8h0" stroke="#2c2dd7"/><path d="M393.7 121.1h0" stroke="#2a14ed"/><path d="M371.8 109.8h0" stroke="#2c8c73"/><path d="M497.3 51.5h0M390.2 94.3h0M515.7 71.4h0" stroke="#2e3ac9"/><path d="M362.1 146.6h0M499.1 114.6h0" stroke="#3158a8"/><path d="M406.9 77.5h0" stroke="#32659a"/><path d="M535.9 79.2h0M495.1 163.8h0" stroke="#2c25de"/><path d="M444.6 133.6h0M524.9 137.9h0" stroke="#304db4"/><path d="M509.1 144.4h0M540.3 157.4h0" stroke="#2e7d82"/><path d="M528.9 144.0h0" stroke="#2bca3d"/><path d="M497.3 150.0h0" stroke="#2d34cf"/><path d="M512.2 99.5h0M397.7 149.6h0" stroke="#28ab54"/><path d="M504.8 51.5h0M530.6 166.8h0" stroke="#2ddd2f"/><path d="M419.2 146.6h0M443.9 109.3h0" stroke="#2b9669"/><path d="M537.7 90.8h0" stroke="#30728d"/><path d="M409.1 48.5h0M506.5 53.3h0" stroke="#2e40c3"/><path d="M462.6 128.9h0M382.8 132.3h0M390.2 166.4h0" stroke="#2a9b64"/><path d="M380.1 146.6h0M531.1 138.8h0M518.4 155.2h0" stroke="#2c8d72"/><path d="M516.2 122.4h0M464.4 70.1h0M451.3 185.4h0M412.2 81.3h0M467.9 55.4h0M503.4 143.6h0M411.3 164.2h0M414.8 123.7h0M508.7 63.2h0M446.0 52.0h0" stroke="#2801fe"/><path d="M431.9 91.2h0" stroke="#2e40c2"/><path d="M529.8 87.4h0" stroke="#2bd838"/><path d="M448.6 182.0h0" stroke="#1ee63c"/><path d="M405.1 145.3h0" stroke="#2a9c63"/><path d="M496.4 55.8h0" stroke="#2c25dd"/><path d="M415.7 156.5h0M501.7 119.4h0" stroke="#2dd538"/><path d="M407.8 59.7h0" stroke="#2c2bd9"/><path d="M369.6 138.8h0M460.4 85.2h0" stroke="#3159a7"/><path d="M448.2 89.5h0M414.4 60.1h0M410.1 115.9h0M425.3 82.2h0M459.6 99.5h0" stroke="#2906f9"/><path d="M460.9 108.1h0M388.5 112.8h0M537.7 98.2h0" stroke="#2ee42a"/><path d="M504.8 84.3h0M503.0 71.4h0" stroke="#30d237"/><path d="M524.5 71.9h0M426.3 169.9h0M394.2 147.0h0M538.5 141.3h0M393.7 119.0h0M393.7 68.8h0M516.6 55.8h0M519.2 68.8h0M377.1 94.3h0M506.1 61.9h0" stroke="#2a13ee"/><path d="M461.8 153.5h0" stroke="#316e91"/><path d="M520.6 51.5h0" stroke="#23e03a"/><path d="M449.5 59.3h0" stroke="#2f46bc"/><path d="M399.0 146.6h0M519.2 162.5h0" stroke="#3053ae"/><path d="M452.1 57.6h0M528.9 50.7h0M416.6 163.0h0" stroke="#2f48ba"/><path d="M535.0 138.3h0" stroke="#2bc441"/><path d="M395.5 138.8h0" stroke="#a56128"/><path d="M548.6 131.0h0M391.5 89.5h0M424.0 71.0h0M542.9 140.9h0" stroke="#2906fa"/><path d="M506.1 198.9h0M406.9 83.5h0" stroke="#2a9e61"/><path d="M406.5 46.8h0M450.3 153.1h0M396.4 170.8h0M527.1 166.8h0" stroke="#2d31d3"/><path d="M555.7 150.0h0" stroke="#2de02c"/><path d="M376.2 99.1h0M535.0 74.9h0" stroke="#2a16ec"/><path d="M461.3 69.7h0M474.5 59.3h0" stroke="#304fb2"/><path d="M441.6 127.1h0M530.6 55.0h0" stroke="#29b150"/><path d="M402.6 183.7h0M500.8 38.5h0M374.4 141.8h0M465.3 72.7h0M498.2 144.0h0M367.8 99.5h0" stroke="#290ef2"/><path d="M396.4 65.7h0M487.2 141.3h0M381.0 78.7h0M379.7 81.8h0M513.5 90.4h0M441.6 203.5h0" stroke="#2800ff"/><path d="M399.9 190.9h0" stroke="#2802fe"/><path d="M473.2 74.4h0M376.6 127.1h0" stroke="#2cd038"/><path d="M462.7 186.3h0M505.6 113.7h0" stroke="#20e43b"/><path d="M537.7 123.3h0M370.0 119.4h0M411.1 104.6h0M399.9 69.7h0M373.6 137.5h0" stroke="#2fd337"/><path d="M449.5 68.4h0" stroke="#2ce62b"/><path d="M533.3 88.2h0" stroke="#2d32d2"/><path d="M450.3 86.1h0" stroke="#28db39"/><path d="M433.7 205.2h0" stroke="#23e636"/><path d="M418.3 158.2h0M410.4 86.5h0" stroke="#2c8f70"/><path d="M540.3 99.5h0" stroke="#22e23b"/><path d="M491.2 96.5h0M471.4 61.0h0M386.8 190.2h0" stroke="#2aba49"/><path d="M390.2 133.2h0M500.8 85.2h0M392.0 112.8h0M411.3 49.4h0M526.3 86.1h0M391.5 104.7h0" stroke="#2a12ef"/><path d="M517.0 74.9h0" stroke="#28a956"/><path d="M475.0 183.4h0" stroke="#2dda31"/><path d="M537.7 146.6h0M405.1 134.9h0M481.9 106.8h0" stroke="#316c93"/><path d="M516.6 141.8h0" stroke="#29b84b"/><path d="M501.2 75.3h0" stroke="#2abd46"/><path d="M477.1 79.6h0" stroke="#2e837c"/><path d="M543.8 153.5h0M514.0 76.6h0M541.2 145.7h0M417.4 61.4h0" stroke="#2c2bd8"/><path d="M385.8 116.7h0M386.7 91.7h0M371.8 115.9h0M399.0 93.5h0M489.4 89.9h0M441.9 113.1h0M413.9 149.6h0M410.4 136.6h0M437.6 51.5h0M402.5 157.4h0M384.1 119.0h0M487.3 188.9h0" stroke="#290cf4"/><path d="M481.9 63.6h0M418.3 86.5h0M521.0 118.5h0M394.6 106.8h0M428.8 145.3h0M441.6 76.2h0" stroke="#2907f9"/><path d="M414.8 87.8h0M543.4 83.5h0M460.4 137.5h0" stroke="#2d857a"/><path d="M366.5 132.3h0M536.8 134.0h0M443.8 56.7h0M374.4 119.0h0M447.7 146.6h0" stroke="#2804fc"/><path d="M399.9 86.5h0M450.3 63.6h0" stroke="#2cd535"/><path d="M439.0 194.0h0M400.8 77.0h0M420.9 57.1h0M377.1 89.9h0M442.9 146.2h0M397.2 113.7h0M377.1 116.3h0" stroke="#2803fc"/><path d="M480.2 61.4h0" stroke="#2d36cd"/><path d="M422.7 81.8h0" stroke="#28ae52"/><path d="M449.1 35.9h0" stroke="#2ee628"/><path d="M438.9 60.1h0" stroke="#878528"/><path d="M377.9 144.0h0" stroke="#2ed337"/><path d="M414.8 141.3h0" stroke="#2dd833"/><path d="M392.0 161.7h0M406.5 123.3h0M518.4 42.8h0M510.9 83.0h0M477.6 157.4h0M510.5 160.4h0" stroke="#2ccf39"/><path d="M553.0 118.5h0" stroke="#2f47ba"/><path d="M469.7 85.6h0M490.7 69.7h0" stroke="#2bcc3b"/><path d="M402.5 162.5h0" stroke="#29d939"/><path d="M535.5 156.1h0M450.6 93.2h0M517.0 87.8h0" stroke="#2d8877"/><path d="M522.3 141.3h0" stroke="#326699"/><path d="M515.3 110.3h0" stroke="#29b54d"/><path d="M502.1 48.5h0M527.1 87.8h0" stroke="#290ef3"/><path d="M481.1 67.0h0" stroke="#2f4ab7"/><path d="M390.7 128.4h0" stroke="#2c916e"/><path d="M393.7 55.4h0" stroke="#32649b"/><path d="M367.8 144.4h0" stroke="#316d92"/><path d="M524.1 143.6h0" stroke="#2b946b"/><path d="M381.5 115.9h0M425.8 58.4h0M551.7 123.3h0M501.7 89.9h0" stroke="#2a17eb"/><path d="M542.9 96.5h0M515.7 79.2h0M433.2 166.4h0" stroke="#2b936c"/><path d="M495.5 159.1h0M519.2 86.9h0M499.5 99.5h0M378.8 131.0h0M536.8 119.0h0" stroke="#2ddf2d"/><path d="M531.1 80.0h0" stroke="#2a9f60"/><path d="M521.0 63.6h0M465.3 178.5h0" stroke="#304db5"/><path d="M434.5 67.0h0" stroke="#2c28db"/><path d="M481.1 70.1h0M386.7 68.4h0" stroke="#2ddc30"/><path d="M400.8 123.7h0" stroke="#2e38cb"/><path d="M457.4 75.7h0" stroke="#3051b0"/><path d="M433.2 160.8h0" stroke="#2cd734"/><path d="M521.9 93.5h0M364.3 128.0h0M524.9 76.2h0" stroke="#2cce3a"/><path d="M393.7 101.2h0M513.5 60.6h0M453.9 182.0h0" stroke="#326798"/><path d="M487.2 120.7h0M505.2 104.2h0M472.3 140.5h0M457.4 189.7h0" stroke="#2ee529"/><path d="M372.7 126.3h0" stroke="#2abd47"/><path d="M469.7 74.0h0" stroke="#24e03a"/><path d="M502.6 93.5h0M465.3 55.8h0" stroke="#2cd634"/><path d="M425.4 207.0h0" stroke="#2abc47"/><path d="M397.2 122.0h0" stroke="#2f49b8"/><path d="M515.7 101.2h0" stroke="#21e33b"/><path d="M406.5 73.1h0M474.5 84.8h0" stroke="#23e03b"/><path d="M493.8 188.9h0" stroke="#2a9d62"/><path d="M508.3 108.5h0" stroke="#27dc3a"/><path d="M435.4 86.1h0" stroke="#2ee32b"/><path d="M408.7 119.4h0" stroke="#2f42c0"/><path d="M366.1 118.5h0M514.0 139.2h0M428.0 59.3h0M464.8 143.6h0M448.2 77.5h0M402.5 91.2h0M482.8 75.3h0M445.5 60.1h0M469.7 103.4h0M428.8 126.3h0M394.6 46.8h0M482.8 103.4h0" stroke="#2908f8"/><path d="M530.6 65.7h0M546.4 136.2h0" stroke="#2e3bc8"/><path d="M409.5 133.6h0M447.7 66.2h0M454.7 85.6h0M469.7 155.2h0" stroke="#2805fb"/><path d="M402.5 59.3h0M377.9 151.8h0M446.4 151.3h0M535.0 99.9h0M537.7 156.9h0M448.2 126.7h0M422.7 91.7h0M383.2 111.5h0M545.6 119.0h0" stroke="#2a10f1"/><path d="M410.4 78.7h0" stroke="#2cd534"/><path d="M380.1 126.7h0M445.1 156.5h0" stroke="#2cd638"/><path d="M527.1 149.2h0M415.7 64.9h0M370.0 131.9h0M474.5 154.3h0" stroke="#2dd932"/><path d="M381.5 103.8h0" stroke="#30708f"/><path d="M423.7 200.1h0" stroke="#2bcc3c"/><path d="M464.4 165.1h0" stroke="#2f47bb"/><path d="M457.4 71.0h0M484.1 99.1h0" stroke="#2ac144"/><path d="M437.2 143.6h0" stroke="#888428"/><path d="M530.6 153.5h0M395.5 60.6h0M374.9 122.0h0M431.9 199.2h0M528.5 74.0h0M533.3 141.8h0M529.8 123.7h0M511.3 67.5h0M545.6 96.9h0" stroke="#2a11f0"/><path d="M543.8 134.0h0M556.1 104.2h0M515.7 119.0h0" stroke="#2f44be"/><path d="M509.6 139.2h0M486.3 67.0h0" stroke="#3157a9"/><path d="M506.1 184.6h0" stroke="#2ee12c"/><path d="M477.6 52.8h0M542.9 101.6h0" stroke="#2e3cc7"/><path d="M425.3 160.4h0M363.5 136.6h0M489.0 184.6h0M385.0 159.1h0" stroke="#1fe53c"/><path d="M402.5 151.3h0" stroke="#28ad53"/><path d="M429.3 66.2h0M514.0 153.9h0" stroke="#2d847b"/><path d="M398.1 56.3h0" stroke="#22e13b"/><path d="M521.9 78.7h0" stroke="#28aa55"/><path d="M530.2 52.4h0M401.2 48.1h0M474.9 55.0h0" stroke="#2a12ee"/><path d="M536.4 71.0h0" stroke="#2d8976"/><path d="M538.5 93.9h0M391.5 85.2h0M500.8 62.3h0" stroke="#29b24f"/><path d="M527.1 51.1h0" stroke="#2d2fd4"/><path d="M394.6 51.5h0" stroke="#9e6928"/><path d="M397.2 84.3h0M528.1 169.9h0M526.3 124.6h0M539.0 112.8h0M399.0 128.0h0" stroke="#290df4"/><path d="M550.4 93.9h0" stroke="#2ddc2f"/><path d="M421.9 176.0h0M378.8 118.5h0M542.1 94.8h0M548.2 141.8h0" stroke="#290af6"/><path d="M487.2 94.8h0" stroke="#20e43c"/><path d="M549.1 144.4h0M474.9 108.1h0" stroke="#2ddf2e"/><path d="M546.0 106.8h0" stroke="#2ccd3a"/><path d="M490.7 64.4h0M415.7 128.0h0M440.3 80.9h0M497.7 122.8h0M522.7 74.9h0M495.1 76.2h0M506.1 76.2h0" stroke="#2905fa"/><path d="M406.0 57.6h0" stroke="#28ac53"/><path d="M548.2 138.8h0" stroke="#2abf45"/><path d="M520.1 98.6h0" stroke="#2dd832"/><path d="M529.8 133.6h0" stroke="#25de3a"/><path d="M552.2 137.5h0M403.4 119.0h0M493.8 153.9h0M452.5 156.9h0M441.6 65.7h0M550.8 92.5h0M531.6 182.0h0" stroke="#290bf5"/><path d="M365.2 106.4h0M403.4 169.1h0M413.5 75.7h0M515.3 116.3h0M540.3 122.8h0M489.0 119.0h0" stroke="#2a0ff1"/><path d="M472.7 70.6h0" stroke="#2cd435"/><path d="M535.0 68.8h0" stroke="#2d8679"/><path d="M416.1 48.1h0" stroke="#2e38cc"/><path d="M515.3 163.8h0" stroke="#29b44d"/><path d="M489.4 151.8h0" stroke="#977328"/><path d="M467.9 61.4h0" stroke="#290cf5"/><path d="M389.4 119.4h0M402.5 101.2h0M376.6 111.1h0" stroke="#2f7689"/><path d="M537.2 103.8h0" stroke="#2cd039"/><path d="M418.3 56.7h0" stroke="#30718e"/><path d="M544.7 104.2h0M522.3 154.3h0" stroke="#26dd3a"/><path d="M397.2 91.7h0M528.0 70.6h0" stroke="#29a55a"/><path d="M487.2 62.3h0" stroke="#3156aa"/><path d="M493.8 108.1h0M515.8 175.1h0M526.7 90.4h0" stroke="#2f7887"/><path d="M413.0 94.2h0M550.0 156.5h0" stroke="#2803fd"/><path d="M506.1 181.1h0" stroke="#29a15e"/><path d="M391.5 99.1h0M499.1 49.4h0" stroke="#2bc541"/><path d="M510.9 105.5h0M453.0 79.6h0M420.9 66.2h0M493.3 114.6h0M417.5 200.9h0" stroke="#2ee32a"/><path d="M441.1 58.9h0M411.3 61.0h0M388.5 64.9h0" stroke="#2a10f0"/><path d="M533.3 63.6h0" stroke="#304cb5"/><path d="M502.6 96.9h0M414.8 78.7h0M419.2 79.6h0M524.5 131.4h0M402.5 94.3h0" stroke="#290ff2"/><path d="M392.0 184.6h0" stroke="#2cd436"/><path d="M406.0 114.1h0" stroke="#2abe46"/><path d="M496.4 96.9h0M489.8 52.4h0M394.6 164.7h0" stroke="#2908f7"/><path d="M553.5 144.0h0" stroke="#2ae62e"/><path d="M454.7 81.8h0M386.7 145.3h0M476.7 119.0h0M402.5 88.6h0" stroke="#316897"/><path d="M406.0 86.1h0" stroke="#29b64c"/><path d="M514.0 170.8h0" stroke="#2e3dc6"/><path d="M469.7 170.8h0M509.1 122.8h0" stroke="#2d2dd6"/><path d="M406.0 109.0h0M427.5 181.1h0M390.2 159.9h0" stroke="#2e41c2"/><path d="M401.6 66.2h0M489.8 103.4h0M528.0 137.5h0" stroke="#2c2cd7"/><path d="M390.2 101.6h0M536.4 86.1h0M459.2 190.6h0" stroke="#2907f8"/><path d="M386.7 106.0h0M489.0 99.1h0M507.8 190.6h0" stroke="#2e39ca"/><path d="M366.5 137.5h0M449.0 80.0h0" stroke="#28da39"/><path d="M474.5 159.1h0M511.8 124.1h0M468.3 34.6h0M528.9 64.4h0M490.3 131.4h0M446.9 190.6h0" stroke="#2909f7"/><path d="M484.6 64.4h0M386.7 131.9h0M427.5 84.3h0M394.6 93.9h0M385.8 93.9h0" stroke="#2804fb"/><path d="M363.5 119.0h0M504.8 101.2h0M512.7 69.7h0" stroke="#2ee22b"/></g>
<line x1="361.3" y1="18.4" x2="361.3" y2="218.6" stroke="#555" stroke-width="1.5"/>
<line x1="360.6" y1="217.9" x2="556.7" y2="217.9" stroke="#444" stroke-width="1.5"/>
<g stroke="#555" stroke-width="1.2"><line x1="377.2" y1="217.9" x2="377.2" y2="215.9"/><line x1="404" y1="217.9" x2="404" y2="215.9"/><line x1="430.7" y1="217.9" x2="430.7" y2="215.9"/><line x1="457.5" y1="217.9" x2="457.5" y2="215.9"/><line x1="484.3" y1="217.9" x2="484.3" y2="215.9"/><line x1="511" y1="217.9" x2="511" y2="215.9"/><line x1="537.8" y1="217.9" x2="537.8" y2="215.9"/><line x1="361.3" y1="211.8" x2="363.3" y2="211.8"/><line x1="361.3" y1="189.2" x2="363.3" y2="189.2"/><line x1="361.3" y1="166.7" x2="363.3" y2="166.7"/><line x1="361.3" y1="144.1" x2="363.3" y2="144.1"/><line x1="361.3" y1="121.5" x2="363.3" y2="121.5"/><line x1="361.3" y1="98.9" x2="363.3" y2="98.9"/><line x1="361.3" y1="76.4" x2="363.3" y2="76.4"/><line x1="361.3" y1="53.8" x2="363.3" y2="53.8"/><line x1="361.3" y1="31.2" x2="363.3" y2="31.2"/></g>
<g font-family="Liberation Sans, sans-serif" font-size="9.9" fill="#1a1a1a" stroke="#1a1a1a" stroke-width="0.3"><text x="377.2" y="232.2" text-anchor="middle">-60</text><text x="404" y="232.2" text-anchor="middle">-40</text><text x="430.7" y="232.2" text-anchor="middle">-20</text><text x="457.5" y="232.2" text-anchor="middle">0</text><text x="484.3" y="232.2" text-anchor="middle">20</text><text x="511" y="232.2" text-anchor="middle">40</text><text x="537.8" y="232.2" text-anchor="middle">60</text><text x="357.5" y="215.9" text-anchor="end">-100</text><text x="357.5" y="193.3" text-anchor="end">-80</text><text x="357.5" y="170.8" text-anchor="end">-60</text><text x="357.5" y="148.2" text-anchor="end">-40</text><text x="357.5" y="125.6" text-anchor="end">-20</text><text x="357.5" y="103" text-anchor="end">0</text><text x="357.5" y="80.5" text-anchor="end">20</text><text x="357.5" y="57.9" text-anchor="end">40</text><text x="357.5" y="35.3" text-anchor="end">60</text></g>
<rect x="564.7" y="18.1" width="14.6" height="199.9" fill="url(#cbb)" stroke="#333" stroke-width="1"/>
<g stroke="#222" stroke-width="1"><line x1="577.3" y1="68.1" x2="579.3" y2="68.1"/><line x1="577.3" y1="118.1" x2="579.3" y2="118.1"/><line x1="577.3" y1="168" x2="579.3" y2="168"/></g>
<g font-family="Liberation Sans, sans-serif" font-size="8.5" fill="#222"><text x="582.5" y="22.1">1.25</text><text x="582.5" y="72.1">1</text><text x="582.5" y="122.1">0.75</text><text x="582.5" y="172">0.5</text></g>
<text transform="translate(376.4,13.8) scale(1,0.88)" x="0" y="0" font-family="Liberation Mono, monospace" font-size="14.1" fill="#34496b">REM</text>
<text x="474" y="281" text-anchor="middle" font-family="Liberation Serif, serif" font-weight="bold" font-size="32.5" fill="#000">(b)</text>
<g stroke="#e2e2e2" stroke-width="1"><line x1="713.2" y1="19.9" x2="713.2" y2="216.6"/><line x1="739.9" y1="19.9" x2="739.9" y2="216.6"/><line x1="766.6" y1="19.9" x2="766.6" y2="216.6"/><line x1="793.3" y1="19.9" x2="793.3" y2="216.6"/><line x1="820" y1="19.9" x2="820" y2="216.6"/><line x1="846.7" y1="19.9" x2="846.7" y2="216.6"/><line x1="873.4" y1="19.9" x2="873.4" y2="216.6"/><line x1="697.8" y1="210.8" x2="892" y2="210.8"/><line x1="697.8" y1="188.4" x2="892" y2="188.4"/><line x1="697.8" y1="166" x2="892" y2="166"/><line x1="697.8" y1="143.6" x2="892" y2="143.6"/><line x1="697.8" y1="121.2" x2="892" y2="121.2"/><line x1="697.8" y1="98.9" x2="892" y2="98.9"/><line x1="697.8" y1="76.5" x2="892" y2="76.5"/><line x1="697.8" y1="54.1" x2="892" y2="54.1"/><line x1="697.8" y1="31.7" x2="892" y2="31.7"/></g>
<path d="M762.6 19.8L755.3 24.8L743.9 30.9L737.9 36.1L733.9 40.1L729.2 46.2L726.0 50.7L722.5 56.4L716.5 66.7L712.5 74.9L710.5 80.4L706.3 90.6L702.3 100.8L699.0 111.1L697.7 121.2L697.7 134.7L699.0 144.8L703.9 155.4L709.9 165.6L715.9 175.8L720.7 184.8L727.0 195.0L736.2 205.2L745.4 213.5L751.9 216.8L790.6 216.8L790.6 54.1L790.1 37.3L787.3 19.8ZM793.7 216.8L793.7 54.1L794.9 37.3L796.6 19.8L820.0 19.8L822.0 24.8L829.9 30.9L845.4 40.1L857.9 50.7L864.1 56.4L871.4 66.7L874.7 74.9L877.0 80.4L880.1 90.6L883.1 100.8L884.7 111.1L886.8 121.2L888.4 124.6L888.4 134.7L886.2 144.8L882.2 155.4L876.1 165.6L869.8 175.8L863.4 184.8L854.0 195.0L843.6 205.2L833.3 213.5L827.2 216.8Z" fill="url(#gpc)"/><path d="M755.8 41.7L750.1 45.6L741.2 50.4L736.6 54.4L733.4 57.5L729.8 62.3L727.3 65.8L724.6 70.3L719.9 78.3L716.8 84.7L715.2 89.0L711.9 96.9L708.8 104.8L706.3 112.9L705.2 120.8L705.2 131.3L706.3 139.2L710.0 147.5L714.7 155.4L719.4 163.3L723.1 170.4L728.0 178.4L735.2 186.3L742.4 192.8L747.5 195.4L777.7 195.4L777.7 68.4L777.3 55.3L775.1 41.7ZM806.8 196.6L806.8 69.6L807.7 56.5L809.1 42.9L827.3 42.9L828.9 46.7L835.0 51.5L847.1 58.7L856.9 67.0L861.7 71.4L867.4 79.5L870.0 85.8L871.8 90.1L874.2 98.1L876.5 106.0L877.8 114.0L879.4 122.0L880.6 124.6L880.6 132.5L878.9 140.3L875.8 148.6L871.0 156.6L866.1 164.5L861.1 171.6L853.8 179.5L845.7 187.5L837.7 193.9L832.9 196.6Z" fill="url(#gqc)"/><g fill="none" stroke-width="3.6" stroke-linecap="round"><path d="M713.9 143.6h0M877.6 88.2h0" stroke="#2a12ee"/><path d="M699.5 136.2h0" stroke="#2d30d4"/><path d="M879.8 166.6h0M873.3 98.1h0M864.5 140.1h0" stroke="#2b9768"/><path d="M759.9 71.2h0" stroke="#2d8976"/><path d="M715.7 81.8h0M784.8 80.1h0" stroke="#2f44be"/><path d="M868.0 70.7h0M786.2 63.8h0" stroke="#2e37cc"/><path d="M783.5 146.1h0" stroke="#2e39cb"/><path d="M873.3 166.6h0" stroke="#21e33b"/><path d="M756.8 66.4h0M855.3 90.8h0M819.9 99.0h0" stroke="#2ee32a"/><path d="M767.8 91.2h0M813.3 156.8h0M773.0 143.1h0" stroke="#304eb3"/><path d="M822.9 106.3h0M854.4 145.7h0M727.5 85.2h0" stroke="#2e7f80"/><path d="M740.6 104.1h0" stroke="#2bd838"/><path d="M854.0 43.7h0M719.2 99.0h0" stroke="#2e40c3"/><path d="M777.0 59.1h0M847.0 179.5h0" stroke="#1fe53c"/><path d="M849.6 153.4h0" stroke="#25de3a"/><path d="M785.0 36.4h0" stroke="#2f44bf"/><path d="M750.3 60.4h0" stroke="#2cd336"/><path d="M741.1 134.5h0" stroke="#30728d"/><path d="M882.0 116.1h0M801.0 119.1h0M746.3 86.5h0" stroke="#2f7788"/><path d="M825.1 89.9h0" stroke="#1ee63c"/><path d="M728.0 183.8h0" stroke="#2f45be"/><path d="M840.4 57.8h0M744.6 119.1h0M744.6 155.9h0M769.5 51.9h0M837.4 119.1h0M779.6 57.0h0M872.0 86.1h0" stroke="#3159a7"/><path d="M745.1 95.1h0M805.4 85.7h0" stroke="#3050b1"/><path d="M841.8 183.8h0M850.5 107.5h0" stroke="#29a45b"/><path d="M833.0 168.4h0M847.4 55.3h0" stroke="#3158a9"/><path d="M702.1 118.3h0" stroke="#326699"/><path d="M734.9 93.4h0M729.7 55.7h0M733.6 149.1h0M829.5 90.4h0M771.7 61.7h0M838.3 42.4h0M866.7 80.1h0M744.1 127.7h0M736.7 77.1h0M750.7 78.8h0" stroke="#2a0ff1"/><path d="M734.9 146.1h0M884.2 130.7h0M843.1 98.1h0M750.7 123.4h0M759.5 199.2h0M822.9 62.5h0M769.5 151.3h0M763.4 172.7h0M749.8 69.9h0M808.5 89.1h0M816.8 148.7h0M837.4 89.9h0M779.7 109.2h0M840.4 89.5h0M843.2 25.6h0M737.6 175.2h0M864.5 64.7h0M752.0 48.4h0M875.5 134.5h0M760.4 176.1h0M880.3 129.8h0M808.0 146.1h0M780.9 155.9h0M841.3 113.5h0M835.2 99.4h0" stroke="#2a16eb"/><path d="M751.6 65.1h0M834.7 114.4h0M856.6 71.6h0M727.1 66.4h0" stroke="#2d36ce"/><path d="M832.1 96.9h0M865.4 133.2h0" stroke="#2b23e0"/><path d="M813.3 53.1h0M837.8 48.9h0M771.7 73.7h0" stroke="#2f7986"/><path d="M753.3 83.1h0" stroke="#2cd137"/><path d="M862.8 158.1h0M757.7 154.2h0" stroke="#2e3fc4"/><path d="M720.9 121.7h0" stroke="#2a9c63"/><path d="M861.9 124.3h0M710.4 141.3h0M738.5 91.2h0" stroke="#2f46bc"/><path d="M784.4 181.2h0" stroke="#2dd932"/><path d="M717.4 103.7h0M857.9 153.8h0" stroke="#2ee42a"/><path d="M808.5 70.7h0M861.0 116.1h0" stroke="#3052af"/><path d="M857.5 78.8h0M741.1 155.9h0M870.6 99.8h0M734.1 56.6h0" stroke="#2d847b"/><path d="M805.4 74.1h0M737.6 66.4h0" stroke="#3054ac"/><path d="M889.0 143.6h0" stroke="#29a05f"/><path d="M862.8 87.8h0" stroke="#2e837c"/><path d="M726.2 159.4h0" stroke="#2f47bb"/><path d="M815.1 84.0h0M852.7 87.8h0" stroke="#3051af"/><path d="M843.9 90.8h0M829.5 70.7h0M838.7 71.6h0M872.4 118.7h0M713.1 94.3h0" stroke="#2800ff"/><path d="M876.8 145.3h0M789.7 181.2h0M703.9 99.4h0" stroke="#2c906f"/><path d="M854.0 43.2h0M700.4 127.7h0M746.8 124.3h0" stroke="#2fd237"/><path d="M800.6 143.1h0M831.3 183.8h0" stroke="#29d939"/><path d="M727.5 99.0h0" stroke="#2ee12b"/><path d="M822.1 67.2h0M781.3 74.1h0M756.9 199.2h0M853.1 65.9h0M844.8 111.4h0M733.2 121.7h0M753.4 200.0h0M865.4 123.4h0" stroke="#2a10f0"/><path d="M749.9 189.8h0M879.4 153.0h0" stroke="#2b936c"/><path d="M834.7 49.7h0" stroke="#2e38cb"/><path d="M720.1 183.8h0" stroke="#2cd638"/><path d="M729.7 101.1h0" stroke="#32649b"/><path d="M879.4 133.7h0M836.5 62.5h0M824.7 60.4h0M778.7 145.7h0M856.6 63.8h0M865.8 52.7h0M722.7 144.8h0M860.6 137.5h0M762.2 169.3h0M823.8 153.4h0M817.7 63.8h0M750.9 117.6h0M780.1 174.4h0M842.6 170.1h0M886.0 93.9h0M823.8 77.6h0M863.6 70.7h0M732.3 78.8h0M722.7 189.4h0M713.9 158.9h0M861.9 54.8h0M818.6 183.8h0M847.0 50.6h0M876.8 137.5h0M860.1 63.0h0M799.3 83.5h0M825.6 52.7h0M854.0 53.6h0M869.8 80.1h0M808.6 34.7h0M797.6 189.8h0" stroke="#290af6"/><path d="M747.2 163.6h0" stroke="#2e3ec4"/><path d="M786.4 93.2h0" stroke="#2f41c1"/><path d="M707.8 109.7h0M782.7 189.8h0M795.0 207.2h0M736.7 123.4h0" stroke="#2e3ac9"/><path d="M718.3 90.8h0" stroke="#2e40c2"/><path d="M773.5 51.9h0M751.8 108.2h0" stroke="#2f7689"/><path d="M887.7 137.1h0" stroke="#2cd534"/><path d="M881.2 96.9h0M807.2 61.3h0" stroke="#2e3aca"/><path d="M796.2 85.2h0M761.3 206.0h0M847.9 99.4h0M822.9 120.4h0M759.9 126.0h0M803.7 55.7h0M742.8 90.8h0M858.4 75.0h0M833.9 31.3h0" stroke="#2a11ef"/><path d="M790.5 85.7h0" stroke="#2f47ba"/><path d="M878.5 163.6h0" stroke="#2d2fd4"/><path d="M795.4 99.4h0" stroke="#304bb6"/><path d="M800.2 70.3h0M838.3 93.4h0" stroke="#2f43bf"/><path d="M820.3 64.7h0M875.9 99.4h0M719.2 86.5h0" stroke="#2d33d1"/><path d="M808.9 63.0h0M847.0 64.7h0M814.2 180.4h0" stroke="#2908f7"/><path d="M851.8 122.1h0" stroke="#316897"/><path d="M840.4 101.1h0M747.0 104.5h0" stroke="#2cd038"/><path d="M710.4 130.7h0" stroke="#2f45bd"/><path d="M767.8 198.3h0M874.1 150.0h0M745.0 81.8h0M809.9 168.4h0M714.8 130.7h0M815.1 46.7h0M839.1 80.1h0M877.6 94.7h0M874.1 140.9h0M777.4 76.3h0M781.6 94.2h0M849.2 90.4h0M730.6 131.5h0M862.8 166.2h0M730.6 116.9h0M766.0 83.5h0M797.5 113.9h0M763.4 84.4h0" stroke="#2908f8"/><path d="M872.0 71.2h0M810.2 153.8h0M780.5 133.2h0" stroke="#2de02c"/><path d="M810.2 162.8h0" stroke="#2c8e71"/><path d="M851.4 71.6h0M808.0 65.9h0M740.6 126.4h0M800.2 129.0h0M858.4 66.4h0" stroke="#2c916e"/><path d="M806.7 98.6h0M816.4 99.0h0M801.0 105.4h0" stroke="#2ee529"/><path d="M811.6 86.5h0M742.4 47.2h0M722.3 163.2h0" stroke="#2c29da"/><path d="M875.9 122.6h0" stroke="#3158a8"/><path d="M840.4 147.0h0" stroke="#e71539"/><path d="M775.7 154.7h0M727.5 89.5h0M738.5 150.8h0" stroke="#2b956a"/><path d="M738.5 161.9h0M853.6 130.2h0M771.3 86.1h0" stroke="#30738c"/><path d="M815.9 74.6h0M842.6 81.4h0" stroke="#290df4"/><path d="M810.7 108.0h0M753.4 169.3h0M763.4 180.4h0M786.2 87.8h0M735.8 86.5h0M836.9 75.4h0M812.9 79.7h0M731.9 161.1h0M724.4 112.7h0M842.2 118.7h0M850.9 110.1h0M838.3 54.4h0M713.9 137.5h0M811.6 159.8h0M727.5 138.8h0M856.6 118.3h0M858.4 123.0h0M833.0 149.5h0M737.1 48.4h0M871.5 160.6h0M829.5 108.0h0M846.6 83.1h0M888.6 118.3h0M862.8 51.4h0M829.1 99.4h0" stroke="#290bf5"/><path d="M866.7 105.0h0" stroke="#316c93"/><path d="M855.8 168.4h0M849.6 138.8h0" stroke="#2c2cd7"/><path d="M699.9 116.5h0" stroke="#30708f"/><path d="M776.1 72.0h0" stroke="#2e3bc8"/><path d="M713.1 89.9h0M738.5 94.3h0M777.4 182.1h0" stroke="#315aa6"/><path d="M851.4 101.1h0M723.6 138.8h0M844.8 122.6h0M870.6 137.9h0" stroke="#2cd535"/><path d="M754.3 175.2h0M722.7 105.8h0" stroke="#2f7b84"/><path d="M788.8 69.0h0M852.3 178.7h0" stroke="#2c23df"/><path d="M714.8 118.3h0" stroke="#2be62b"/><path d="M800.2 142.2h0" stroke="#29a15e"/><path d="M842.2 138.4h0M758.6 91.6h0M866.3 71.6h0M736.7 57.0h0M793.2 188.9h0" stroke="#2cce3a"/><path d="M755.1 79.7h0M707.8 115.6h0" stroke="#22e13b"/><path d="M750.7 138.4h0M743.8 176.1h0" stroke="#2cd138"/><path d="M745.0 48.9h0M839.6 123.0h0" stroke="#316e91"/><path d="M813.4 28.4h0M733.2 91.6h0M783.1 61.7h0M755.5 129.8h0" stroke="#2f7a85"/><path d="M752.5 162.4h0M870.6 144.4h0M864.5 143.6h0M738.5 69.0h0M891.7 137.5h0M742.8 139.2h0M800.2 96.4h0M849.6 76.7h0M812.9 45.5h0M703.9 116.1h0M789.2 147.0h0M847.9 190.6h0M718.8 132.0h0M861.9 173.5h0M812.4 153.4h0M720.9 135.4h0M854.9 123.8h0M822.9 140.9h0M702.6 132.0h0M786.2 86.1h0M777.8 88.7h0M761.2 82.3h0" stroke="#2a12ef"/><path d="M731.4 60.8h0M854.9 87.0h0M699.5 118.7h0" stroke="#316b94"/><path d="M728.9 189.4h0M735.8 152.1h0M758.7 37.3h0" stroke="#2ee12c"/><path d="M849.7 170.1h0" stroke="#2de12c"/><path d="M743.7 60.0h0M795.0 189.8h0" stroke="#30718e"/><path d="M843.9 56.1h0M870.7 175.8h0M724.4 122.6h0" stroke="#316a95"/><path d="M866.3 55.3h0M839.1 143.1h0M789.7 118.3h0" stroke="#2f48ba"/><path d="M861.9 86.1h0M774.8 121.3h0" stroke="#304db4"/><path d="M846.1 159.8h0" stroke="#2ddb31"/><path d="M832.1 40.7h0M797.5 153.0h0M741.1 144.8h0M808.0 140.1h0M841.8 62.1h0M857.9 140.9h0M757.7 61.7h0M873.3 156.4h0M852.3 56.1h0" stroke="#2804fb"/><path d="M774.8 193.2h0" stroke="#2de02d"/><path d="M708.7 146.6h0M739.4 168.4h0" stroke="#2a16ec"/><path d="M823.8 57.0h0M875.9 156.8h0M803.7 86.5h0M845.3 115.2h0M841.8 70.7h0" stroke="#2d8877"/><path d="M730.6 51.9h0M865.4 150.8h0M791.2 94.2h0M867.2 181.2h0M854.9 69.0h0M723.6 77.6h0M764.7 126.0h0M730.1 146.6h0M712.2 99.0h0M782.7 84.8h0M848.3 69.9h0M857.5 93.4h0M798.4 116.1h0M798.4 140.1h0M846.1 97.7h0" stroke="#2907f9"/><path d="M830.8 76.3h0M727.1 146.1h0M795.0 194.0h0M859.7 157.7h0M734.1 118.3h0M833.9 143.6h0M783.5 140.5h0M750.7 147.4h0M863.6 79.3h0M854.9 161.9h0M816.9 169.3h0M868.0 61.7h0M727.9 112.7h0M804.6 174.4h0M829.1 144.0h0M743.7 146.6h0M847.4 123.8h0M836.5 155.9h0M888.2 116.9h0M744.6 190.3h0M740.3 190.6h0M757.8 170.1h0" stroke="#2a13ee"/><path d="M885.5 155.9h0" stroke="#20e639"/><path d="M851.4 174.4h0" stroke="#2b926d"/><path d="M727.9 161.1h0" stroke="#2cd436"/><path d="M843.9 165.8h0M775.7 158.5h0" stroke="#316996"/><path d="M776.5 151.3h0M721.8 116.5h0M824.8 183.8h0M816.8 70.3h0M875.1 170.1h0M853.1 81.8h0M867.1 74.6h0M786.2 152.5h0M703.9 144.0h0M829.5 51.9h0M717.4 115.6h0" stroke="#2803fc"/><path d="M721.4 152.5h0M732.4 170.1h0" stroke="#2c24de"/><path d="M829.1 114.4h0" stroke="#2c25dd"/><path d="M877.2 130.7h0" stroke="#2b9867"/><path d="M810.7 182.6h0" stroke="#21e23b"/><path d="M849.6 44.2h0" stroke="#1fe63b"/><path d="M749.9 175.2h0M840.4 153.8h0M777.8 112.9h0" stroke="#2d8778"/><path d="M851.4 63.8h0M798.5 185.5h0M777.0 68.6h0" stroke="#2bd738"/><path d="M789.3 112.0h0" stroke="#29a35c"/><path d="M759.0 58.3h0" stroke="#2d857a"/><path d="M843.9 108.4h0M823.0 188.1h0" stroke="#2d31d3"/><path d="M801.5 146.6h0M749.0 90.8h0" stroke="#30d237"/><path d="M860.1 72.0h0" stroke="#28db39"/><path d="M819.4 71.2h0M815.1 150.4h0M889.5 124.3h0M849.6 125.1h0M795.4 93.9h0M766.9 161.1h0M821.3 184.6h0M706.1 119.1h0M756.8 57.4h0M780.0 81.0h0M792.7 56.6h0M847.4 86.5h0M869.8 104.1h0M716.1 110.1h0M776.8 117.6h0M765.2 66.4h0M847.9 183.8h0M863.7 169.3h0M722.7 131.5h0M866.3 153.0h0M722.7 88.7h0M770.4 67.2h0" stroke="#2802fd"/><path d="M765.2 200.9h0M817.7 106.7h0M873.3 163.2h0" stroke="#2a9966"/><path d="M791.0 140.1h0M756.0 118.3h0M747.2 49.7h0M848.8 165.8h0M815.9 159.4h0" stroke="#2c25de"/><path d="M780.7 116.7h0M824.7 118.7h0" stroke="#2cd237"/><path d="M803.7 61.7h0M843.5 129.0h0" stroke="#2d8679"/><path d="M840.4 51.9h0M836.5 108.4h0M715.7 121.3h0M803.7 65.5h0M786.2 161.1h0M867.6 145.3h0M726.2 165.8h0M802.8 71.6h0M868.9 88.2h0M785.3 59.5h0M864.5 161.5h0M841.8 66.4h0M742.4 123.0h0M861.0 95.6h0M732.3 65.9h0M826.9 96.4h0M780.0 151.7h0M757.8 175.2h0M728.8 81.8h0M797.5 63.0h0M792.3 151.3h0M795.8 92.5h0M705.6 138.4h0M872.4 67.7h0" stroke="#2a15ec"/><path d="M840.9 104.1h0M878.5 96.4h0M829.5 188.1h0" stroke="#2e817e"/><path d="M726.6 128.1h0M734.5 48.4h0M833.4 122.6h0M793.6 47.6h0M744.6 69.4h0" stroke="#3157a9"/><path d="M859.3 56.1h0" stroke="#2ed337"/><path d="M856.2 51.9h0M868.0 97.3h0M864.5 51.0h0" stroke="#2c2cd8"/><path d="M880.3 104.1h0M810.2 84.8h0M713.5 103.3h0" stroke="#3054ad"/><path d="M751.6 71.6h0M822.1 195.7h0M878.5 101.6h0M822.9 94.7h0M769.1 165.8h0M886.4 92.5h0M812.4 163.6h0M730.6 149.5h0M833.9 48.0h0M750.7 140.9h0M782.2 150.8h0" stroke="#290ef2"/><path d="M841.8 76.3h0M730.6 47.2h0M843.1 86.5h0M729.7 69.0h0" stroke="#304fb2"/><path d="M787.0 154.2h0M780.0 69.0h0" stroke="#3053ae"/><path d="M801.1 177.8h0M841.8 198.0h0" stroke="#2e3cc7"/><path d="M742.0 108.8h0M813.3 76.3h0M719.2 111.4h0M721.8 93.9h0M779.6 90.4h0M833.0 118.7h0M826.4 69.9h0M725.3 141.3h0M735.8 69.9h0M804.1 137.9h0M767.8 72.0h0M718.8 151.3h0M798.9 47.6h0M754.8 37.3h0M748.1 81.4h0M717.0 78.8h0M797.1 101.1h0M831.7 80.1h0M885.1 148.7h0M826.4 64.7h0M822.9 71.6h0M868.1 171.8h0M755.1 123.0h0M722.7 99.4h0" stroke="#2909f7"/><path d="M750.7 87.8h0M754.2 57.0h0" stroke="#2c27dc"/><path d="M754.2 157.7h0M862.8 178.7h0" stroke="#2ddd2f"/><path d="M758.6 166.2h0M854.0 188.9h0M808.9 74.6h0M880.3 110.1h0M875.5 81.8h0M813.3 69.9h0M726.2 132.8h0M889.0 113.5h0M777.4 65.9h0M729.7 120.9h0M753.3 152.1h0M851.4 118.7h0M882.0 135.8h0M739.3 56.1h0M854.0 154.7h0M787.9 57.8h0M753.3 90.8h0M733.2 84.4h0" stroke="#2906fa"/><path d="M862.8 63.4h0" stroke="#315ba5"/><path d="M847.0 118.7h0" stroke="#32659a"/><path d="M726.2 94.3h0M857.9 99.8h0M882.9 124.7h0M883.8 141.3h0M881.2 118.7h0M812.4 118.7h0M891.2 149.5h0M713.9 151.3h0M850.5 143.6h0M815.1 139.6h0M810.2 158.5h0M830.8 163.2h0M791.4 167.0h0M793.2 71.2h0M738.5 88.7h0M865.4 87.4h0M760.8 155.1h0M810.7 99.0h0M850.9 163.2h0M866.3 65.9h0M785.7 134.5h0M747.2 61.3h0M864.1 74.1h0M783.5 53.1h0" stroke="#290cf4"/><path d="M814.6 147.8h0M733.2 113.5h0M828.6 123.4h0M856.7 190.1h0M851.8 158.9h0" stroke="#2a9a65"/><path d="M748.1 158.9h0M852.3 141.3h0M776.8 97.9h0M748.9 112.9h0M887.3 123.0h0" stroke="#2dda31"/><path d="M850.9 116.1h0M806.3 69.0h0" stroke="#2c8d72"/><path d="M873.3 76.3h0M726.2 101.6h0M803.7 90.4h0M755.1 146.1h0M870.6 75.0h0M722.3 65.9h0M830.4 66.4h0M835.6 70.7h0" stroke="#2a17eb"/><path d="M870.6 69.0h0M872.8 103.7h0M781.8 52.3h0M880.3 122.6h0M873.7 129.0h0" stroke="#290cf5"/><path d="M838.3 112.7h0" stroke="#2f4bb7"/><path d="M868.9 153.4h0" stroke="#2dd833"/><path d="M868.9 122.6h0M776.1 81.0h0M787.9 189.8h0" stroke="#2803fd"/><path d="M846.6 128.1h0M785.3 173.5h0" stroke="#2f42c0"/><path d="M750.9 100.7h0M761.7 58.7h0M752.5 132.4h0" stroke="#2801ff"/><path d="M874.1 93.9h0M801.0 56.1h0" stroke="#2f49b9"/><path d="M798.4 118.7h0" stroke="#2dd931"/><path d="M793.2 75.9h0M734.1 156.8h0M729.7 118.7h0M804.1 119.1h0M849.7 31.3h0M781.3 60.4h0" stroke="#290ef3"/><path d="M801.9 60.4h0" stroke="#2dde2e"/><path d="M825.6 146.6h0" stroke="#304eb4"/><path d="M758.6 158.5h0" stroke="#304cb6"/><path d="M749.4 75.9h0" stroke="#2e3fc3"/><path d="M815.9 61.7h0M871.1 155.5h0" stroke="#29a25d"/><path d="M730.6 93.9h0M810.2 71.6h0M783.5 155.1h0M834.3 74.1h0M751.6 58.3h0M734.9 62.1h0M831.2 158.5h0M773.5 123.4h0M878.5 158.5h0M844.8 144.0h0M734.9 158.5h0M722.7 91.6h0M843.5 189.8h0M805.4 59.5h0M761.2 159.8h0M698.2 146.1h0M812.4 63.4h0M754.6 51.9h0" stroke="#2a14ed"/><path d="M784.0 89.5h0M822.1 77.1h0" stroke="#3159a8"/><path d="M737.6 137.9h0M785.3 68.6h0M869.8 168.4h0M836.1 78.4h0" stroke="#2d2ed6"/><path d="M735.9 190.1h0M769.5 58.7h0M730.6 106.7h0M833.0 51.9h0M745.5 57.4h0M716.1 146.1h0" stroke="#2906f9"/><path d="M883.8 138.4h0M813.3 96.4h0M844.4 37.6h0" stroke="#2a9d62"/><path d="M825.6 103.3h0M804.5 146.6h0M807.2 148.3h0" stroke="#2c26dd"/><path d="M838.3 96.9h0M866.3 166.2h0" stroke="#2802fe"/><path d="M861.0 80.5h0M841.8 158.9h0" stroke="#315ca4"/><path d="M781.3 143.6h0M862.3 90.4h0" stroke="#2d32d2"/><path d="M776.5 118.7h0M743.7 161.1h0M751.6 155.9h0M710.4 118.7h0" stroke="#2e3dc6"/><path d="M866.7 138.4h0M826.0 131.1h0" stroke="#2d30d3"/><path d="M840.0 74.6h0" stroke="#20e43b"/><path d="M807.2 181.2h0M720.5 102.0h0" stroke="#2ddc30"/><path d="M777.0 139.6h0M801.0 72.9h0" stroke="#2f7887"/><path d="M751.6 127.7h0" stroke="#3052ae"/><path d="M842.2 44.2h0M865.4 99.0h0M758.6 87.0h0M784.0 126.4h0" stroke="#2c2ad9"/><path d="M712.6 126.8h0" stroke="#2dd438"/><path d="M868.5 149.5h0M873.3 123.0h0M709.6 137.1h0" stroke="#2ee429"/><path d="M865.8 116.1h0" stroke="#2d35ce"/><path d="M738.5 147.0h0M706.1 131.5h0M713.1 116.1h0" stroke="#2a9e61"/><path d="M769.1 160.2h0M738.5 101.1h0" stroke="#2d34d0"/><path d="M832.1 56.1h0M852.3 91.2h0" stroke="#2c28db"/><path d="M855.8 98.6h0M874.1 87.0h0M753.3 61.7h0M707.8 153.8h0M854.0 96.4h0M804.1 35.0h0M777.4 126.8h0M730.6 164.1h0M753.3 137.5h0M851.4 54.0h0M758.6 81.8h0M788.4 156.4h0M773.0 78.8h0M767.8 62.1h0M808.0 83.1h0M836.5 85.2h0M727.9 150.8h0M878.5 140.5h0M833.4 88.7h0" stroke="#290df3"/><path d="M832.6 86.5h0" stroke="#2e7d82"/><path d="M841.8 38.1h0" stroke="#30748b"/><path d="M845.7 151.3h0" stroke="#316d92"/><path d="M805.4 163.6h0M858.8 91.2h0M860.6 76.3h0M859.7 165.3h0M788.8 79.7h0" stroke="#2804fc"/><path d="M701.2 106.3h0M855.8 60.8h0" stroke="#2a9b64"/><path d="M724.9 55.3h0" stroke="#2b9669"/><path d="M775.8 94.2h0M796.2 137.1h0M724.4 65.1h0M760.3 163.2h0M746.3 136.2h0M749.8 84.0h0M755.5 126.4h0M847.0 67.7h0M867.6 163.2h0M746.3 64.2h0" stroke="#2905fa"/><path d="M738.5 111.4h0M785.3 194.9h0M718.3 140.9h0M850.5 46.3h0M856.6 137.9h0M860.1 131.1h0M832.6 71.2h0" stroke="#2907f8"/><path d="M846.6 105.4h0M854.0 115.6h0M783.2 37.3h0" stroke="#2d35cf"/><path d="M733.2 182.9h0M781.3 118.3h0" stroke="#2ed437"/><path d="M738.5 59.5h0M777.4 202.6h0M723.6 82.3h0M842.2 53.6h0M790.3 102.6h0M884.7 144.0h0M805.5 170.1h0M738.5 156.8h0M836.1 166.2h0M838.3 191.5h0M862.8 98.1h0" stroke="#2805fb"/><path d="M876.8 151.3h0M795.0 197.4h0" stroke="#21e638"/><path d="M831.2 110.9h0M783.5 66.4h0M881.6 106.7h0M764.7 144.8h0M708.7 126.0h0M811.6 155.9h0M742.8 83.5h0M731.9 155.1h0M734.9 127.7h0M738.5 182.9h0M749.8 149.1h0M873.3 90.8h0M805.4 154.7h0M797.1 69.9h0M722.7 68.6h0" stroke="#290ff2"/><path d="M720.9 158.5h0M720.1 118.7h0M702.6 137.1h0M777.8 101.7h0M749.0 131.5h0M769.5 191.5h0M834.3 65.9h0M840.4 84.4h0M818.6 103.3h0M720.9 109.7h0M790.6 168.4h0M754.2 86.5h0M731.0 126.8h0M810.7 55.3h0M739.3 118.7h0" stroke="#2a10f1"/><path d="M717.4 94.3h0M802.8 96.0h0M763.8 59.5h0M742.8 77.6h0" stroke="#2c8f70"/><path d="M873.3 146.1h0" stroke="#2ddc2f"/><path d="M787.1 184.6h0M859.7 143.1h0M760.3 65.9h0M717.0 135.8h0M784.0 77.6h0M856.6 159.8h0M850.1 87.4h0M710.9 121.7h0M828.6 62.1h0M845.3 138.8h0M812.4 89.1h0M810.2 59.5h0" stroke="#2a17ea"/><path d="M836.5 39.0h0M749.0 57.4h0" stroke="#30758a"/><path d="M824.7 99.0h0M816.8 67.2h0M741.1 81.8h0M799.3 170.1h0M869.8 91.2h0M734.1 101.6h0M728.0 169.3h0M742.0 86.1h0M862.8 118.7h0M742.0 57.8h0M712.6 110.9h0M862.8 148.7h0M741.1 52.7h0M841.8 180.4h0M742.4 73.3h0M849.2 60.8h0M731.4 138.4h0M769.5 204.3h0M780.1 185.5h0M857.9 87.8h0M780.9 63.8h0M778.7 105.4h0M781.3 161.1h0M860.6 53.1h0" stroke="#2a11f0"/><path d="M707.8 104.1h0M805.4 103.3h0M725.3 119.1h0" stroke="#2c8b74"/><path d="M798.4 128.5h0" stroke="#2cd634"/><path d="M724.5 170.1h0M750.7 118.7h0" stroke="#2d2dd6"/><path d="M891.7 104.1h0M742.0 113.9h0" stroke="#2c2bd8"/><path d="M823.8 161.1h0" stroke="#2ee22b"/><path d="M868.9 63.8h0" stroke="#290bf6"/><path d="M800.2 164.5h0M760.3 61.3h0" stroke="#26dd3a"/><path d="M770.4 68.6h0M817.2 57.4h0" stroke="#2cd435"/><path d="M869.8 60.4h0" stroke="#2b946b"/><path d="M849.6 49.3h0" stroke="#2c2dd7"/><path d="M876.8 119.1h0M879.0 83.5h0" stroke="#2a13ed"/><path d="M756.0 84.0h0M871.5 150.8h0M829.5 153.4h0M798.4 124.3h0" stroke="#2e7e81"/><path d="M880.3 144.4h0M796.2 127.7h0M839.1 61.7h0M871.5 79.3h0M790.5 81.8h0M818.6 75.4h0M772.2 126.0h0M746.3 78.8h0M737.1 132.4h0M726.2 116.1h0M866.3 90.8h0M872.4 133.7h0M846.2 41.5h0M825.1 151.3h0M716.1 126.4h0M748.1 144.4h0M863.6 137.1h0M724.4 150.0h0M852.7 75.0h0M764.3 89.5h0" stroke="#2801fe"/><path d="M774.8 60.4h0M746.0 98.8h0M721.4 128.1h0" stroke="#2fd337"/><path d="M727.5 104.5h0M809.9 176.1h0M844.4 63.4h0M745.5 133.2h0" stroke="#306f90"/><path d="M796.7 108.0h0" stroke="#2c27db"/><path d="M851.4 79.3h0" stroke="#3156ab"/><path d="M746.0 115.7h0M747.2 128.1h0M874.6 112.7h0" stroke="#2c24df"/><path d="M868.9 141.3h0" stroke="#2ddb30"/><path d="M738.5 51.9h0M748.9 94.2h0M732.3 140.9h0" stroke="#3055ac"/><path d="M732.3 87.8h0" stroke="#2e807f"/></g>
<line x1="697.8" y1="19.9" x2="697.8" y2="217.3" stroke="#333" stroke-width="1.5"/>
<line x1="697.1" y1="216.6" x2="892" y2="216.6" stroke="#333" stroke-width="1.5"/>
<g stroke="#333" stroke-width="1.2"><line x1="713.2" y1="216.6" x2="713.2" y2="214.6"/><line x1="739.9" y1="216.6" x2="739.9" y2="214.6"/><line x1="766.6" y1="216.6" x2="766.6" y2="214.6"/><line x1="793.3" y1="216.6" x2="793.3" y2="214.6"/><line x1="820" y1="216.6" x2="820" y2="214.6"/><line x1="846.7" y1="216.6" x2="846.7" y2="214.6"/><line x1="873.4" y1="216.6" x2="873.4" y2="214.6"/><line x1="697.8" y1="210.8" x2="699.8" y2="210.8"/><line x1="697.8" y1="188.4" x2="699.8" y2="188.4"/><line x1="697.8" y1="166" x2="699.8" y2="166"/><line x1="697.8" y1="143.6" x2="699.8" y2="143.6"/><line x1="697.8" y1="121.2" x2="699.8" y2="121.2"/><line x1="697.8" y1="98.9" x2="699.8" y2="98.9"/><line x1="697.8" y1="76.5" x2="699.8" y2="76.5"/><line x1="697.8" y1="54.1" x2="699.8" y2="54.1"/><line x1="697.8" y1="31.7" x2="699.8" y2="31.7"/></g>
<g font-family="Liberation Sans, sans-serif" font-size="9.9" fill="#1a1a1a" stroke="#1a1a1a" stroke-width="0.3"><text x="713.2" y="230.9" text-anchor="middle">-60</text><text x="739.9" y="230.9" text-anchor="middle">-40</text><text x="766.6" y="230.9" text-anchor="middle">-20</text><text x="793.3" y="230.9" text-anchor="middle">0</text><text x="820" y="230.9" text-anchor="middle">20</text><text x="846.7" y="230.9" text-anchor="middle">40</text><text x="873.4" y="230.9" text-anchor="middle">60</text><text x="694" y="214.9" text-anchor="end">-100</text><text x="694" y="192.5" text-anchor="end">-80</text><text x="694" y="170.1" text-anchor="end">-60</text><text x="694" y="147.7" text-anchor="end">-40</text><text x="694" y="125.3" text-anchor="end">-20</text><text x="694" y="103" text-anchor="end">0</text><text x="694" y="80.6" text-anchor="end">20</text><text x="694" y="58.2" text-anchor="end">40</text><text x="694" y="35.8" text-anchor="end">60</text></g>
<rect x="899.8" y="19.6" width="14" height="197.6" fill="url(#cbc)" stroke="#333" stroke-width="1"/>
<g stroke="#222" stroke-width="1"><line x1="911.8" y1="69" x2="913.8" y2="69"/><line x1="911.8" y1="118.4" x2="913.8" y2="118.4"/><line x1="911.8" y1="167.8" x2="913.8" y2="167.8"/></g>
<g font-family="Liberation Sans, sans-serif" font-size="8.5" fill="#222"><text x="917" y="23.6">1.25</text><text x="917" y="73">1</text><text x="917" y="122.4">0.75</text><text x="917" y="171.8">0.5</text></g>
<text transform="translate(713.6,15.5) scale(1,0.88)" x="0" y="0" font-family="Liberation Mono, monospace" font-size="14.1" fill="#34496b">non REM N2</text>
<text x="810.3" y="281" text-anchor="middle" font-family="Liberation Serif, serif" font-weight="bold" font-size="32.5" fill="#000">(c)</text>
<g stroke="#e2e2e2" stroke-width="1"><line x1="1050.6" y1="18.5" x2="1050.6" y2="217.9"/><line x1="1076.8" y1="18.5" x2="1076.8" y2="217.9"/><line x1="1103" y1="18.5" x2="1103" y2="217.9"/><line x1="1129.2" y1="18.5" x2="1129.2" y2="217.9"/><line x1="1155.4" y1="18.5" x2="1155.4" y2="217.9"/><line x1="1181.6" y1="18.5" x2="1181.6" y2="217.9"/><line x1="1207.8" y1="18.5" x2="1207.8" y2="217.9"/><line x1="1035.3" y1="211.5" x2="1226.5" y2="211.5"/><line x1="1035.3" y1="189" x2="1226.5" y2="189"/><line x1="1035.3" y1="166.5" x2="1226.5" y2="166.5"/><line x1="1035.3" y1="143.9" x2="1226.5" y2="143.9"/><line x1="1035.3" y1="121.4" x2="1226.5" y2="121.4"/><line x1="1035.3" y1="98.9" x2="1226.5" y2="98.9"/><line x1="1035.3" y1="76.4" x2="1226.5" y2="76.4"/><line x1="1035.3" y1="53.8" x2="1226.5" y2="53.8"/><line x1="1035.3" y1="31.3" x2="1226.5" y2="31.3"/></g>
<path d="M1099.1 19.4L1091.9 24.3L1080.7 30.5L1074.8 35.7L1070.9 39.8L1066.3 45.9L1063.2 50.5L1059.8 56.2L1053.9 66.6L1049.9 74.8L1048.0 80.3L1043.8 90.5L1039.9 100.8L1036.7 111.2L1035.4 121.4L1035.4 134.9L1036.7 145.1L1041.4 155.8L1047.3 166.0L1053.2 176.3L1057.9 185.4L1064.1 195.6L1073.1 205.9L1082.2 214.2L1088.6 217.6L1126.6 217.6L1126.6 53.8L1126.1 36.9L1123.3 19.4ZM1129.6 217.6L1129.6 53.8L1130.8 36.9L1132.5 19.4L1155.4 19.4L1157.4 24.3L1165.1 30.5L1180.3 39.8L1192.6 50.5L1198.6 56.2L1205.8 66.6L1209.1 74.8L1211.3 80.3L1214.4 90.5L1217.4 100.8L1218.9 111.2L1220.9 121.4L1222.5 124.8L1222.5 134.9L1220.4 145.1L1216.4 155.8L1210.4 166.0L1204.3 176.3L1198.0 185.4L1188.8 195.6L1178.6 205.9L1168.5 214.2L1162.5 217.6Z" fill="url(#gpd)"/><path d="M1092.4 41.4L1086.8 45.3L1078.1 50.1L1073.5 54.1L1070.5 57.3L1066.9 62.1L1064.4 65.6L1061.8 70.1L1057.2 78.2L1054.1 84.6L1052.6 88.9L1049.3 96.9L1046.2 104.9L1043.8 113.0L1042.8 121.0L1042.8 131.5L1043.8 139.4L1047.5 147.8L1052.1 155.8L1056.7 163.8L1060.3 170.9L1065.1 178.9L1072.2 186.9L1079.2 193.4L1084.2 196.0L1113.9 196.0L1113.9 68.3L1113.5 55.1L1111.3 41.4ZM1142.4 197.2L1142.4 69.4L1143.3 56.3L1144.7 42.6L1162.6 42.6L1164.1 46.4L1170.1 51.3L1182.0 58.5L1191.6 66.8L1196.3 71.3L1201.9 79.4L1204.5 85.8L1206.2 90.1L1208.5 98.1L1210.9 106.1L1212.1 114.2L1213.6 122.1L1214.9 124.8L1214.9 132.7L1213.2 140.6L1210.2 148.9L1205.5 156.9L1200.7 164.9L1195.8 172.0L1188.6 180.0L1180.6 188.0L1172.8 194.5L1168.1 197.2Z" fill="url(#gqd)"/><g fill="none" stroke-width="3.3" stroke-linecap="round"><path d="M1199.1 140.3h0M1194.4 143.4h0M1111.9 158.9h0M1178.9 108.5h0M1145.5 176.6h0M1190.5 98.6h0" stroke="#2f7b84"/><path d="M1116.8 116.8h0" stroke="#2ccf39"/><path d="M1136.8 105.5h0" stroke="#21e33b"/><path d="M1071.9 127.9h0M1175.9 104.2h0M1060.8 139.0h0M1135.9 96.4h0M1099.9 180.9h0M1099.9 84.3h0M1223.1 113.6h0M1079.2 46.9h0" stroke="#2a12ee"/><path d="M1181.9 118.9h0" stroke="#30738c"/><path d="M1148.0 118.9h0M1129.1 189.5h0" stroke="#2c8b74"/><path d="M1078.8 86.0h0M1056.0 151.6h0M1200.8 166.6h0M1204.2 80.0h0M1136.8 178.3h0M1145.8 158.9h0M1105.9 204.9h0M1196.5 174.0h0M1096.1 199.8h0M1142.0 68.9h0M1211.5 130.9h0M1214.5 130.0h0M1202.1 163.6h0M1080.6 176.6h0M1185.8 110.2h0M1215.4 118.9h0M1199.1 161.9h0M1114.9 105.5h0M1198.7 74.0h0" stroke="#290ef2"/><path d="M1212.0 94.7h0M1136.8 72.7h0M1203.4 153.7h0" stroke="#2908f7"/><path d="M1094.4 170.6h0M1165.6 66.2h0M1187.5 87.8h0M1104.2 198.9h0M1147.1 86.5h0M1088.3 58.0h0M1191.4 63.6h0M1184.5 76.6h0M1100.7 89.5h0M1164.3 144.3h0M1114.9 146.0h0M1131.2 93.9h0M1078.8 108.9h0M1141.2 170.6h0M1132.9 101.2h0M1077.2 191.2h0M1177.2 118.9h0M1063.4 94.3h0M1148.9 28.0h0M1096.9 61.0h0M1056.5 99.0h0" stroke="#290ff2"/><path d="M1196.9 90.3h0M1086.5 83.9h0M1144.5 62.8h0M1117.0 63.6h0M1075.4 183.5h0M1134.2 124.4h0M1065.1 161.5h0M1164.7 108.0h0M1077.5 126.6h0M1113.0 97.9h0M1094.3 154.6h0M1197.4 179.2h0M1200.4 116.2h0M1084.8 81.3h0M1180.2 139.0h0M1205.2 176.2h0M1200.8 90.8h0M1199.9 99.0h0M1185.3 46.0h0M1132.1 127.9h0M1090.1 169.7h0M1138.5 71.4h0M1148.8 52.9h0M1169.0 30.9h0M1195.2 76.2h0M1049.6 99.0h0M1135.9 129.2h0M1045.3 109.8h0M1203.4 122.7h0M1081.5 190.9h0" stroke="#2908f8"/><path d="M1064.6 104.6h0" stroke="#29a05f"/><path d="M1117.5 118.4h0M1064.6 99.0h0" stroke="#2dd832"/><path d="M1054.8 94.3h0" stroke="#2c8e71"/><path d="M1199.9 133.5h0" stroke="#2a9d62"/><path d="M1198.2 79.2h0M1065.1 169.7h0M1155.7 64.5h0M1108.0 61.5h0M1059.9 88.6h0M1079.7 139.5h0M1181.1 41.2h0M1166.0 76.2h0M1188.8 115.8h0M1075.4 94.3h0M1070.2 91.6h0M1223.6 124.4h0M1041.4 144.3h0M1052.2 118.4h0M1075.4 59.3h0M1058.2 158.9h0M1114.0 113.0h0M1120.0 126.6h0M1047.9 130.9h0M1166.4 184.3h0" stroke="#2804fc"/><path d="M1166.4 158.9h0M1203.4 63.6h0M1182.3 86.5h0M1207.7 156.7h0M1064.2 66.2h0M1124.8 68.9h0M1080.5 146.9h0M1179.8 122.7h0M1214.5 144.7h0M1157.4 77.0h0M1063.8 128.3h0M1090.0 61.5h0M1093.4 66.2h0" stroke="#2a11ef"/><path d="M1197.4 87.8h0" stroke="#2d857a"/><path d="M1136.8 119.3h0M1148.8 96.4h0" stroke="#2a9e61"/><path d="M1181.5 83.0h0" stroke="#1fe53c"/><path d="M1212.8 96.4h0" stroke="#2f7887"/><path d="M1152.3 169.7h0" stroke="#316e91"/><path d="M1054.8 115.8h0M1125.6 118.4h0M1140.3 174.9h0M1045.3 115.8h0M1207.7 163.6h0M1167.7 71.0h0M1168.2 168.9h0M1158.3 94.7h0M1188.8 96.4h0M1205.1 138.2h0M1135.9 70.1h0M1120.0 89.5h0M1168.2 118.9h0M1179.3 37.2h0M1205.1 99.9h0M1112.7 118.9h0M1160.4 151.6h0M1070.3 183.5h0M1113.6 127.0h0M1140.2 146.9h0M1184.5 125.3h0M1205.1 68.9h0M1048.3 121.9h0M1204.2 60.2h0" stroke="#2907f9"/><path d="M1123.1 185.2h0M1082.3 133.5h0M1167.3 55.9h0M1083.8 104.5h0M1088.3 64.9h0M1154.1 184.3h0M1119.6 52.9h0M1084.8 144.7h0M1130.8 194.6h0M1199.9 87.3h0M1129.5 47.3h0M1040.2 137.3h0M1112.3 71.9h0M1166.0 163.6h0M1113.6 65.8h0M1124.3 156.7h0M1133.4 114.0h0M1184.5 139.0h0" stroke="#2800ff"/><path d="M1213.7 153.3h0" stroke="#2e837c"/><path d="M1071.9 146.4h0M1144.5 74.4h0M1185.3 143.9h0M1105.9 58.5h0M1207.7 167.1h0M1047.9 118.9h0M1066.8 121.0h0M1195.6 116.2h0M1072.8 152.5h0M1192.6 154.2h0M1068.9 155.5h0M1040.2 132.2h0M1087.0 60.2h0M1214.5 104.2h0M1193.1 123.2h0M1202.5 97.3h0M1057.3 118.9h0M1062.1 55.0h0M1096.9 176.6h0M1088.3 71.4h0M1080.5 161.5h0M1067.6 149.9h0M1038.9 106.3h0M1059.9 190.0h0M1170.7 70.6h0M1059.1 116.6h0M1091.3 51.6h0M1053.5 126.6h0M1084.0 164.0h0M1188.8 155.0h0" stroke="#2a16eb"/><path d="M1146.3 183.1h0" stroke="#2cd237"/><path d="M1178.9 166.2h0M1157.4 67.1h0M1181.0 97.7h0M1084.0 49.4h0M1186.2 71.4h0M1076.2 118.9h0M1191.4 118.4h0M1104.2 71.9h0M1161.3 131.3h0M1072.8 190.7h0M1176.7 70.6h0M1109.3 78.7h0M1152.3 67.1h0M1199.1 64.5h0M1113.2 58.9h0M1205.5 155.9h0M1116.2 186.0h0M1087.4 118.9h0M1071.9 61.9h0M1218.0 138.6h0M1189.6 162.3h0M1090.0 137.8h0M1211.1 151.6h0M1071.9 158.9h0M1051.3 159.3h0M1179.3 63.2h0M1056.0 132.2h0M1142.8 148.6h0" stroke="#2a11f0"/><path d="M1056.5 111.5h0M1059.9 131.7h0M1078.0 81.7h0M1131.6 92.5h0" stroke="#2909f6"/><path d="M1082.8 115.8h0" stroke="#2ad838"/><path d="M1218.4 130.9h0M1199.1 143.9h0M1136.8 55.9h0M1200.8 71.4h0M1081.9 95.1h0M1124.8 79.6h0M1113.2 139.9h0M1172.9 48.6h0M1073.7 77.0h0M1156.6 185.2h0M1220.6 92.5h0M1091.4 36.9h0M1064.6 139.0h0" stroke="#2a17ea"/><path d="M1164.7 70.6h0M1144.1 70.6h0M1119.6 146.4h0M1193.1 74.9h0" stroke="#2a13ed"/><path d="M1181.9 180.0h0M1200.8 65.8h0M1038.0 127.9h0M1197.4 98.2h0M1160.9 103.3h0M1120.9 80.0h0M1146.3 55.0h0M1182.3 124.0h0M1198.3 169.7h0M1059.9 105.9h0M1121.3 59.3h0M1083.1 86.5h0M1147.1 156.3h0M1201.2 138.6h0M1054.3 136.0h0M1080.5 59.8h0M1079.2 123.2h0M1037.1 118.9h0M1195.2 52.9h0M1037.1 136.5h0M1111.0 193.8h0M1173.3 112.8h0M1067.6 46.9h0M1053.0 121.4h0M1092.6 83.9h0M1145.8 59.3h0M1211.1 137.8h0" stroke="#2909f7"/><path d="M1184.5 170.6h0M1064.2 146.4h0M1084.0 61.0h0M1204.2 104.2h0M1222.7 118.4h0M1182.8 99.4h0M1192.6 99.9h0M1116.2 174.9h0M1207.7 90.8h0M1173.3 54.2h0M1171.6 62.3h0M1141.1 164.0h0M1101.6 66.2h0M1218.0 141.6h0M1061.6 112.8h0M1181.9 64.5h0M1103.3 161.5h0M1112.7 151.6h0M1192.2 78.7h0M1186.6 159.3h0M1158.3 120.6h0M1137.7 60.2h0M1058.2 121.9h0M1106.7 68.4h0M1193.1 66.2h0M1090.0 83.0h0M1089.1 162.8h0M1148.0 63.2h0M1041.4 99.4h0M1101.6 201.5h0M1075.4 68.9h0M1169.0 47.7h0M1128.6 56.3h0M1192.6 141.2h0M1182.3 55.0h0M1119.2 61.5h0M1050.5 94.3h0M1187.1 91.2h0M1197.4 118.9h0M1159.1 161.5h0M1181.0 160.2h0M1163.9 123.6h0M1075.4 91.2h0" stroke="#290af6"/><path d="M1133.4 62.8h0" stroke="#2f7c83"/><path d="M1164.3 114.5h0" stroke="#2f7986"/><path d="M1117.5 74.0h0M1188.3 130.5h0" stroke="#2f7689"/><path d="M1139.4 86.5h0" stroke="#2cd535"/><path d="M1063.4 116.2h0M1184.5 153.7h0M1067.2 146.9h0M1197.4 166.6h0M1069.4 65.8h0M1076.3 168.9h0M1173.3 93.4h0M1066.0 190.0h0M1117.5 161.5h0M1186.2 101.2h0" stroke="#2907f8"/><path d="M1057.4 184.3h0M1097.7 82.2h0M1212.8 158.9h0M1055.6 141.2h0M1114.0 101.7h0M1198.2 70.6h0M1181.5 128.3h0M1086.5 69.7h0M1164.3 99.4h0M1086.5 149.4h0M1126.9 140.3h0M1186.2 53.7h0M1206.0 79.2h0M1181.9 50.3h0M1187.9 65.8h0M1063.4 159.8h0M1223.1 143.9h0M1187.5 74.9h0M1051.3 143.9h0M1112.1 94.2h0M1217.1 124.9h0M1050.5 116.2h0M1053.5 110.2h0M1088.3 156.3h0M1067.6 51.6h0M1143.7 65.8h0M1086.1 75.7h0M1208.5 86.9h0M1111.0 121.4h0M1134.7 47.3h0M1182.8 191.2h0M1205.1 74.9h0M1074.1 132.6h0M1134.2 116.2h0M1115.8 90.3h0M1178.0 86.5h0M1090.0 152.5h0M1068.1 127.0h0M1168.6 88.6h0M1187.1 179.2h0M1070.7 149.4h0M1150.5 83.9h0M1071.1 118.4h0M1133.4 153.3h0M1087.4 147.7h0M1125.7 181.7h0" stroke="#2a15ec"/><path d="M1184.0 90.3h0" stroke="#2cd038"/><path d="M1141.1 103.3h0" stroke="#30758a"/><path d="M1073.7 123.6h0" stroke="#2ee32a"/><path d="M1085.7 57.2h0" stroke="#2c916e"/><path d="M1194.4 158.0h0M1087.4 138.6h0M1198.2 137.3h0M1160.0 99.0h0M1061.6 64.9h0M1088.3 127.9h0M1053.0 81.7h0M1208.5 93.9h0M1126.5 81.7h0M1148.4 45.1h0M1108.0 73.6h0M1066.8 55.5h0" stroke="#290ef3"/><path d="M1184.5 49.0h0M1071.5 48.2h0M1210.3 122.7h0M1065.9 81.7h0M1179.8 144.3h0M1095.1 158.9h0M1150.5 139.9h0M1212.8 101.6h0M1075.4 101.2h0M1190.5 168.9h0M1211.1 119.3h0M1122.2 86.0h0M1108.5 126.2h0M1050.0 127.0h0M1109.7 51.6h0M1092.1 126.6h0" stroke="#2905fa"/><path d="M1121.8 134.8h0" stroke="#316c93"/><path d="M1135.1 170.6h0" stroke="#2dde2e"/><path d="M1119.6 140.8h0M1111.0 60.2h0M1134.3 186.0h0M1059.9 99.4h0M1132.5 108.0h0M1184.0 60.6h0M1176.8 180.9h0M1197.4 158.5h0M1134.2 140.3h0M1208.1 129.2h0" stroke="#290df4"/><path d="M1220.1 93.9h0M1141.1 59.3h0M1166.9 80.0h0M1118.8 190.3h0M1081.0 127.9h0M1041.4 116.2h0M1201.7 74.4h0M1188.8 189.5h0M1121.4 174.0h0M1203.4 141.6h0M1196.5 54.6h0M1171.6 156.3h0M1139.8 119.3h0M1117.5 60.2h0M1180.2 115.3h0M1139.4 55.5h0M1205.1 144.7h0M1047.9 141.6h0M1191.4 138.2h0M1180.6 151.6h0M1063.4 133.0h0M1058.6 152.9h0M1105.9 151.6h0M1074.1 48.2h0M1068.9 161.5h0M1169.4 65.8h0M1152.3 70.1h0M1204.2 91.2h0M1085.7 131.7h0M1170.3 99.4h0" stroke="#290cf4"/><path d="M1206.4 86.0h0M1119.3 36.9h0M1109.3 143.4h0M1210.3 99.4h0M1126.5 168.9h0M1209.8 134.8h0" stroke="#2a16ec"/><path d="M1122.2 161.5h0M1207.7 76.2h0M1204.3 168.9h0M1121.4 195.5h0M1115.8 56.7h0M1098.7 169.7h0M1050.9 103.3h0M1062.5 141.6h0M1155.3 99.0h0M1095.1 166.6h0M1186.2 79.2h0M1194.8 131.3h0M1215.8 106.7h0M1079.7 83.5h0M1164.7 90.3h0M1112.3 80.9h0M1194.8 71.9h0M1189.6 124.0h0M1202.9 149.9h0M1181.9 67.5h0M1206.8 67.5h0M1158.3 62.3h0M1207.7 98.2h0M1061.6 150.3h0M1169.0 143.9h0M1083.5 124.4h0" stroke="#2a10f1"/><path d="M1144.1 89.0h0M1128.2 151.6h0M1168.2 149.9h0M1062.5 119.3h0M1139.4 61.5h0M1191.4 71.4h0M1213.3 83.5h0M1199.1 50.7h0M1207.7 123.2h0M1207.2 103.7h0M1212.8 140.8h0M1075.4 111.5h0" stroke="#2803fd"/><path d="M1212.8 164.0h0M1173.7 71.4h0M1065.1 184.3h0M1076.2 55.9h0M1199.9 151.2h0M1075.4 147.3h0M1059.5 65.8h0M1197.4 63.2h0M1161.7 69.7h0M1135.9 142.5h0M1070.2 121.9h0M1177.6 81.3h0M1059.9 91.6h0M1179.8 111.5h0M1162.1 96.4h0M1208.5 150.3h0M1195.6 80.5h0M1101.1 126.2h0M1189.2 146.0h0M1171.2 166.6h0M1119.6 66.2h0M1131.2 99.4h0M1109.7 123.6h0M1096.9 65.8h0M1141.1 155.0h0" stroke="#2804fb"/><path d="M1142.9 181.7h0" stroke="#2ed437"/><path d="M1139.8 138.2h0" stroke="#2cd039"/><path d="M1200.8 153.3h0M1154.0 103.3h0M1071.1 157.2h0M1143.7 140.3h0M1060.8 82.2h0M1187.1 55.9h0" stroke="#2a17eb"/><path d="M1075.4 151.2h0" stroke="#2e817e"/><path d="M1050.5 89.9h0" stroke="#316b94"/><path d="M1185.8 163.6h0M1072.8 69.7h0M1071.1 56.3h0M1067.6 93.9h0M1148.0 153.7h0M1059.9 145.1h0M1143.7 83.0h0M1135.1 83.5h0" stroke="#2802fe"/><path d="M1202.1 145.6h0M1115.8 109.2h0M1089.1 132.6h0M1188.8 43.4h0M1176.7 66.2h0M1043.2 138.6h0M1175.5 51.6h0M1058.2 135.6h0M1197.4 51.2h0M1129.1 75.7h0M1069.4 170.6h0M1126.5 85.6h0M1082.8 98.9h0M1184.9 87.3h0M1133.4 190.3h0M1125.3 112.1h0M1145.8 154.2h0M1196.5 86.0h0M1173.3 42.1h0M1125.2 147.3h0M1123.9 190.3h0M1154.0 75.3h0M1095.6 58.0h0M1052.2 130.9h0M1054.3 78.7h0M1066.8 101.2h0M1153.1 63.6h0M1181.5 105.5h0" stroke="#290df3"/><path d="M1077.5 104.2h0" stroke="#2de02c"/><path d="M1085.7 90.8h0" stroke="#290bf6"/><path d="M1175.5 147.3h0" stroke="#2dd932"/><path d="M1191.4 160.2h0M1120.0 77.5h0M1059.9 68.4h0M1149.8 180.9h0M1171.2 78.3h0M1117.9 52.0h0M1078.8 57.6h0M1079.2 73.2h0M1067.6 164.5h0M1095.1 91.6h0M1148.0 164.0h0M1192.2 93.4h0M1176.7 159.3h0" stroke="#2906f9"/><path d="M1201.2 80.0h0M1113.6 76.2h0M1191.4 190.7h0M1174.6 123.2h0M1206.8 133.9h0M1120.5 181.7h0M1075.4 157.2h0M1186.2 63.6h0M1178.9 90.8h0M1178.0 98.2h0M1087.4 123.6h0M1154.8 71.0h0M1207.7 146.4h0M1178.5 129.2h0M1164.7 51.6h0M1188.8 42.9h0M1177.6 170.6h0M1168.6 122.7h0M1172.5 89.9h0M1148.0 89.0h0M1173.3 96.9h0M1091.7 79.6h0M1158.3 141.2h0" stroke="#2803fc"/><path d="M1069.4 141.2h0M1146.3 108.0h0M1174.2 61.5h0M1186.2 174.9h0M1159.1 56.7h0M1045.3 104.2h0M1046.2 126.2h0M1225.7 104.2h0M1073.7 56.7h0M1175.5 84.3h0M1126.2 102.6h0M1130.8 207.9h0M1192.6 87.8h0M1091.7 123.2h0M1158.3 106.3h0M1221.8 137.3h0" stroke="#2906fa"/><path d="M1214.1 167.1h0" stroke="#2b9867"/><path d="M1141.1 85.6h0M1122.2 87.8h0M1066.8 118.9h0M1208.5 141.2h0M1069.4 87.8h0M1148.8 76.2h0M1067.6 106.7h0M1090.9 175.7h0M1164.7 188.6h0M1097.3 155.5h0M1169.9 49.4h0M1105.9 192.1h0M1141.1 74.0h0M1054.8 103.7h0M1078.0 156.3h0M1200.8 55.0h0M1175.5 89.5h0M1053.5 146.4h0M1085.7 113.0h0M1058.6 128.3h0M1123.9 57.6h0M1219.7 156.3h0M1150.5 150.7h0M1094.4 175.7h0M1121.3 68.4h0M1151.4 159.8h0M1090.8 158.0h0M1132.1 137.3h0M1067.6 117.1h0M1186.2 118.9h0M1083.1 136.5h0M1087.4 87.8h0M1175.5 154.2h0M1130.8 198.1h0M1086.6 190.3h0M1178.5 190.3h0M1090.0 90.8h0M1201.2 105.0h0M1225.7 137.8h0M1218.8 144.3h0M1225.3 149.9h0M1152.7 57.2h0M1063.4 101.6h0M1095.2 36.9h0M1084.8 159.3h0M1136.4 143.4h0M1158.3 71.4h0M1143.7 146.4h0" stroke="#2802fd"/><path d="M1084.0 128.3h0M1071.1 101.6h0M1160.9 146.9h0M1216.3 116.2h0M1090.8 56.7h0M1194.4 165.8h0M1093.5 199.8h0M1122.2 63.6h0M1087.4 78.7h0M1145.8 84.8h0M1079.7 90.8h0M1100.3 59.3h0M1134.2 118.9h0M1182.8 184.3h0M1043.6 131.7h0M1039.7 118.4h0M1078.0 134.8h0" stroke="#2a10f0"/><path d="M1186.6 122.3h0" stroke="#2e7d82"/><path d="M1153.1 106.7h0" stroke="#30728d"/><path d="M1065.1 151.2h0M1097.7 160.2h0M1219.3 149.0h0M1074.6 175.7h0M1176.8 37.8h0M1202.5 70.6h0M1081.8 48.6h0M1209.0 112.8h0M1114.0 88.6h0M1195.2 137.8h0M1160.1 184.3h0M1047.0 137.3h0M1145.5 168.9h0M1150.1 148.2h0M1139.8 34.7h0M1190.5 60.6h0M1095.1 86.9h0M1068.5 60.6h0M1175.0 74.4h0M1066.8 68.9h0M1074.5 138.2h0M1122.2 152.9h0M1051.3 137.8h0M1064.6 89.5h0M1193.5 91.2h0M1209.8 81.7h0M1104.2 91.2h0M1111.9 155.0h0M1087.5 117.7h0M1092.6 118.4h0M1106.7 67.1h0M1139.4 65.3h0M1171.6 38.6h0M1099.9 173.2h0M1085.7 94.2h0M1167.3 96.9h0M1057.8 102.0h0M1160.4 89.9h0M1183.2 69.7h0M1169.9 114.5h0M1193.9 55.9h0M1146.3 99.0h0M1067.6 131.7h0M1189.6 68.9h0M1214.5 122.7h0" stroke="#290bf5"/><path d="M1203.4 88.2h0M1160.0 118.9h0" stroke="#2cd336"/><path d="M1221.4 123.2h0" stroke="#2a15ed"/><path d="M1215.4 96.9h0M1178.1 25.2h0M1088.7 48.2h0M1173.3 192.1h0M1045.3 154.2h0M1113.2 68.4h0M1167.7 86.5h0M1172.0 75.3h0M1135.9 164.9h0M1074.5 66.2h0M1160.0 60.2h0M1127.4 167.5h0M1116.2 80.9h0M1116.6 133.5h0M1079.7 77.5h0M1134.2 128.7h0M1113.0 117.7h0M1177.2 53.3h0M1163.9 61.9h0M1098.1 58.5h0M1072.8 86.5h0M1086.6 175.7h0M1176.7 61.9h0M1091.7 146.4h0M1117.7 94.2h0M1145.8 163.2h0" stroke="#2a13ee"/><path d="M1177.2 138.6h0" stroke="#21e23b"/><path d="M1075.4 88.6h0M1151.8 99.0h0M1148.8 157.2h0M1194.8 62.8h0M1055.6 90.8h0M1069.4 78.7h0M1082.3 57.2h0M1087.5 100.8h0M1176.7 76.2h0M1166.4 111.0h0M1178.9 55.9h0M1147.1 160.2h0M1148.4 79.6h0M1196.5 124.4h0M1169.4 74.0h0M1184.5 30.9h0M1216.3 136.0h0M1035.9 146.4h0M1058.2 109.8h0" stroke="#2a0ff1"/><path d="M1176.8 198.6h0" stroke="#32659a"/><path d="M1121.0 36.0h0M1185.8 116.2h0M1202.6 172.3h0M1087.4 141.2h0M1222.3 117.1h0M1116.2 68.9h0M1183.6 166.2h0M1105.4 160.6h0M1063.4 166.2h0M1195.6 95.6h0M1096.4 126.2h0M1116.2 152.0h0M1187.1 141.6h0M1189.6 86.9h0M1051.3 151.6h0M1139.4 90.3h0M1157.5 196.4h0M1176.3 113.6h0M1037.6 116.6h0M1174.2 143.4h0M1101.1 145.1h0M1190.9 51.6h0M1070.2 113.6h0M1081.4 156.3h0M1199.9 123.6h0M1150.5 46.4h0M1214.5 110.2h0M1210.3 157.2h0M1209.5 170.6h0M1123.1 154.6h0M1188.8 53.3h0M1148.8 69.7h0" stroke="#2801fe"/><path d="M1164.7 153.7h0M1081.4 119.3h0M1206.4 71.0h0M1118.8 84.8h0M1117.5 143.9h0M1171.6 108.5h0M1059.1 93.9h0" stroke="#290cf5"/><path d="M1190.1 90.8h0" stroke="#2ddb30"/><path d="M1050.0 111.0h0M1043.6 119.3h0" stroke="#2801ff"/><path d="M1206.0 151.2h0" stroke="#2d847b"/><path d="M1175.5 101.2h0" stroke="#2ddd2f"/><path d="M1070.2 84.3h0M1064.6 85.2h0M1078.0 145.1h0M1113.6 203.2h0M1159.1 77.5h0M1060.8 77.5h0M1144.2 34.3h0M1102.4 83.5h0M1167.3 40.3h0M1151.4 61.5h0M1187.9 81.7h0" stroke="#2805fb"/><path d="M1078.8 114.0h0" stroke="#2cd733"/><path d="M1138.5 96.0h0" stroke="#2d8679"/><path d="M1068.5 138.6h0M1105.9 51.6h0M1130.8 190.3h0M1212.0 88.2h0M1061.7 170.6h0M1088.5 108.3h0M1075.4 162.3h0M1046.2 146.9h0M1127.2 94.2h0M1093.4 57.2h0M1104.2 61.9h0M1202.5 61.5h0M1176.8 184.3h0M1092.1 130.0h0M1201.7 181.7h0M1172.5 119.3h0M1118.3 151.2h0M1160.9 52.5h0M1137.2 146.9h0M1206.8 118.9h0M1097.8 206.7h0M1152.3 149.0h0M1142.4 98.6h0M1171.6 85.2h0M1132.1 85.2h0M1095.1 81.7h0M1200.4 52.5h0M1056.5 86.5h0M1096.9 163.6h0M1094.3 61.5h0M1168.2 51.6h0M1142.8 61.0h0M1184.5 43.9h0M1061.6 122.7h0" stroke="#2a14ed"/><path d="M1107.6 86.0h0" stroke="#29a35c"/><path d="M1081.8 81.7h0M1081.4 69.3h0M1174.2 80.0h0M1083.1 78.7h0M1129.1 71.0h0M1065.1 112.8h0M1151.4 74.4h0M1059.5 163.6h0M1071.9 93.4h0M1122.5 93.2h0M1117.0 156.3h0M1158.4 188.6h0M1113.6 182.6h0M1185.3 107.6h0M1175.5 57.6h0M1075.4 51.6h0M1211.1 145.6h0M1161.7 64.5h0M1145.8 71.4h0M1197.4 149.0h0M1213.7 133.9h0M1078.0 52.5h0M1159.1 153.7h0M1096.4 71.0h0M1206.0 161.0h0M1083.1 64.0h0M1090.8 86.5h0M1132.9 69.7h0M1090.1 200.6h0M1105.4 166.2h0M1119.6 155.5h0M1177.2 43.9h0" stroke="#2a12ef"/></g>
<line x1="1034.6" y1="217.9" x2="1226.5" y2="217.9" stroke="#777" stroke-width="1.5"/>
<g stroke="#777" stroke-width="1.2"><line x1="1050.6" y1="217.9" x2="1050.6" y2="215.9"/><line x1="1076.8" y1="217.9" x2="1076.8" y2="215.9"/><line x1="1103" y1="217.9" x2="1103" y2="215.9"/><line x1="1129.2" y1="217.9" x2="1129.2" y2="215.9"/><line x1="1155.4" y1="217.9" x2="1155.4" y2="215.9"/><line x1="1181.6" y1="217.9" x2="1181.6" y2="215.9"/><line x1="1207.8" y1="217.9" x2="1207.8" y2="215.9"/><line x1="1035.3" y1="211.5" x2="1037.3" y2="211.5"/><line x1="1035.3" y1="189" x2="1037.3" y2="189"/><line x1="1035.3" y1="166.5" x2="1037.3" y2="166.5"/><line x1="1035.3" y1="143.9" x2="1037.3" y2="143.9"/><line x1="1035.3" y1="121.4" x2="1037.3" y2="121.4"/><line x1="1035.3" y1="98.9" x2="1037.3" y2="98.9"/><line x1="1035.3" y1="76.4" x2="1037.3" y2="76.4"/><line x1="1035.3" y1="53.8" x2="1037.3" y2="53.8"/><line x1="1035.3" y1="31.3" x2="1037.3" y2="31.3"/></g>
<g font-family="Liberation Sans, sans-serif" font-size="9.9" fill="#1a1a1a" stroke="#1a1a1a" stroke-width="0.3"><text x="1050.6" y="232.2" text-anchor="middle">-60</text><text x="1076.8" y="232.2" text-anchor="middle">-40</text><text x="1103" y="232.2" text-anchor="middle">-20</text><text x="1129.2" y="232.2" text-anchor="middle">0</text><text x="1155.4" y="232.2" text-anchor="middle">20</text><text x="1181.6" y="232.2" text-anchor="middle">40</text><text x="1207.8" y="232.2" text-anchor="middle">60</text><text x="1031.5" y="215.6" text-anchor="end">-100</text><text x="1031.5" y="193.1" text-anchor="end">-80</text><text x="1031.5" y="170.6" text-anchor="end">-60</text><text x="1031.5" y="148" text-anchor="end">-40</text><text x="1031.5" y="125.5" text-anchor="end">-20</text><text x="1031.5" y="103" text-anchor="end">0</text><text x="1031.5" y="80.5" text-anchor="end">20</text><text x="1031.5" y="57.9" text-anchor="end">40</text><text x="1031.5" y="35.4" text-anchor="end">60</text></g>
<rect x="1231.9" y="18.2" width="14.4" height="199.8" fill="url(#cbd)" stroke="#333" stroke-width="1"/>
<g stroke="#222" stroke-width="1"><line x1="1244.3" y1="68.2" x2="1246.3" y2="68.2"/><line x1="1244.3" y1="118.1" x2="1246.3" y2="118.1"/><line x1="1244.3" y1="168.1" x2="1246.3" y2="168.1"/></g>
<g font-family="Liberation Sans, sans-serif" font-size="8.5" fill="#222"><text x="1249.5" y="22.2">1.25</text><text x="1249.5" y="72.2">1</text><text x="1249.5" y="122.1">0.75</text><text x="1249.5" y="172.1">0.5</text></g>
<text transform="translate(1050.8,13.6) scale(1,0.88)" x="0" y="0" font-family="Liberation Mono, monospace" font-size="14.1" fill="#34496b">non REM N3</text>
<text x="1146.1" y="281" text-anchor="middle" font-family="Liberation Serif, serif" font-weight="bold" font-size="32.5" fill="#000">(d)</text>
</svg></body></html>
